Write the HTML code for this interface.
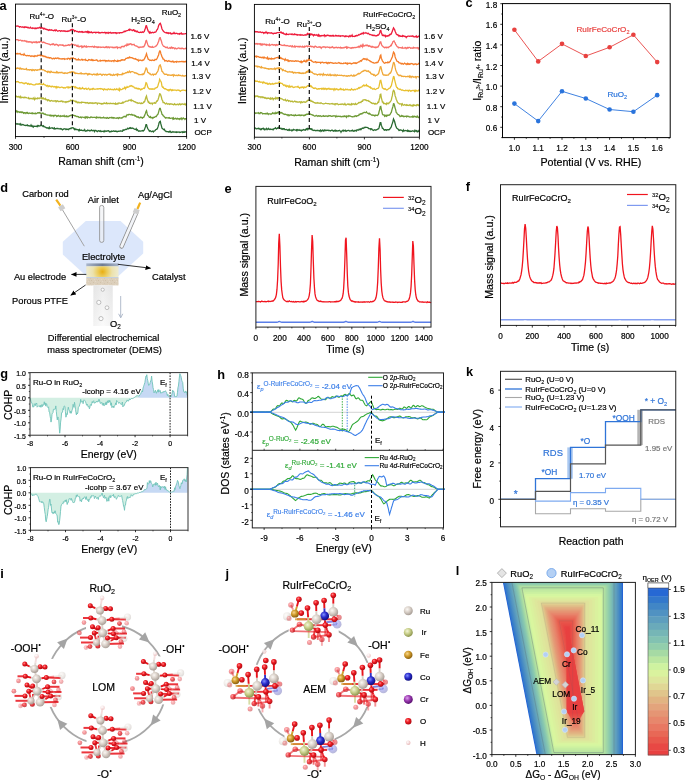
<!DOCTYPE html>
<html><head><meta charset="utf-8"><style>
html,body{margin:0;padding:0;background:#fff;}
svg{display:block;font-family:"Liberation Sans", sans-serif;will-change:transform;}
</style></head><body>
<svg width="685" height="780" viewBox="0 0 685 780">
<rect width="685" height="780" fill="#fff"/>
<path d="M15.5 26l.6 .2 .5-.1 .6-.1 .6 .2 .6-.1 .5 .5 .6 .5 .6-.5 .6 0 .5 .5 .6 0 .6 0 .5-.3 .6 .4 .6 .4 .6-.7 .5 .4 .6-.4 .6 .3 .5-.1 .6 .6 .6-.3 .6 .6 .5 .1 .6-.1 .6-.7 .6 .7 .5 .2 .6 .2 .6-.6 .5 .4 .6-.1 .6 0 .6 .7 .5-.7 .6 .2 .6 .2 .5-.6 .6 .1 .6 0 .6-.1 .5-.6 .6 .4 .6 .5 .6-1 .5 .9 .6-.1 .6-.1 .5 1.1 .6-.2 .6-.5 .6 .7 .5 .4 .6-.1 .6 .5 .5-.2 .6 .4 .6 .4 .6-.7 .5 .4 .6-.1 .6 .2 .6-.4 .5 .3 .6 .2 .6 .4 .5 .1 .6-.8 .6 .2 .6 .6 .5-.9 .6 .6 .6 .2 .5 .5 .6-.2 .6-.3 .6 0 .5 .1 .6 .6 .6-.6 .6 .1 .5 .2 .6-.1 .6 0 .5-.3 .6 .5 .6-.2 .6 .6 .5-.2 .6-.2 .6 .2 .5-.5 .6 .4 .6-.5 .6 0 .5-.9 .6 .4 .6-.8 .6-.2 .5 .6 .6-.1 .6 .5 .5 1 .6-.8 .6 .3 .6 .5 .5 .3 .6-.1 .6 .1 .5 .4 .6 0 .6-.5 .6 .4 .5 .1 .6-.4 .6 .5 .6-.4 .5 .7 .6-.2 .6-.1 .5-.2 .6 .2 .6-.6 .6 .3 .5 .6 .6-.9 .6 1.1 .5-.9 .6 .9 .6-.6 .6 .6 .5-.2 .6-.5 .6 .9 .6 .1 .5-.5 .6 0 .6 0 .5-.2 .6 .7 .6-.6 .6 .2 .5-.2 .6 .1 .6-.2 .5 .9 .6-.5 .6 .4 .6-.3 .5-.3 .6 .2 .6-.1 .6 .2 .5-.1 .6 .1 .6-.4 .5 .2 .6 .9 .6-.8 .6-.1 .5 .5 .6 .3 .6-.9 .5 .4 .6-.1 .6-.4 .6 .9 .5-.3 .6 .1 .6-.3 .6 .4 .5-.3 .6 .1 .6-.3 .5 0 .6 .9 .6-.7 .6 .3 .5-.2 .6-.1 .6-.1 .5 .4 .6-.4 .6-.1 .6 0 .5 .2 .6-.3 .6-.3 .6-.5 .5-.5 .6 .6 .6-.3 .5-.6 .6 0 .6-.2 .6-.2 .5-.2 .6-.6 .6 .5 .5-1 .6 .7 .6-.1 .6 .2 .5 .5 .6 0 .6-.7 .6 .1 .5 1.1 .6-.4 .6 .6 .5 .6 .6-.6 .6 0 .6 1 .5 .1 .6 .1 .6 .2 .5-.3 .6-.2 .6 .5 .6-.3 .5-.4 .6 .5 .6-.5 .6-.5 .5-1.6 .6-1.6 .6-2.3 .5-.1 .6 2.3 .6 1.6 .6 1.6 .5 .6 .6 1 .6-1 .5 1 .6-.3 .6 .1 .6-.5 .5 .3 .6 .3 .6-.4 .6-.1 .5-.3 .6 .1 .6-.8 .5-1.4 .6-.3 .6-1.7 .6-2.2 .5-1.1 .6-.8 .6-.5 .5 1.2 .6 2.1 .6 2.4 .6 1 .5 .8 .6 .6 .6 .5 .6 .6 .5 .2 .6 .1 .6-.3 .5 .7 .6-.4 .6 .7 .6-.7 .5 .4 .6 .1 .6-.4 .5 1.1 .6-.1 .6-.6 .6 .5 .5-.2 .6-1 .6 1 .6-.1 .5 .1 .6-.4 .6 .3 .5 .1 .6 .4 .6-.2 .6-.2 .5 .6 .6-.7 .6 0 .5-.5 .6 1.2 .6-.2 .6 0 .5-.1 .6-.1 .6 0 .6-.2 .5 .1 .6 .1" stroke="#ee1c3c" stroke-width="1.3" fill="none"/>
<text x="190.6" y="38.8" font-size="8.0" stroke="#000" stroke-width="0.2" stroke-linejoin="round">1.6 V</text>
<path d="M15.5 40l.6-.2 .5-.1 .6-.1 .6 .1 .6 .9 .5-.3 .6 0 .6-.1 .6-.1 .5 .4 .6 .5 .6-.4 .5 .2 .6 .1 .6 .2 .6-.5 .5 .5 .6-.1 .6 .7 .5-.5 .6 .6 .6 .4 .6-.6 .5 0 .6 .4 .6 0 .6-.3 .5 .6 .6 .6 .6-.8 .5 .1 .6-.3 .6 .5 .6-.5 .5 0 .6 .8 .6-.8 .5 .6 .6 0 .6-.5 .6 0 .5 .4 .6-.8 .6-.1 .6-.2 .5 .6 .6 .6 .6 0 .5-.5 .6 .3 .6 .3 .6 .5 .5 .1 .6 .3 .6 .2 .5 0 .6 .2 .6 .2 .6 0 .5 .3 .6 .5 .6-.4 .6-.1 .5-.5 .6 .7 .6-.7 .5 .2 .6 .9 .6 0 .6-.3 .5-.5 .6 .5 .6 0 .5 .5 .6 .6 .6-.7 .6-.3 .5-.1 .6 .5 .6 0 .6-.3 .5 .4 .6-.4 .6 .9 .5 0 .6 0 .6-.5 .6 .4 .5-.2 .6-.1 .6-.1 .5-.4 .6-.1 .6 .6 .6-.5 .5-.1 .6 .1 .6-1.1 .6 .3 .5 .3 .6 .2 .6-.1 .5 .8 .6-.1 .6-.2 .6 .3 .5 .8 .6 .1 .6-.8 .5 1.3 .6-.2 .6 .3 .6-.6 .5 .1 .6-.3 .6 1.3 .6-.9 .5 .7 .6-.8 .6 .3 .5-.6 .6 .5 .6 .5 .6-.8 .5 .9 .6-.3 .6-.4 .5 .2 .6 0 .6 .2 .6-.2 .5 0 .6 .2 .6-.3 .6 0 .5 .4 .6 .4 .6-.9 .5 .6 .6-.2 .6-.1 .6 .7 .5-.5 .6 .7 .6-.7 .5 .4 .6-.2 .6-.2 .6 .5 .5-.2 .6 .2 .6-.2 .6-.3 .5 .4 .6 0 .6 .4 .5-.7 .6 .3 .6-.5 .6 .8 .5-.6 .6-.2 .6 .6 .5 .4 .6-.9 .6 .2 .6 .1 .5-.1 .6 .5 .6-.4 .6 .1 .5 .5 .6-.5 .6 .4 .5-.5 .6-.1 .6-.2 .6 1.3 .5-.8 .6 .2 .6-.1 .5 0 .6-.1 .6 .5 .6-1.1 .5-.3 .6 0 .6-.3 .6 .6 .5-.2 .6-.9 .6-.4 .5 .1 .6 .4 .6-1.7 .6 .9 .5-.8 .6 .6 .6-.8 .5 .2 .6-.5 .6 .2 .6 .9 .5 0 .6-.3 .6 .1 .6-.2 .5 .8 .6 .4 .6 .2 .5 .3 .6-.1 .6 .6 .6 .2 .5 .6 .6 .3 .6-.6 .5-.1 .6 .3 .6-.2 .6-.1 .5 .1 .6-.6 .6 .3 .6-.9 .5-1 .6-1.9 .6-2.3 .5-.3 .6 2.2 .6 1.8 .6 1.5 .5 .6 .6-.1 .6 .7 .5-.4 .6 .4 .6 .1 .6-.6 .5 .7 .6 0 .6-.3 .6-.2 .5-.2 .6-.5 .6-.2 .5-.7 .6-.7 .6-1.7 .6-1.2 .5-2.1 .6-1.6 .6-.1 .5 2 .6 1.2 .6 2.5 .6 1.2 .5 .9 .6 .7 .6 .1 .6 .4 .5 .6 .6 .1 .6 .1 .5-.5 .6 .8 .6 .3 .6 .1 .5-.3 .6-.5 .6 .9 .5-.4 .6-.8 .6 1.1 .6-.6 .5 0 .6 .3 .6 .7 .6-.6 .5 .3 .6 .5 .6 0 .5-.6 .6-.1 .6-.3 .6 .2 .5 .4 .6 0 .6-.1 .5 .3 .6-.6 .6 .3 .6 .3 .5-.1 .6 .2 .6-.2 .6-.3 .5 .3 .6-.5" stroke="#f8706a" stroke-width="1.3" fill="none"/>
<text x="190.6" y="52.8" font-size="8.0" stroke="#000" stroke-width="0.2" stroke-linejoin="round">1.5 V</text>
<path d="M15.5 52.9l.6 .9 .5-.1 .6 .2 .6-.6 .6 .6 .5 0 .6 0 .6-.4 .6 .8 .5 .5 .6-.1 .6-.3 .5 .3 .6 .4 .6-1.2 .6 1 .5 .4 .6 .1 .6 .4 .5-.1 .6-.2 .6 .1 .6 .2 .5-.4 .6 .3 .6 .4 .6 .4 .5-.6 .6 .1 .6 .1 .5 .4 .6-.4 .6 .5 .6-.9 .5 .3 .6-.1 .6 .3 .5 0 .6-1 .6 .1 .6 .3 .5-.4 .6-.3 .6 .9 .6-.2 .5 .1 .6-.2 .6 .7 .5-.2 .6 .6 .6-.4 .6 .2 .5 .6 .6-.1 .6 .6 .5 0 .6-.3 .6 .5 .6-.1 .5 .5 .6-.4 .6 .1 .6 .6 .5 .5 .6-.1 .6-.6 .5 .1 .6 .5 .6-.5 .6-.3 .5 .4 .6 .2 .6-.4 .5-.2 .6 .1 .6 .7 .6-.4 .5 .2 .6 .2 .6 .2 .6-.3 .5 .3 .6-.4 .6 .2 .5-.2 .6 .8 .6-.4 .6-.2 .5 .1 .6 0 .6 .3 .5-.9 .6 .1 .6 .1 .6 .8 .5-.7 .6-.6 .6 .2 .6 .4 .5-.8 .6 0 .6 .8 .5 0 .6 .3 .6-.2 .6 1.1 .5 .1 .6-.2 .6 .1 .5-.8 .6 1 .6-.3 .6 .3 .5 .1 .6-.3 .6-.5 .6 .8 .5-.4 .6 .2 .6-.1 .5 .1 .6-.6 .6 1.2 .6-.3 .5 .3 .6 .3 .6-.6 .5-.6 .6 .3 .6-.1 .6 .3 .5 .2 .6-.7 .6 .8 .6-.6 .5 .7 .6-.2 .6 0 .5 .1 .6-.2 .6 0 .6-.3 .5 .6 .6 .7 .6 0 .5-.2 .6-.2 .6-.5 .6 .8 .5-.5 .6 0 .6-.1 .6 .2 .5-.2 .6 .2 .6-.4 .5 .3 .6 .9 .6-.8 .6 0 .5 .3 .6 0 .6-.6 .5 .4 .6 .4 .6-.3 .6 0 .5 .5 .6-.7 .6 .2 .6-.2 .5 .7 .6-1.2 .6 .5 .5 .1 .6 .4 .6-.1 .6 .3 .5-1 .6 .7 .6-.4 .5-.1 .6 .3 .6-.6 .6-.5 .5 .5 .6-.6 .6 .1 .6 .2 .5-.2 .6 .2 .6-.9 .5-.7 .6 0 .6-.3 .6-.4 .5 .4 .6-.5 .6-.6 .5 .9 .6-.4 .6 .2 .6 0 .5 .3 .6 0 .6 .6 .6 0 .5 .2 .6 .3 .6-.4 .5 .7 .6 .2 .6 .4 .6-.4 .5 1.3 .6-.4 .6-.4 .5-.1 .6 .5 .6 .1 .6-.3 .5 .2 .6-.5 .6 .1 .6-1.1 .5-.8 .6-1.5 .6-1.5 .5-1.5 .6 2.2 .6 1.8 .6 1.7 .5 0 .6 .6 .6 .4 .5-.2 .6 .1 .6 .2 .6-.6 .5 .2 .6 .3 .6 .1 .6-.3 .5-.8 .6 .2 .6 0 .5-.7 .6-1.1 .6-1.6 .6-1.2 .5-2.4 .6-1.7 .6 .1 .5 2.4 .6 1.6 .6 2 .6 .7 .5 1.4 .6 .1 .6 .7 .6 1.2 .5-.3 .6-.3 .6 .3 .5 .3 .6 .4 .6-.5 .6-.4 .5 .6 .6 .1 .6 .1 .5 .5 .6-.4 .6 .2 .6-.6 .5 .7 .6 .5 .6-.5 .6-.2 .5 0 .6 .6 .6-.9 .5 .3 .6 .2 .6 .1 .6-.4 .5 .3 .6-.2 .6 .1 .5-.1 .6-.3 .6 .4 .6 .3 .5-.6 .6 .2 .6 .4 .6-.6 .5 .4 .6-.4" stroke="#f47e2a" stroke-width="1.3" fill="none"/>
<text x="191.2" y="66.2" font-size="8.0" stroke="#000" stroke-width="0.2" stroke-linejoin="round">1.4 V</text>
<path d="M15.5 68.1l.6 .5 .5 0 .6-.7 .6 .4 .6-.1 .5 .1 .6 .6 .6-.9 .6 .9 .5-.3 .6 .6 .6-.3 .5-.2 .6 .4 .6 .2 .6-.1 .5 .2 .6-.3 .6-.5 .5 1.2 .6 0 .6-.1 .6 0 .5 .4 .6-.4 .6 0 .6 .2 .5 .5 .6-.8 .6 .9 .5-.6 .6-.1 .6 .8 .6-.5 .5-.4 .6 .2 .6 .4 .5 0 .6-.6 .6 .1 .6 .1 .5-.6 .6 .3 .6-.1 .6-.2 .5 .2 .6 .3 .6 .1 .5 0 .6 .3 .6 .7 .6-.1 .5 .5 .6 .3 .6-.1 .5 .8 .6-1 .6 .7 .6-.3 .5 .8 .6 0 .6-1.2 .6 .4 .5 .6 .6 .1 .6 .1 .5-.3 .6 .3 .6 .1 .6-.2 .5 .4 .6-1.1 .6 1 .5-.5 .6 .7 .6-.4 .6-.1 .5 .4 .6-.4 .6 .1 .6-.2 .5 .5 .6 .3 .6 .2 .5-.4 .6 .5 .6-.4 .6 0 .5 .2 .6 .2 .6-.5 .5-.1 .6-.1 .6-.1 .6-.5 .5 .5 .6-.7 .6 .2 .6-.5 .5 .4 .6 .1 .6-.1 .5 1.1 .6-.4 .6 .8 .6-.1 .5-.3 .6 .2 .6 .4 .5 0 .6 0 .6 0 .6-.5 .5 .5 .6-.6 .6 .9 .6-.3 .5 0 .6 .2 .6 .2 .5-.6 .6-.1 .6 .3 .6-.3 .5 .3 .6 1 .6-.9 .5 .6 .6-.7 .6 .6 .6-.2 .5 .1 .6 .3 .6 .4 .6-.5 .5 0 .6-.4 .6 .6 .5-.3 .6 .4 .6-.3 .6 .6 .5-1.3 .6 .7 .6 .4 .5-.4 .6-.2 .6 .2 .6-.3 .5 .5 .6 .8 .6-.4 .6-.8 .5 .1 .6 .2 .6 .5 .5-.6 .6 0 .6 .6 .6 0 .5-.4 .6-.3 .6-.1 .5 .3 .6-.5 .6 1 .6-.4 .5 .4 .6 .5 .6-.3 .6-.8 .5 .8 .6 .1 .6-.7 .5-.1 .6 .3 .6-.5 .6 1.1 .5-1.4 .6 .4 .6 .3 .5-.1 .6 .1 .6 0 .6-.3 .5 .3 .6-1.3 .6 .6 .6-.5 .5 .1 .6-.2 .6-.6 .5-.2 .6 .2 .6-.4 .6-.6 .5 .8 .6-.1 .6-1.4 .5 .5 .6 .8 .6-.6 .6-.1 .5 0 .6 0 .6 .3 .6 .2 .5 .7 .6-.2 .6 .3 .5 0 .6 .6 .6-.1 .6 .5 .5 .6 .6-.1 .6 .1 .5 0 .6 0 .6-.1 .6-.1 .5 .2 .6-.8 .6 .5 .6-1.1 .5-1.4 .6-1.7 .6-2.2 .5 .1 .6 1.7 .6 2.6 .6 .4 .5 .2 .6 .9 .6-.2 .5 .8 .6 .5 .6-.1 .6-.7 .5 .1 .6 .9 .6-.7 .6-.2 .5 .1 .6 .2 .6-.8 .5-1.1 .6-.8 .6-1.1 .6-2.2 .5-2.2 .6-1.1 .6-.3 .5 1.9 .6 2 .6 2.6 .6 .1 .5 1.2 .6 .6 .6 .7 .6 .5 .5-.3 .6 .1 .6-.1 .5 .3 .6 .7 .6-.1 .6-.3 .5 .2 .6 .2 .6 .2 .5-.3 .6 .1 .6-.5 .6 .3 .5 1 .6-1.3 .6 .6 .6 .2 .5-.2 .6-.1 .6 .3 .5 0 .6 0 .6-.6 .6 .6 .5-.2 .6 .1 .6 .3 .5 .1 .6 .1 .6-.5 .6 .5 .5 .1 .6 0 .6 .1 .6-.5 .5 0 .6 .3" stroke="#f0a838" stroke-width="1.3" fill="none"/>
<text x="192.0" y="78.9" font-size="8.0" stroke="#000" stroke-width="0.2" stroke-linejoin="round">1.3 V</text>
<path d="M15.5 81.2l.6 .7 .5-.2 .6 .2 .6-.4 .6 .4 .5 .4 .6 .4 .6 .2 .6-.3 .5 .1 .6-.2 .6 .6 .5-.2 .6 .4 .6 .5 .6-.5 .5-.5 .6 .4 .6-.2 .5 .2 .6 1 .6-.3 .6-.5 .5 .8 .6 .3 .6-.5 .6 0 .5 .1 .6 .3 .6 .2 .5 .2 .6 .1 .6 0 .6 0 .5-.3 .6-.8 .6 .4 .5 .1 .6-.3 .6 .3 .6-.5 .5-.3 .6 .8 .6-.2 .6-.1 .5 .3 .6 .2 .6-.1 .5-.8 .6 .9 .6 .3 .6 0 .5 .6 .6 .6 .6-.5 .5 0 .6 1.2 .6-.7 .6-.2 .5 .6 .6 .1 .6-.3 .6 .6 .5-.4 .6-.1 .6 .4 .5 .3 .6-.5 .6 .4 .6-.1 .5 1.1 .6-1.2 .6 .8 .5-.5 .6 0 .6 .4 .6 .1 .5 .1 .6-.2 .6-.3 .6 0 .5 .4 .6 .1 .6 .3 .5-.3 .6 .3 .6 .2 .6-.5 .5-.5 .6 0 .6-.1 .5 1 .6-1 .6 .6 .6-.4 .5 .2 .6-.4 .6-.6 .6-.1 .5 .2 .6 .1 .6-.1 .5 .4 .6 .9 .6-.9 .6 .9 .5-.2 .6 .5 .6 .4 .5-.3 .6 .4 .6-.8 .6 1 .5-.6 .6 .5 .6-.1 .6-1 .5 .7 .6 .4 .6 .4 .5-.4 .6 0 .6-.5 .6 1 .5 .2 .6-.6 .6-.1 .5-.5 .6 .9 .6 .7 .6-.7 .5 .2 .6-.2 .6-.5 .6 .8 .5-.9 .6 .4 .6 .2 .5 .2 .6-.1 .6 0 .6-.4 .5-.1 .6 .5 .6-.3 .5-.2 .6 0 .6 .3 .6-.4 .5 .2 .6-.1 .6 .6 .6 .1 .5 .6 .6-1.2 .6 .3 .5 .6 .6-.4 .6 0 .6 .7 .5-.7 .6-.3 .6 0 .5 .6 .6 0 .6-.6 .6 .2 .5 .5 .6 0 .6-.4 .6 .5 .5 0 .6-.8 .6 .5 .5 .2 .6-.3 .6-.6 .6 .7 .5 .3 .6 .3 .6-1.4 .5 1.7 .6-1.4 .6 .6 .6 0 .5-.2 .6-.4 .6-.7 .6 .4 .5-.6 .6-.9 .6 1.6 .5-1 .6 .1 .6-1.2 .6 .6 .5-.1 .6-.2 .6-.7 .5-.4 .6 .3 .6-.7 .6 .3 .5 .7 .6-.2 .6 .5 .6 .3 .5 .9 .6 .1 .6-.2 .5 .7 .6-.5 .6 .4 .6 .6 .5-.6 .6 .5 .6-.3 .5 .6 .6 .6 .6-.9 .6 .3 .5-.5 .6-.3 .6-.4 .6 .3 .5-.7 .6-2.5 .6-2.5 .5 .3 .6 1.6 .6 2.3 .6 1 .5 .7 .6 .5 .6-.2 .5 .2 .6-.4 .6 .5 .6-.4 .5 .4 .6-.3 .6 .2 .6 0 .5-.9 .6-.1 .6-.4 .5-.1 .6-.5 .6-1.6 .6-2.1 .5-1.4 .6-2.6 .6 1.1 .5 .8 .6 1.3 .6 3.7 .6 .9 .5-.1 .6 1.1 .6 .3 .6 .5 .5-.3 .6 .4 .6 .6 .5 0 .6 .5 .6-.3 .6 .8 .5-1 .6 .4 .6-.7 .5 .3 .6 .9 .6-.8 .6 .6 .5-.2 .6-.3 .6 .2 .6 0 .5 0 .6 .5 .6-.1 .5-.4 .6-.1 .6 .4 .6-.1 .5 .4 .6 .6 .6-.6 .5-.3 .6-.1 .6-.2 .6 0 .5 0 .6 .2 .6 0 .6 .4 .5-.4 .6 .1" stroke="#e8c030" stroke-width="1.3" fill="none"/>
<text x="192.5" y="93.8" font-size="8.0" stroke="#000" stroke-width="0.2" stroke-linejoin="round">1.2 V</text>
<path d="M15.5 95.6l.6 1.1 .5-.3 .6 .5 .6-.2 .6 .3 .5-.5 .6 .5 .6 .8 .6-1.3 .5 .9 .6 .3 .6-.4 .5 .2 .6 .3 .6-.6 .6 .5 .5-.4 .6 .2 .6 .1 .5 .2 .6 .2 .6 .2 .6-.6 .5 1.3 .6-.2 .6-.1 .6-.3 .5 .2 .6 .3 .6 0 .5-.8 .6 .9 .6 .8 .6-1.7 .5 1 .6-.3 .6-.2 .5 .4 .6-1 .6 .4 .6 .4 .5-.7 .6-.1 .6 .2 .6-.2 .5 .8 .6-.7 .6 .8 .5-.6 .6 .9 .6 0 .6-.7 .5 1.2 .6-.2 .6 .4 .5 .8 .6-.8 .6 .1 .6 1 .5-.4 .6 .6 .6-.4 .6-.3 .5 .3 .6 .5 .6 0 .5-.3 .6 .1 .6-.1 .6-.1 .5 1 .6-.7 .6-.3 .5 .2 .6 .5 .6 0 .6-.2 .5-.2 .6 .3 .6-.5 .6 .1 .5 .8 .6-.4 .6 .4 .5 .3 .6-.2 .6-.2 .6 .8 .5-.5 .6-.4 .6 .3 .5-.1 .6-.6 .6 .2 .6-.3 .5-.9 .6 .5 .6-.2 .6-.1 .5-.4 .6 .6 .6 .3 .5 .2 .6-.1 .6 .8 .6-.4 .5 .6 .6 .7 .6-.6 .5 .1 .6 .7 .6-.5 .6 0 .5 .3 .6 .3 .6-1.1 .6 .5 .5-.1 .6 0 .6 .1 .5 .1 .6 .4 .6-.4 .6 .4 .5 .1 .6-.4 .6 .4 .5 .5 .6-.4 .6-.3 .6 .2 .5-.3 .6 .4 .6 .3 .6-.6 .5 .2 .6 .5 .6-.5 .5 .2 .6-.4 .6 .1 .6 .1 .5 1 .6-.9 .6 0 .5 0 .6 .2 .6 .3 .6-.2 .5 .7 .6-.6 .6 .4 .6-.4 .5 .2 .6-.8 .6 .5 .5 .1 .6-.1 .6-.6 .6 1 .5-.4 .6 0 .6 .1 .5 0 .6 .2 .6-.5 .6 .1 .5 .4 .6 0 .6-.2 .6 0 .5-.1 .6 .3 .6 .4 .5-.8 .6 .9 .6-.2 .6-.5 .5 .5 .6-.9 .6-.1 .5 .1 .6 .3 .6-.1 .6-.2 .5 .1 .6-.9 .6 .7 .6-.9 .5 .1 .6-.2 .6-.5 .5-.3 .6-.1 .6 .1 .6 0 .5-.3 .6-.7 .6 0 .5-.1 .6 .4 .6-.8 .6 1.2 .5-.5 .6 .1 .6 .6 .6 .5 .5 0 .6 .5 .6-.1 .5 .7 .6 .2 .6-.2 .6 .7 .5-.3 .6 .1 .6-.2 .5 .3 .6 .4 .6-.7 .6 .6 .5-.2 .6-.3 .6-1.2 .6 .1 .5-.8 .6-2.3 .6-1.8 .5-1.1 .6 3.1 .6 1.4 .6 1.7 .5-.3 .6 1.3 .6-.1 .5 .5 .6-.5 .6 .1 .6 1 .5-1.1 .6 0 .6 0 .6-.4 .5 .6 .6-.2 .6-1.3 .5-.9 .6 .1 .6-1.3 .6-1.8 .5-1.9 .6-2.2 .6 .2 .5 1.2 .6 2 .6 2.6 .6 .7 .5 1.9 .6-.1 .6 .2 .6 .8 .5 .6 .6-.2 .6-.5 .5 .7 .6 .4 .6-.5 .6-.1 .5 .7 .6-.2 .6-.4 .5 .3 .6-.1 .6 .4 .6-.1 .5 .4 .6-.1 .6-.8 .6 .7 .5 .2 .6-.2 .6 .3 .5-.6 .6-.1 .6 .7 .6-.7 .5-.4 .6 1.1 .6-.6 .5 .2 .6-.4 .6 0 .6 .1 .5 .3 .6 .2 .6-.9 .6 1.1 .5-.7 .6 .1" stroke="#b8b838" stroke-width="1.3" fill="none"/>
<text x="193.2" y="108.9" font-size="8.0" stroke="#000" stroke-width="0.2" stroke-linejoin="round">1.1 V</text>
<path d="M15.5 111.5l.6-.1 .5-.5 .6 1.3 .6-.8 .6 .4 .5 .1 .6 .5 .6-.6 .6 .6 .5-.5 .6 .7 .6-.5 .5 .2 .6 .9 .6-.5 .6 0 .5 .8 .6-.6 .6-.3 .5 .6 .6-.6 .6 .9 .6 .1 .5-.6 .6 .1 .6 .3 .6 0 .5-.3 .6 .6 .6-.8 .5 .5 .6 .1 .6 0 .6 .2 .5-.6 .6 .6 .6-.3 .5-.3 .6-.4 .6 0 .6 .4 .5-.5 .6 .3 .6 .4 .6 0 .5 .3 .6-.6 .6-.1 .5 .9 .6 0 .6 .5 .6-.2 .5 .6 .6 .1 .6 .1 .5 .1 .6 .1 .6 0 .6 .1 .5 .4 .6-.5 .6 .8 .6-.6 .5 .5 .6-.4 .6 0 .5 .9 .6-.8 .6-.3 .6 .2 .5 .2 .6 .9 .6-.6 .5 .3 .6-.7 .6 .5 .6 .2 .5 .4 .6-.8 .6 .5 .6-.1 .5-.4 .6 .4 .6-.1 .5-.7 .6 1.1 .6 0 .6-.4 .5-.3 .6 1 .6-.5 .5 .2 .6 0 .6-.8 .6 .3 .5-.6 .6-.1 .6-.2 .6 0 .5 .4 .6-.3 .6 .1 .5 .2 .6 .5 .6-.2 .6 .4 .5 .3 .6 0 .6 .2 .5 0 .6 .9 .6-.2 .6-.2 .5-.2 .6 .8 .6-.6 .6-.1 .5 .1 .6 .1 .6 .4 .5-.5 .6 .8 .6-1.1 .6 .6 .5-.6 .6 1 .6-.7 .5 .1 .6 .4 .6 .1 .6-.8 .5 .3 .6-.3 .6 .5 .6-.1 .5 0 .6-.1 .6 .1 .5-.1 .6 .5 .6 .3 .6-1.2 .5 .7 .6-.1 .6 .3 .5-.5 .6 .3 .6-.3 .6 .7 .5-.2 .6-.1 .6 .2 .6-.2 .5-.5 .6 .8 .6-.1 .5-.1 .6 .4 .6 .1 .6-.8 .5 .1 .6 .8 .6 0 .5-.7 .6-.2 .6 .2 .6 .1 .5-.4 .6 .6 .6-.5 .6 .1 .5 .7 .6-.5 .6 .2 .5 .2 .6 .1 .6-.4 .6 .1 .5-.3 .6 .9 .6-.5 .5-.6 .6 .3 .6 .2 .6-.2 .5 .3 .6-.3 .6-.9 .6 0 .5-.6 .6 .2 .6-.2 .5 .6 .6-1.2 .6-1 .6 .3 .5 .1 .6-.7 .6 0 .5 .1 .6 .3 .6-.2 .6-.2 .5 .8 .6-.3 .6 .2 .6-.1 .5 .5 .6 .7 .6-.5 .5 .8 .6 .5 .6-.2 .6 .4 .5-.3 .6 1 .6 0 .5-.2 .6-.6 .6 .2 .6 .6 .5 .2 .6-.7 .6-.1 .6-1.2 .5-1 .6-1.7 .6-2 .5-.8 .6 2.8 .6 2 .6 .3 .5 .6 .6 1 .6-.1 .5-.5 .6 1.2 .6-.2 .6-.2 .5 .9 .6-.8 .6-.4 .6 .1 .5-.6 .6-.2 .6 0 .5-1 .6-.8 .6-.6 .6-2 .5-2 .6-1.6 .6 0 .5 1.9 .6 1.5 .6 2.4 .6 .3 .5 1.1 .6 .3 .6 .8 .6 .6 .5 .6 .6-.5 .6 .4 .5-.1 .6 0 .6-.1 .6 .5 .5-.5 .6 .7 .6 0 .5-.2 .6-.1 .6-.1 .6 1.1 .5-1.1 .6 1.1 .6-.3 .6-.4 .5-.2 .6 .8 .6 .2 .5-.9 .6 .2 .6 .5 .6-.2 .5 .6 .6-.9 .6 .4 .5-.7 .6 1.2 .6-1 .6-.5 .5 .8 .6 0 .6 .7 .6-.8 .5 .1 .6 .2" stroke="#6e9a36" stroke-width="1.3" fill="none"/>
<text x="194.1" y="122.5" font-size="8.0" stroke="#000" stroke-width="0.2" stroke-linejoin="round">1 V</text>
<path d="M15.5 124.1l.6-.5 .5 .5 .6-.1 .6-.2 .6 .3 .5 0 .6-.2 .6 .9 .6-.9 .5 1 .6 .1 .6-.3 .5-.2 .6 .3 .6 .4 .6 .1 .5 0 .6 .3 .6-.4 .5 .3 .6-.5 .6 .9 .6-.2 .5-.1 .6 .6 .6 0 .6-1.2 .5 1.1 .6-.5 .6 .9 .5 .6 .6-1 .6 .2 .6-.1 .5 .1 .6 .1 .6 .1 .5-.8 .6 .8 .6-1 .6 .3 .5 .3 .6-.2 .6-.6 .6 .1 .5 .2 .6 .3 .6 .6 .5-.7 .6 .9 .6 .2 .6 .2 .5 .2 .6 .6 .6-.2 .5 .3 .6 0 .6 .5 .6-1.2 .5 1.2 .6-.4 .6 0 .6-.1 .5-.3 .6 .6 .6-.1 .5 .5 .6-.7 .6 1.1 .6-.4 .5-.1 .6-.1 .6 0 .5-.1 .6 .3 .6 .2 .6 0 .5-.4 .6 .5 .6-.2 .6 .4 .5 .6 .6-.4 .6-.3 .5-.4 .6 .1 .6 0 .6 .8 .5-.5 .6 .3 .6-.3 .5 .2 .6 .3 .6-.9 .6 0 .5-.4 .6 .4 .6-.8 .6-.1 .5-.1 .6 .1 .6 .9 .5 .9 .6-.9 .6 .9 .6 0 .5-.3 .6 .4 .6 .2 .5-.1 .6 1 .6-1.3 .6 .8 .5 .1 .6-.3 .6 .3 .6 .2 .5-.2 .6 .1 .6 .1 .5-.9 .6 1.3 .6 .3 .6-.5 .5 .1 .6-.8 .6 .4 .5-.2 .6 .1 .6 .6 .6-.6 .5 .2 .6-.6 .6 .7 .6 .1 .5-.3 .6 0 .6 1 .5-1.1 .6 .1 .6 .1 .6 .7 .5 .4 .6-.6 .6-.4 .5 .1 .6 .6 .6-.7 .6 .8 .5 0 .6-.4 .6 .2 .6 .1 .5 .3 .6-.9 .6 .8 .5-.6 .6-.1 .6 .3 .6-.1 .5-.2 .6-.2 .6 .2 .5 .9 .6 .2 .6-.5 .6 .2 .5-.6 .6 .2 .6 .1 .6-.4 .5 0 .6 .4 .6-.1 .5-.3 .6 .5 .6-.2 .6 .4 .5-.3 .6-.2 .6 .1 .5-.1 .6-.3 .6 .1 .6 .2 .5-.1 .6 .1 .6-1.3 .6 .3 .5-.2 .6-.1 .6-.4 .5-.3 .6 .2 .6-.5 .6-.7 .5 .7 .6-.3 .6-.7 .5 .5 .6-.6 .6 .7 .6-.4 .5-.1 .6 .3 .6 .1 .6 .6 .5 .2 .6 .2 .6 .1 .5-.8 .6 1.5 .6-.5 .6 1 .5 .5 .6-.2 .6-.1 .5 .1 .6 .1 .6-.2 .6-.1 .5-.2 .6 .5 .6-.8 .6-.2 .5-1.5 .6-1.7 .6-2.2 .5 0 .6 2.1 .6 1.7 .6 .9 .5 .6 .6 1.2 .6-.4 .5 .1 .6 .7 .6-.1 .6-.2 .5-.3 .6 .8 .6-.8 .6-.1 .5-.4 .6-.8 .6-.4 .5 0 .6-.9 .6-1.5 .6-2 .5-2.1 .6-1.1 .6-.4 .5 2.4 .6 2.1 .6 2.3 .6 .6 .5 .4 .6 .5 .6-.4 .6 1.3 .5 .4 .6 .6 .6 0 .5 .2 .6-.1 .6 .3 .6 .3 .5-.8 .6 .3 .6-.3 .5 1.1 .6-.1 .6-.2 .6-.6 .5 .5 .6-.2 .6 .2 .6-.1 .5 .3 .6-.4 .6 .5 .5-.2 .6-.2 .6 .1 .6-.1 .5 .4 .6-.3 .6 .2 .5-.3 .6-.3 .6 .8 .6-.7 .5 .6 .6 0 .6-.8 .6 .3 .5 .2 .6-.1" stroke="#2a6a32" stroke-width="1.3" fill="none"/>
<text x="194.4" y="135.4" font-size="8.0" stroke="#000" stroke-width="0.2" stroke-linejoin="round">OCP</text>
<line x1="41.20" y1="23.30" x2="41.20" y2="128.00" stroke="#111" stroke-width="1.2" stroke-dasharray="4 3"/>
<line x1="72.40" y1="23.30" x2="72.40" y2="128.00" stroke="#111" stroke-width="1.2" stroke-dasharray="4 3"/>
<rect x="15.50" y="4.10" width="171.10" height="132.50" fill="none" stroke="#000" stroke-width="0.9"/>
<line x1="15.50" y1="136.60" x2="15.50" y2="138.80" stroke="#000" stroke-width="0.8"/>
<text x="15.5" y="149.6" font-size="8.2" text-anchor="middle" stroke="#000" stroke-width="0.2" stroke-linejoin="round">300</text>
<line x1="72.53" y1="136.60" x2="72.53" y2="138.80" stroke="#000" stroke-width="0.8"/>
<text x="72.5" y="149.6" font-size="8.2" text-anchor="middle" stroke="#000" stroke-width="0.2" stroke-linejoin="round">600</text>
<line x1="129.57" y1="136.60" x2="129.57" y2="138.80" stroke="#000" stroke-width="0.8"/>
<text x="129.6" y="149.6" font-size="8.2" text-anchor="middle" stroke="#000" stroke-width="0.2" stroke-linejoin="round">900</text>
<line x1="186.60" y1="136.60" x2="186.60" y2="138.80" stroke="#000" stroke-width="0.8"/>
<text x="186.6" y="149.6" font-size="8.2" text-anchor="middle" stroke="#000" stroke-width="0.2" stroke-linejoin="round">1200</text>
<line x1="44.02" y1="136.60" x2="44.02" y2="137.90" stroke="#000" stroke-width="0.7"/>
<line x1="101.05" y1="136.60" x2="101.05" y2="137.90" stroke="#000" stroke-width="0.7"/>
<line x1="158.08" y1="136.60" x2="158.08" y2="137.90" stroke="#000" stroke-width="0.7"/>
<text x="101.0" y="165.1" font-size="10.5" text-anchor="middle" stroke="#000" stroke-width="0.2" stroke-linejoin="round">Raman shift (cm<tspan font-size="6.30" baseline-shift="3.78" stroke-width="0.13">-1</tspan>)</text>
<text x="7.8" y="70.3" font-size="10.5" text-anchor="middle" stroke="#000" stroke-width="0.2" stroke-linejoin="round" transform="rotate(-90 7.8 70.3)">Intensity (a.u.)</text>
<text x="-0.5" y="9.6" font-size="12.8" font-weight="bold">a</text>
<text x="41.8" y="19.4" font-size="8" text-anchor="middle" stroke="#000" stroke-width="0.2" stroke-linejoin="round">Ru<tspan font-size="4.80" baseline-shift="2.88" stroke-width="0.13">4+</tspan>-O</text>
<text x="73.9" y="22.4" font-size="8" text-anchor="middle" stroke="#000" stroke-width="0.2" stroke-linejoin="round">Ru<tspan font-size="4.80" baseline-shift="2.88" stroke-width="0.13">3+</tspan>-O</text>
<text x="143.0" y="21.9" font-size="8" text-anchor="middle" stroke="#000" stroke-width="0.2" stroke-linejoin="round">H<tspan font-size="5.44" baseline-shift="-1.60" stroke-width="0.13">2</tspan>SO<tspan font-size="5.44" baseline-shift="-1.60" stroke-width="0.13">4</tspan></text>
<text x="171.4" y="15.4" font-size="8" text-anchor="middle" stroke="#000" stroke-width="0.2" stroke-linejoin="round">RuO<tspan font-size="5.44" baseline-shift="-1.60" stroke-width="0.13">2</tspan></text>
<path d="M254.4 31.2l.6 .7 .5-.3 .6 .3 .5-.2 .6 .3 .5-.3 .6 .3 .5 .3 .6-.2 .5-.1 .6-.1 .5 .4 .6 .2 .5-.2 .6-.1 .5 .5 .6 .7 .5-.9 .6 .3 .5 0 .6-1 .5 1 .6-.2 .5 .8 .6-.6 .5-.1 .6 .2 .6 .2 .5-.2 .6 .2 .5-.4 .6 .4 .5 .3 .6 .4 .5-.5 .6-.2 .5 .3 .6-.2 .5 .2 .6-.3 .5-.5 .6 .1 .5-.1 .6 0 .5 0 .6-.3 .5-.3 .6 .6 .5-.4 .6 .9 .5 .2 .6-.5 .5 1 .6 .2 .6-.1 .5 .6 .6 .2 .5-1 .6 .8 .5-.1 .6 0 .5 .2 .6-.5 .5 0 .6 0 .5 0 .6 .3 .5-.4 .6 .1 .5 .6 .6-.2 .5 .2 .6-.8 .5 .5 .6 .1 .5 .2 .6-.2 .5 .6 .6-.4 .5 .1 .6 0 .6 .3 .5-.4 .6 .6 .5-.3 .6 0 .5-.1 .6 .2 .5 .2 .6-.1 .5-.2 .6 .1 .5-.3 .6 .2 .5-.6 .6-.8 .5 1 .6-.5 .5-.5 .6 .3 .5-.1 .6 1.1 .5-.4 .6-.5 .5 .9 .6-.1 .5 .9 .6-.9 .6-.3 .5 .8 .6-.1 .5 0 .6-.5 .5 .9 .6 .4 .5-1.2 .6 1.1 .5-.6 .6 1 .5-.6 .6-.2 .5 .4 .6-.2 .5-.3 .6 .4 .5-.4 .6-.4 .5 1.3 .6-.8 .5-.1 .6 .4 .5-.7 .6 .1 .5 .3 .6 0 .6 .3 .5 .3 .6-.5 .5 .3 .6 .1 .5-.6 .6 .5 .5-.4 .6 .7 .5-.2 .6-.2 .5-.4 .6 .5 .5-.3 .6 .5 .5-.2 .6-.3 .5 .6 .6 0 .5-.5 .6 .6 .5-.5 .6 0 .5 .2 .6-.3 .5 .1 .6 .1 .5 .6 .6 0 .6-.6 .5 .7 .6-.6 .5 .2 .6 .2 .5-.2 .6 .7 .5-.8 .6-.5 .5 .9 .6-.6 .5 .1 .6-1 .5 1.4 .6-.1 .5 0 .6 0 .5 .2 .6-.7 .5 .3 .6-.7 .5 0 .6 .4 .5-.4 .6-.8 .5 .4 .6-.4 .6-.5 .5 .2 .6-.5 .5-.6 .6 0 .5 .8 .6-1.3 .5 .5 .6 0 .5 0 .6-.6 .5 .4 .6 .3 .5 .4 .6-.4 .5 .1 .6 .9 .5 .3 .6 0 .5-.1 .6 .5 .5 .1 .6 .4 .5-.5 .6 .6 .5 0 .6-.3 .6 .5 .5 0 .6-.2 .5 .2 .6-.8 .5 .2 .6-.3 .5-.8 .6-1.1 .5-2.3 .6-.3 .5 2.1 .6 1.5 .5 1.4 .6-.1 .5-.2 .6 .8 .5-.5 .6-.2 .5 1.5 .6-.8 .5 .1 .6-.2 .5 .4 .6-.7 .5 .2 .6-1.1 .6-.5 .5 .5 .6-.7 .5-1.3 .6-1.5 .5-1.7 .6-1.5 .5 .8 .6 .9 .5 1.6 .6 1.4 .5 1.3 .6 .5 .5 .6 .6-.3 .5 .8 .6 .8 .5-.8 .6 .3 .5 .5 .6 .1 .5-.1 .6-.7 .5 .8 .6-.6 .5 .2 .6 .5 .6-.3 .5 .4 .6 .9 .5-.9 .6 0 .5-.5 .6 .1 .5-.1 .6 .2 .5-.2 .6 .1 .5 .2 .6-.3 .5-.1 .6 0 .5 .7 .6-.2 .5 .4 .6 0 .5-.5 .6 .4 .5-.8 .6 1.3 .5-.3 .6-.5 .5-.4 .6 .6" stroke="#ee1c3c" stroke-width="1.3" fill="none"/>
<text x="424.1" y="38.8" font-size="8.0" stroke="#000" stroke-width="0.2" stroke-linejoin="round">1.6 V</text>
<path d="M254.4 42.9l.6 .5 .5 .6 .6-.2 .5-.2 .6 .6 .5-.6 .6 .5 .5-.2 .6-.1 .5 .5 .6-.5 .5 1.1 .6-.8 .5 .9 .6-1 .5 .6 .6-.5 .5-.1 .6 .6 .5 .2 .6-.6 .5 .9 .6-.6 .5 .3 .6 .2 .5 .1 .6-.8 .6 1.2 .5-.3 .6-.4 .5-.1 .6-.3 .5 .2 .6 .6 .5-.3 .6-.3 .5 .2 .6 .7 .5-.7 .6-.2 .5 .7 .6-.4 .5-.1 .6-.3 .5-.3 .6 .2 .5 .3 .6 .2 .5 .3 .6 .2 .5 0 .6 .1 .5-.3 .6-.3 .6 .6 .5 0 .6 .1 .5 .2 .6-.3 .5 .1 .6 .4 .5 .1 .6-.2 .5 .4 .6-.2 .5-.3 .6 .4 .5 .7 .6-.9 .5 .7 .6 .1 .5 .1 .6-.8 .5 1 .6-.7 .5-.1 .6 .1 .5 .3 .6-.2 .5 0 .6 .5 .6-.7 .5-.1 .6 .7 .5 0 .6 .1 .5-.7 .6 .7 .5-.2 .6 .5 .5-1.1 .6 .5 .5-.2 .6-.6 .5 .2 .6 .6 .5-.7 .6-.1 .5 .5 .6 .1 .5 0 .6-.5 .5 .3 .6 .6 .5-.5 .6 .1 .5 .6 .6 .4 .6-.9 .5-.5 .6 .5 .5 .1 .6 .4 .5 .2 .6-.2 .5-.2 .6 .3 .5-.4 .6 .4 .5-.2 .6 1.2 .5-.7 .6-.5 .5-.1 .6 .2 .5-.4 .6 .3 .5 0 .6 .6 .5-.4 .6-.1 .5-.2 .6 .1 .5 .4 .6-.1 .6 .5 .5-.6 .6 .6 .5-.3 .6-.1 .5-.7 .6 .3 .5 .7 .6 .3 .5-.4 .6 .2 .5-.4 .6 0 .5-.1 .6 .6 .5-.2 .6-.2 .5 0 .6 .3 .5-.1 .6-.4 .5 .9 .6-.5 .5-.1 .6 .5 .5-.1 .6-.4 .5 .2 .6-.5 .6 .1 .5-.5 .6 1.2 .5-1.1 .6 .9 .5-.5 .6 0 .5 .2 .6 .2 .5 .1 .6 .4 .5-.5 .6 .2 .5-.5 .6 .4 .5-.2 .6-.2 .5 .1 .6-.1 .5 .1 .6-.1 .5-.4 .6-.2 .5 .4 .6-1 .5 .3 .6 .6 .6-1.7 .5 .5 .6 .3 .5-1 .6 1.4 .5-2 .6 1.3 .5 0 .6-.3 .5-.4 .6 .2 .5-.4 .6 .7 .5-.6 .6 .5 .5 .6 .6-.6 .5 .4 .6 .4 .5-.3 .6 1 .5-.2 .6-.5 .5 .7 .6-.2 .5 .1 .6 .3 .6-.3 .5 .6 .6-.6 .5 .4 .6-.5 .5 0 .6-1.1 .5-.9 .6-1.8 .5-1.2 .6 0 .5 2.1 .6 1.3 .5 .7 .6 .4 .5 .6 .6 0 .5 .7 .6-.1 .5-.6 .6 0 .5 .7 .6-.4 .5-.2 .6 .4 .5-.8 .6-.1 .6-.4 .5-.9 .6 .3 .5-1.6 .6-.9 .5-1.5 .6-.5 .5-.3 .6 1.1 .5 .8 .6 1.8 .5 .4 .6 1.2 .5 .5 .6 .2 .5 .9 .6-.3 .5 .1 .6 0 .5 0 .6 .4 .5 .1 .6-.8 .5 .9 .6-.1 .5 .1 .6-.1 .6-.6 .5 .1 .6 1 .5-.5 .6-.6 .5 .7 .6-.3 .5-.5 .6-.1 .5 .2 .6 .7 .5-.1 .6-.1 .5 .2 .6 .1 .5-.9 .6 .6 .5-.2 .6-.1 .5 .2 .6 .2 .5-.1 .6-.4 .5 .4 .6 .9 .5-1.1 .6-.2" stroke="#f8706a" stroke-width="1.3" fill="none"/>
<text x="424.1" y="52.8" font-size="8.0" stroke="#000" stroke-width="0.2" stroke-linejoin="round">1.5 V</text>
<path d="M254.4 56.3l.6 .2 .5 .1 .6-.5 .5 .8 .6-.5 .5 0 .6 .2 .5 .3 .6 .4 .5 0 .6-.1 .5 .4 .6-.2 .5 .4 .6-.7 .5 0 .6 .9 .5-.7 .6 .5 .5 .1 .6 0 .5 .1 .6 .7 .5-1.3 .6 1.2 .5 .6 .6-.7 .6 0 .5 .3 .6 .4 .5-1 .6 .5 .5-.1 .6 .2 .5-.2 .6 .1 .5-.5 .6 0 .5-.4 .6-.1 .5 0 .6-.1 .5-.4 .6 .9 .5-.5 .6-.4 .5 1.1 .6-.5 .5 .7 .6 0 .5 .4 .6 .2 .5 0 .6 .4 .6 .9 .5-1.3 .6 1 .5 .2 .6-.4 .5 0 .6 1.3 .5-.8 .6 .9 .5-.5 .6-.1 .5 .2 .6 .1 .5 .2 .6-.2 .5-.1 .6 .1 .5 .4 .6-.1 .5-.6 .6 .2 .5 .3 .6-.3 .5 .2 .6-.2 .5 .3 .6 .3 .6 .2 .5-.3 .6 .8 .5-.8 .6 1.2 .5-.7 .6-.2 .5-.4 .6-.8 .5 .9 .6 0 .5 .4 .6-1.3 .5 .9 .6-1 .5 .1 .6-1.4 .5 .9 .6-.2 .5 .5 .6 0 .5-.1 .6 1 .5 .2 .6 .3 .5 .4 .6 .2 .6-.3 .5-.3 .6 0 .5 1 .6-.2 .5-.1 .6-.2 .5 .2 .6 0 .5-.1 .6-.1 .5 1 .6-.6 .5-.3 .6-.2 .5 .2 .6 .5 .5 .1 .6-.3 .5 .1 .6-.1 .5-.3 .6 .9 .5-.3 .6 .7 .5-1.1 .6 .2 .6 .4 .5-.4 .6-.3 .5 .1 .6 .4 .5 .1 .6-.1 .5 .4 .6 0 .5-.2 .6-.1 .5-.1 .6 .3 .5 .2 .6-.3 .5 .1 .6-.2 .5-.4 .6 .2 .5 .6 .6-.1 .5 .4 .6-.5 .5 .3 .6 .2 .5-.1 .6-.6 .5 .2 .6 .1 .6-.4 .5 .5 .6 .3 .5-.6 .6 .9 .5-.8 .6 .1 .5 0 .6-.2 .5 .4 .6-.1 .5 .5 .6-.3 .5-.1 .6-.3 .5-.4 .6 .4 .5-.4 .6 .6 .5-.5 .6 .4 .5-.5 .6-.1 .5-.5 .6-.3 .5-.1 .6-.2 .6-.9 .5 0 .6 .4 .5-1.2 .6-.4 .5-.4 .6-.5 .5 .7 .6-.5 .5 .1 .6 .6 .5 .3 .6-1 .5 .9 .6 .1 .5 .3 .6 .3 .5 .2 .6 .9 .5 0 .6 .2 .5 .6 .6 .2 .5 0 .6 .2 .5 .6 .6-.3 .6-.2 .5-.2 .6 .1 .5-.4 .6 .2 .5-.3 .6-1.6 .5-.5 .6-1.8 .5-2.5 .6-.7 .5 3.1 .6 1.4 .5 1.2 .6 .8 .5 .8 .6 .6 .5 .2 .6-.2 .5-.5 .6 .2 .5-.1 .6 .1 .5-.7 .6 .5 .5 0 .6-.7 .6-.3 .5-1.2 .6-1.1 .5-1.2 .6-1.3 .5-2.4 .6-2.2 .5 .6 .6 1.2 .5 3 .6 1.6 .5 1.1 .6 1.5 .5 .2 .6 .4 .5 .2 .6 .9 .5 .1 .6 .2 .5 0 .6 .8 .5-.6 .6 0 .5 .7 .6 .2 .5-.4 .6-.7 .6 .5 .5 .4 .6-.1 .5 .5 .6-1 .5 .8 .6-.5 .5 .7 .6-.5 .5 .4 .6-.5 .5-.3 .6 .1 .5 .2 .6-.1 .5 .8 .6 0 .5-.3 .6-.5 .5 .3 .6-.1 .5 .7 .6-.4 .5 .1 .6-.3 .5-.6 .6 .5" stroke="#f47e2a" stroke-width="1.3" fill="none"/>
<text x="424.7" y="66.2" font-size="8.0" stroke="#000" stroke-width="0.2" stroke-linejoin="round">1.4 V</text>
<path d="M254.4 65.4l.6 .7 .5 0 .6-.2 .5 .3 .6 .8 .5-.7 .6 .1 .5 .4 .6-.1 .5 .2 .6 .5 .5 .5 .6-1.1 .5 .8 .6 .1 .5 .1 .6 0 .5 .1 .6 .6 .5-.4 .6 .2 .5 .2 .6 .1 .5 0 .6 .5 .5-.3 .6 .2 .6 0 .5-.3 .6 .2 .5-.1 .6 .5 .5-.3 .6-.2 .5 .4 .6 0 .5-.9 .6 1 .5-.7 .6-.3 .5 .3 .6-.5 .5-.3 .6 1 .5-1.1 .6 .5 .5 .5 .6-.4 .5 .6 .6 .5 .5 1 .6-.8 .5 .6 .6 .5 .6 .1 .5-.2 .6 .7 .5 .1 .6 .2 .5 .4 .6 0 .5-.1 .6 0 .5-.4 .6 .4 .5 .2 .6-.1 .5 .2 .6-.3 .5 .9 .6 .3 .5-.8 .6 .3 .5-.2 .6 .6 .5-.2 .6-.1 .5 0 .6 .1 .5-.3 .6 .6 .6-.4 .5 .5 .6-.1 .5 .4 .6-.4 .5 .4 .6-.6 .5 .5 .6-.3 .5 0 .6-.1 .5 .1 .6-1.3 .5 .5 .6-.9 .5 .6 .6-1.3 .5 .2 .6-.2 .5 1.3 .6-.7 .5 .8 .6 .2 .5-.1 .6 .9 .5 .6 .6 0 .6 .5 .5-.3 .6 .2 .5 0 .6 .3 .5 .6 .6-.5 .5-.1 .6-.2 .5 0 .6 .8 .5-.9 .6 .1 .5 .3 .6 0 .5 .8 .6-1.5 .5 1 .6 .2 .5-.6 .6 .2 .5 .4 .6 .4 .5-.9 .6-.2 .5 1 .6 .2 .6-.6 .5-.7 .6 1.3 .5-.5 .6 .5 .5-.4 .6-.1 .5 0 .6 .7 .5 0 .6-1.2 .5 .4 .6 1 .5-.7 .6-.4 .5 .5 .6 0 .5 0 .6-.1 .5 .1 .6 0 .5 .3 .6-.4 .5 .2 .6 .1 .5 .5 .6-.3 .5-.2 .6 .3 .6 0 .5 .2 .6-.2 .5 .5 .6-.1 .5-.5 .6-.1 .5 .4 .6-.1 .5-.2 .6-.5 .5-.1 .6 .8 .5 .1 .6 0 .5-.8 .6 .7 .5-.6 .6 .2 .5-.1 .6-.6 .5-.1 .6-.8 .5 .1 .6-.6 .5 .4 .6-.5 .6-.1 .5-.6 .6-.7 .5 0 .6-.7 .5 .1 .6-.4 .5-.6 .6 .2 .5 0 .6-.1 .5 .6 .6 .4 .5-.4 .6 .3 .5-.3 .6 1.1 .5 .3 .6-.2 .5 1.3 .6 .5 .5-.1 .6 .4 .5 0 .6 .9 .5-.7 .6 .6 .6 .8 .5-.6 .6 0 .5-.3 .6-.7 .5-.1 .6-.7 .5-2 .6-2 .5-2.6 .6-.3 .5 1.8 .6 2.8 .5 1.4 .6 1.9 .5 .4 .6 .3 .5-.3 .6 0 .5 .5 .6 0 .5-.4 .6 .2 .5 0 .6-.3 .5-.8 .6-.8 .6 .1 .5-.7 .6-1.4 .5-1.8 .6-2.4 .5-2.3 .6-2.3 .5 .1 .6 1.7 .5 2.9 .6 2.7 .5 1.3 .6 1.2 .5 1.2 .6 1.1 .5 .1 .6 .8 .5-.3 .6 .2 .5-.2 .6 .4 .5 .8 .6-.3 .5 .2 .6 .1 .5-.2 .6 0 .6 .1 .5 .3 .6-.1 .5 .1 .6-.1 .5-.3 .6 .2 .5-.2 .6 .7 .5-1.1 .6 .7 .5 .9 .6-.9 .5-.3 .6 .4 .5 .5 .6-.5 .5 .3 .6-.2 .5-.2 .6 1.3 .5-1.1 .6-.2 .5 0 .6 .3 .5 .1 .6 .1" stroke="#f0a838" stroke-width="1.3" fill="none"/>
<text x="425.5" y="78.9" font-size="8.0" stroke="#000" stroke-width="0.2" stroke-linejoin="round">1.3 V</text>
<path d="M254.4 81l.6-.4 .5 .8 .6-.2 .5 .2 .6-.3 .5 .4 .6 .1 .5 .3 .6-.4 .5 .7 .6 .1 .5-.3 .6 .2 .5 .1 .6 .7 .5-1.1 .6 .8 .5-.3 .6 .5 .5 .5 .6-.4 .5 .4 .6-.3 .5 1.1 .6-.3 .5 .2 .6-.8 .6 .2 .5 .8 .6-.4 .5 0 .6 .2 .5-.6 .6 .7 .5-.3 .6 0 .5-.5 .6 .2 .5-.6 .6 .4 .5-.1 .6-.2 .5-.2 .6 0 .5-1.1 .6 1.3 .5-.2 .6 .4 .5 .1 .6 0 .5 .6 .6 .7 .5 .6 .6-.4 .6 .1 .5 1 .6-.6 .5 1.2 .6-.6 .5-.2 .6 .7 .5 .4 .6-1.1 .5 1.1 .6-.5 .5 .6 .6-.6 .5-.3 .6 .8 .5 .2 .6 .4 .5-.1 .6-.3 .5-.2 .6-.1 .5 .1 .6-.1 .5 .2 .6-.7 .5 1 .6 0 .6 .9 .5-.6 .6-.4 .5 .4 .6-.6 .5 .3 .6-.4 .5 1.1 .6-.3 .5-.7 .6 .2 .5 .2 .6-.4 .5-.4 .6-.7 .5-.2 .6 0 .5 .2 .6-.6 .5 0 .6 1.1 .5-.4 .6 1.1 .5 .1 .6 .5 .5 .6 .6-.1 .6 .2 .5-.5 .6 .2 .5 .5 .6 .4 .5 0 .6 .3 .5-.6 .6 0 .5 .3 .6-.3 .5 0 .6-.4 .5 .8 .6-.7 .5 .6 .6-.7 .5 .9 .6-.7 .5 .7 .6-.8 .5 .4 .6 .6 .5-.7 .6 .4 .5-.2 .6-.6 .6 .9 .5 .1 .6-.5 .5 .6 .6-.5 .5 0 .6 .3 .5-.2 .6 1.1 .5-1.3 .6 .8 .5 .1 .6-1 .5 .1 .6 .8 .5-.4 .6 .4 .5 .3 .6-.6 .5-.2 .6-.5 .5 1 .6-.4 .5 .5 .6 0 .5-.6 .6 1.1 .5-.2 .6-.1 .6-.7 .5 .3 .6 0 .5 .1 .6-.3 .5 .6 .6-.1 .5 .1 .6-.3 .5 .6 .6-.4 .5-1 .6 .7 .5 .2 .6 .4 .5-.5 .6-.1 .5-.2 .6 .4 .5-.5 .6-.2 .5-.2 .6 .2 .5-.6 .6-.7 .5 .5 .6-.7 .6 0 .5-.4 .6 0 .5-.4 .6-.9 .5-.1 .6-.6 .5 .9 .6-.6 .5 .3 .6-.5 .5-.5 .6 1.4 .5-.3 .6 .3 .5 .3 .6 .5 .5 .4 .6-.4 .5 1.2 .6-.2 .5 .3 .6 1 .5 0 .6-.3 .5-.4 .6 .8 .6 .2 .5-.3 .6-.4 .5-.1 .6-.4 .5 0 .6-.7 .5-1.4 .6-3.1 .5-2.6 .6-.2 .5 2.4 .6 2.8 .5 2.4 .6 .3 .5 .7 .6-.1 .5 .4 .6-.5 .5 .6 .6 .4 .5 .3 .6-.4 .5-.3 .6-.5 .5-.5 .6-.2 .6-.3 .5-1.3 .6-.5 .5-2.4 .6-2.5 .5-2.3 .6-2.2 .5 .1 .6 3 .5 2.1 .6 2.4 .5 2 .6 1.2 .5 .2 .6 1.2 .5 .1 .6 .2 .5 .4 .6-.4 .5 .4 .6 .3 .5 .4 .6-.3 .5 .2 .6 .4 .5 .2 .6-.1 .6 .2 .5-.6 .6 .1 .5 .2 .6-.2 .5 0 .6 .8 .5-.7 .6-.2 .5 .5 .6 .5 .5-.6 .6 .4 .5-.5 .6-.1 .5 0 .6 .2 .5 .7 .6-1 .5 .9 .6-.9 .5 .3 .6 .4 .5-.1 .6-.1 .5-.7 .6 .7" stroke="#e8c030" stroke-width="1.3" fill="none"/>
<text x="426.0" y="93.8" font-size="8.0" stroke="#000" stroke-width="0.2" stroke-linejoin="round">1.2 V</text>
<path d="M254.4 95.4l.6 1.4 .5-.8 .6 .2 .5-.3 .6 .3 .5-.2 .6 .9 .5-.3 .6 .4 .5-.3 .6 .1 .5 .8 .6-.7 .5-.2 .6 .9 .5-.5 .6 .4 .5 .5 .6-.5 .5 .7 .6-.4 .5 .8 .6 0 .5-.5 .6 .2 .5-.2 .6 .5 .6 .4 .5-.9 .6 .9 .5-.7 .6 .2 .5-.4 .6 1.4 .5-.8 .6 0 .5-.4 .6 .5 .5-1.3 .6 .7 .5 .6 .6-1 .5 .1 .6 .2 .5-.5 .6 .4 .5 .5 .6 0 .5 .3 .6 0 .5 .5 .6 .2 .5 .7 .6 0 .6-.2 .5-.6 .6 1.3 .5 .2 .6-.5 .5-.3 .6 .4 .5 .8 .6-.6 .5 .2 .6 .3 .5 .4 .6-.4 .5 .1 .6-.1 .5 .8 .6-.2 .5-.3 .6-.4 .5 .2 .6 .6 .5-.4 .6 .6 .5-.2 .6 .1 .5 .1 .6 0 .6-.4 .5 .2 .6 1 .5-1.2 .6 .3 .5 .5 .6-.4 .5-.2 .6-.2 .5 .5 .6 .1 .5-.1 .6-.7 .5 0 .6-1 .5 .1 .6-.5 .5 .2 .6 .2 .5 .2 .6-.4 .5 1.1 .6-.2 .5 .2 .6 .6 .5-.1 .6 .7 .6 .3 .5-.1 .6 .4 .5-.3 .6 .2 .5-.5 .6 .6 .5-.3 .6 .2 .5 .1 .6 .2 .5-.6 .6 0 .5 .5 .6 .3 .5 0 .6 .2 .5 .1 .6-.2 .5-.2 .6-.3 .5 .1 .6 .2 .5 .2 .6 0 .5 0 .6 0 .6 .3 .5-.2 .6 .1 .5 0 .6-.3 .5-.1 .6 .5 .5 0 .6-.2 .5 0 .6 .9 .5-1 .6 .2 .5 .2 .6-.5 .5 .5 .6 .6 .5-.3 .6-.1 .5 0 .6-.1 .5 .3 .6-.4 .5-.1 .6 .2 .5 .3 .6-.2 .5 .2 .6-.9 .6 1.1 .5 .4 .6-.3 .5-.6 .6-.2 .5 .4 .6-.4 .5 .6 .6-.4 .5 .5 .6 .2 .5-1.2 .6 .8 .5-.4 .6-.3 .5 .3 .6 .1 .5 .3 .6-1 .5 .8 .6 .2 .5-.6 .6-.3 .5-.4 .6-.7 .5 .3 .6-.4 .6-.2 .5 .3 .6-1 .5-.4 .6 .1 .5-1.3 .6-.1 .5 .1 .6-.2 .5 .4 .6-.3 .5 .8 .6 .1 .5 0 .6-.2 .5 .7 .6 .4 .5-.3 .6 .8 .5 .5 .6 .1 .5 .8 .6 .1 .5-.5 .6 .5 .5-.2 .6 .6 .6-.5 .5 .6 .6-.2 .5 0 .6-.7 .5-1.1 .6 .2 .5-2.3 .6-2.1 .5-3.5 .6-.2 .5 3.4 .6 2.3 .5 2.1 .6 0 .5 1.4 .6-.1 .5 .3 .6 .1 .5 .2 .6 .5 .5-1.3 .6 .5 .5-.4 .6 .4 .5-.8 .6-.2 .6-.9 .5-.5 .6-1.2 .5-2.3 .6-2.3 .5-3.5 .6-1.6 .5 .3 .6 1.7 .5 3.6 .6 1.3 .5 2 .6 1.4 .5 1.3 .6 .8 .5 .5 .6 .3 .5 .6 .6-.2 .5-.1 .6 .1 .5 1.3 .6-1.4 .5 .8 .6 .6 .5-.2 .6-.4 .6 .3 .5 .3 .6 .2 .5-.7 .6 .6 .5-.2 .6 .4 .5 .1 .6-.6 .5-.4 .6 .7 .5 .5 .6-.4 .5-.1 .6 .7 .5-1.1 .6 .6 .5-.5 .6 .3 .5 0 .6 .5 .5-.9 .6 .2 .5-.4 .6 .8 .5-.4 .6 .4" stroke="#b8b838" stroke-width="1.3" fill="none"/>
<text x="426.7" y="108.9" font-size="8.0" stroke="#000" stroke-width="0.2" stroke-linejoin="round">1.1 V</text>
<path d="M254.4 112.4l.6 .3 .5 .6 .6-.4 .5 .3 .6 0 .5-.2 .6-.4 .5 .9 .6-.2 .5 .3 .6-1 .5 .2 .6-.1 .5 .4 .6 .8 .5-.2 .6-.1 .5 .1 .6 .2 .5-.3 .6 .3 .5-.1 .6-.8 .5 .7 .6 .7 .5-.6 .6 .1 .6-.1 .5 0 .6 .6 .5-.5 .6-.3 .5-.8 .6 .8 .5-.5 .6-.1 .5 .8 .6-.2 .5-1.1 .6 .8 .5-.3 .6-.6 .5 .5 .6-.9 .5 .1 .6 0 .5 .3 .6 .8 .5-.6 .6 .3 .5 .3 .6 .7 .5 0 .6 .6 .6-.4 .5 0 .6 .4 .5 .3 .6-.3 .5 .5 .6 .6 .5-.8 .6 .2 .5 .5 .6-.7 .5 0 .6-.1 .5 .6 .6 0 .5-.2 .6 .1 .5 .5 .6-.1 .5-.8 .6 .5 .5 0 .6 .3 .5-.3 .6-.2 .5 .1 .6-.4 .6 .6 .5-.2 .6 .4 .5-.5 .6 .2 .5-.1 .6-.1 .5 .6 .6-.4 .5 .2 .6-.7 .5 .3 .6-.9 .5 .2 .6-.3 .5 .1 .6-.3 .5-.2 .6 .3 .5-.1 .6 .3 .5 .4 .6 0 .5 .2 .6 .5 .5-.1 .6 .5 .6 .4 .5 0 .6-.4 .5-.3 .6 .5 .5 0 .6 .4 .5-.5 .6 .1 .5 .3 .6-.4 .5 .1 .6 .7 .5-.1 .6-.3 .5-.1 .6-.4 .5 .6 .6-.2 .5 .1 .6-.3 .5 .2 .6-.1 .5 .2 .6 .4 .5-.3 .6-.7 .6 .2 .5-.2 .6 .3 .5 .5 .6-.1 .5-.3 .6 .3 .5-.3 .6-.3 .5 .1 .6 .2 .5 .8 .6-1 .5 .9 .6 0 .5-.5 .6 .1 .5-.2 .6 .2 .5 .3 .6-.3 .5 .4 .6 .1 .5-.3 .6 0 .5-.2 .6 .2 .5-.5 .6 .5 .6 0 .5-.4 .6 1.1 .5-1.1 .6 0 .5 .4 .6-.8 .5 .4 .6-.2 .5 .2 .6 .3 .5 .1 .6 .3 .5-.1 .6 .1 .5-.3 .6-.4 .5 .5 .6-.7 .5-.1 .6 .6 .5-.4 .6-.4 .5 0 .6-.2 .5-1 .6 .2 .6-.7 .5 .2 .6-.6 .5 .4 .6-.5 .5-.7 .6 .1 .5-.6 .6 .3 .5 .2 .6-.1 .5-.7 .6 .7 .5 .5 .6 .2 .5 .5 .6-.6 .5 .9 .6-.1 .5 .6 .6 .3 .5 .3 .6-.2 .5 .4 .6-.3 .5 0 .6 .8 .6-.2 .5-.6 .6 .2 .5 .1 .6 .2 .5-.7 .6-1 .5-2.4 .6-1.9 .5-2.8 .6-.3 .5 2.8 .6 2.4 .5 2.3 .6 .9 .5 0 .6 0 .5 1.2 .6-.8 .5 .7 .6 .3 .5-1.1 .6 .4 .5-.4 .6 .1 .5-.3 .6 .1 .6-1 .5-1 .6-.7 .5-2 .6-2.2 .5-1.5 .6-3 .5 .1 .6 2.2 .5 2.1 .6 1.8 .5 2.6 .6 .5 .5 .9 .6 .6 .5 .2 .6 .3 .5 .7 .6 .9 .5-.4 .6 .1 .5-.7 .6 .6 .5-.3 .6 .7 .5-.3 .6 .2 .6-.1 .5-.1 .6-.3 .5 .8 .6-.7 .5 .1 .6 .3 .5-.1 .6 .4 .5 .2 .6-.2 .5 0 .6-.1 .5 .3 .6-.9 .5 .8 .6-.5 .5-.1 .6 .5 .5-.2 .6 .4 .5 .2 .6-1.2 .5 .8 .6 .7 .5-.4 .6 .2" stroke="#6e9a36" stroke-width="1.3" fill="none"/>
<text x="427.6" y="122.5" font-size="8.0" stroke="#000" stroke-width="0.2" stroke-linejoin="round">1 V</text>
<path d="M254.4 128.5l.6-.5 .5 .1 .6 .7 .5 .1 .6-.5 .5 .2 .6 .2 .5-.7 .6 .5 .5 .7 .6 .3 .5-.8 .6 .7 .5-.8 .6-.1 .5-.4 .6 1.1 .5-.4 .6 .9 .5-.6 .6-.1 .5-.6 .6 1.1 .5-.6 .6 .1 .5-.7 .6 1.1 .6 .1 .5-.6 .6 .3 .5 .1 .6 .1 .5-.3 .6 .5 .5-.8 .6-.2 .5 0 .6-.9 .5 .5 .6 .5 .5-.4 .6-.5 .5 .4 .6-.9 .5 .6 .6 .3 .5 .2 .6-.4 .5 .7 .6 .5 .5-.6 .6 .6 .5-.7 .6 0 .6 1 .5 0 .6 .1 .5-.2 .6 .2 .5 .4 .6 .3 .5-.6 .6-.5 .5 1.1 .6-.3 .5 .1 .6-.2 .5 .8 .6-.8 .5 .2 .6-.8 .5 .4 .6 0 .5 .2 .6 .2 .5-.4 .6 .9 .5-1 .6 .3 .5 .2 .6-.5 .6 .7 .5 0 .6-.3 .5 .8 .6-.7 .5 .1 .6-.4 .5-.3 .6 .3 .5 .1 .6-.2 .5 .3 .6-1.3 .5 .3 .6-.5 .5 1 .6-.9 .5 0 .6-.2 .5 .7 .6-.3 .5 .5 .6-.6 .5 1.3 .6 0 .5 .2 .6 .3 .6-.4 .5 .1 .6 .4 .5-.1 .6-.2 .5 .1 .6-.2 .5 .4 .6 .1 .5-.3 .6 .7 .5-1.2 .6 .4 .5 .7 .6-.7 .5-.4 .6 1 .5-.3 .6-.6 .5 .7 .6-.6 .5-.1 .6 .4 .5-.1 .6-.2 .5 .3 .6-.2 .6 .3 .5 0 .6 .3 .5-.4 .6-.3 .5 0 .6 .4 .5 .6 .6-.2 .5-.6 .6 .6 .5-.7 .6 .7 .5-.4 .6 .4 .5-.1 .6-.3 .5 .2 .6-.5 .5 .4 .6 .4 .5 1.1 .6-1.2 .5-.2 .6-.4 .5 .7 .6-.9 .5 .3 .6 .4 .6-.6 .5 1 .6-.1 .5-.6 .6 0 .5-.3 .6 0 .5 .6 .6 .1 .5-.1 .6 0 .5-.3 .6 .3 .5-.7 .6 .5 .5 .5 .6-.1 .5-.7 .6 0 .5 .5 .6 .1 .5-1.3 .6 .2 .5 .1 .6 .1 .5-.9 .6 .3 .6-.5 .5 .7 .6-.9 .5-.5 .6-.3 .5 .4 .6-.3 .5-.8 .6 .4 .5-.5 .6 .2 .5-.1 .6 .1 .5 .3 .6 .1 .5 .7 .6 .3 .5-.1 .6-.1 .5 .9 .6-.8 .5 .2 .6 1.1 .5 .1 .6 .3 .5-.4 .6-.3 .6 .3 .5 .3 .6-.5 .5-.1 .6-.5 .5-.4 .6 0 .5-1.3 .6-2.6 .5-2.3 .6 0 .5 2.6 .6 1.4 .5 1.7 .6 0 .5 .8 .6 .8 .5 .3 .6-.6 .5 .1 .6 .6 .5-.5 .6-.1 .5 .2 .6-.3 .5 .1 .6-.5 .6-.9 .5-.5 .6-1 .5-1.9 .6-1.7 .5-1.6 .6-2.6 .5 1 .6 1.5 .5 2 .6 2.2 .5 1.4 .6 1.2 .5 .2 .6 .5 .5 .4 .6 1 .5-.1 .6-.5 .5 .3 .6 0 .5 .4 .6 .1 .5 .8 .6-1.4 .5 1 .6-.1 .6-.4 .5 .2 .6-.1 .5 .2 .6 .4 .5-.9 .6 1 .5-.5 .6 .6 .5-.3 .6 .3 .5-.3 .6 .2 .5-.3 .6-.3 .5 .5 .6 0 .5 .5 .6-1.4 .5 .6 .6 .5 .5-.8 .6 .3 .5 .9 .6-.3 .5-.8 .6 .8" stroke="#2a6a32" stroke-width="1.3" fill="none"/>
<text x="427.9" y="135.4" font-size="8.0" stroke="#000" stroke-width="0.2" stroke-linejoin="round">OCP</text>
<line x1="279.40" y1="27.00" x2="279.40" y2="131.80" stroke="#111" stroke-width="1.2" stroke-dasharray="4 3"/>
<line x1="309.30" y1="27.00" x2="309.30" y2="131.80" stroke="#111" stroke-width="1.2" stroke-dasharray="4 3"/>
<rect x="254.40" y="4.40" width="165.00" height="132.80" fill="none" stroke="#000" stroke-width="0.9"/>
<line x1="254.40" y1="137.20" x2="254.40" y2="139.40" stroke="#000" stroke-width="0.8"/>
<text x="254.4" y="150.2" font-size="8.2" text-anchor="middle" stroke="#000" stroke-width="0.2" stroke-linejoin="round">300</text>
<line x1="309.40" y1="137.20" x2="309.40" y2="139.40" stroke="#000" stroke-width="0.8"/>
<text x="309.4" y="150.2" font-size="8.2" text-anchor="middle" stroke="#000" stroke-width="0.2" stroke-linejoin="round">600</text>
<line x1="364.40" y1="137.20" x2="364.40" y2="139.40" stroke="#000" stroke-width="0.8"/>
<text x="364.4" y="150.2" font-size="8.2" text-anchor="middle" stroke="#000" stroke-width="0.2" stroke-linejoin="round">900</text>
<line x1="419.40" y1="137.20" x2="419.40" y2="139.40" stroke="#000" stroke-width="0.8"/>
<text x="419.4" y="150.2" font-size="8.2" text-anchor="middle" stroke="#000" stroke-width="0.2" stroke-linejoin="round">1200</text>
<line x1="281.90" y1="137.20" x2="281.90" y2="138.50" stroke="#000" stroke-width="0.7"/>
<line x1="336.90" y1="137.20" x2="336.90" y2="138.50" stroke="#000" stroke-width="0.7"/>
<line x1="391.90" y1="137.20" x2="391.90" y2="138.50" stroke="#000" stroke-width="0.7"/>
<text x="336.9" y="165.7" font-size="10.5" text-anchor="middle" stroke="#000" stroke-width="0.2" stroke-linejoin="round">Raman shift (cm<tspan font-size="6.30" baseline-shift="3.78" stroke-width="0.13">-1</tspan>)</text>
<text x="246.5" y="70.8" font-size="10.5" text-anchor="middle" stroke="#000" stroke-width="0.2" stroke-linejoin="round" transform="rotate(-90 246.5 70.8)">Intensity (a.u.)</text>
<text x="224.2" y="10.3" font-size="12.8" font-weight="bold">b</text>
<text x="277.5" y="24.1" font-size="8" text-anchor="middle" stroke="#000" stroke-width="0.2" stroke-linejoin="round">Ru<tspan font-size="4.80" baseline-shift="2.88" stroke-width="0.13">4+</tspan>-O</text>
<text x="309.1" y="26.8" font-size="8" text-anchor="middle" stroke="#000" stroke-width="0.2" stroke-linejoin="round">Ru<tspan font-size="4.80" baseline-shift="2.88" stroke-width="0.13">3+</tspan>-O</text>
<text x="377.8" y="28.6" font-size="8" text-anchor="middle" stroke="#000" stroke-width="0.2" stroke-linejoin="round">H<tspan font-size="5.44" baseline-shift="-1.60" stroke-width="0.13">2</tspan>SO<tspan font-size="5.44" baseline-shift="-1.60" stroke-width="0.13">4</tspan></text>
<text x="389.2" y="16.9" font-size="8" text-anchor="middle" stroke="#000" stroke-width="0.2" stroke-linejoin="round">RuIrFeCoCrO<tspan font-size="5.44" baseline-shift="-1.60" stroke-width="0.13">2</tspan></text>
<path d="M514.4 29.8l23.8 31.6 23.8-17.5 23.8 12.1 23.8-8.7 23.8-12.5 23.8 27.3" stroke="#e8413f" stroke-width="0.9" fill="none"/>
<circle cx="514.40" cy="29.76" r="2.3" fill="#e8413f"/>
<circle cx="538.20" cy="61.38" r="2.3" fill="#e8413f"/>
<circle cx="562.00" cy="43.87" r="2.3" fill="#e8413f"/>
<circle cx="585.80" cy="56.02" r="2.3" fill="#e8413f"/>
<circle cx="609.60" cy="47.27" r="2.3" fill="#e8413f"/>
<circle cx="633.40" cy="34.81" r="2.3" fill="#e8413f"/>
<circle cx="657.20" cy="62.10" r="2.3" fill="#e8413f"/>
<path d="M514.4 103.6l23.8 17.5 23.8-29.8 23.8 7.2 23.8 11 23.8 2.2 23.8-16.5" stroke="#2a74dc" stroke-width="0.9" fill="none"/>
<circle cx="514.40" cy="103.61" r="2.3" fill="#2a74dc"/>
<circle cx="538.20" cy="121.12" r="2.3" fill="#2a74dc"/>
<circle cx="562.00" cy="91.25" r="2.3" fill="#2a74dc"/>
<circle cx="585.80" cy="98.46" r="2.3" fill="#2a74dc"/>
<circle cx="609.60" cy="109.48" r="2.3" fill="#2a74dc"/>
<circle cx="633.40" cy="111.75" r="2.3" fill="#2a74dc"/>
<circle cx="657.20" cy="95.16" r="2.3" fill="#2a74dc"/>
<rect x="502.50" y="3.60" width="167.70" height="134.00" fill="none" stroke="#000" stroke-width="1.0"/>
<line x1="500.30" y1="127.30" x2="502.50" y2="127.30" stroke="#000" stroke-width="0.8"/>
<text x="497.2" y="131.3" font-size="8.2" text-anchor="end" stroke="#000" stroke-width="0.2" stroke-linejoin="round">0.6</text>
<line x1="500.30" y1="106.70" x2="502.50" y2="106.70" stroke="#000" stroke-width="0.8"/>
<text x="497.2" y="110.7" font-size="8.2" text-anchor="end" stroke="#000" stroke-width="0.2" stroke-linejoin="round">0.8</text>
<line x1="500.30" y1="86.10" x2="502.50" y2="86.10" stroke="#000" stroke-width="0.8"/>
<text x="497.2" y="90.1" font-size="8.2" text-anchor="end" stroke="#000" stroke-width="0.2" stroke-linejoin="round">1.0</text>
<line x1="500.30" y1="65.50" x2="502.50" y2="65.50" stroke="#000" stroke-width="0.8"/>
<text x="497.2" y="69.5" font-size="8.2" text-anchor="end" stroke="#000" stroke-width="0.2" stroke-linejoin="round">1.2</text>
<line x1="500.30" y1="44.90" x2="502.50" y2="44.90" stroke="#000" stroke-width="0.8"/>
<text x="497.2" y="48.9" font-size="8.2" text-anchor="end" stroke="#000" stroke-width="0.2" stroke-linejoin="round">1.4</text>
<line x1="500.30" y1="24.30" x2="502.50" y2="24.30" stroke="#000" stroke-width="0.8"/>
<text x="497.2" y="28.3" font-size="8.2" text-anchor="end" stroke="#000" stroke-width="0.2" stroke-linejoin="round">1.6</text>
<line x1="500.30" y1="3.70" x2="502.50" y2="3.70" stroke="#000" stroke-width="0.8"/>
<text x="497.2" y="7.7" font-size="8.2" text-anchor="end" stroke="#000" stroke-width="0.2" stroke-linejoin="round">1.8</text>
<line x1="501.20" y1="137.60" x2="502.50" y2="137.60" stroke="#000" stroke-width="0.7"/>
<line x1="501.20" y1="117.00" x2="502.50" y2="117.00" stroke="#000" stroke-width="0.7"/>
<line x1="501.20" y1="96.40" x2="502.50" y2="96.40" stroke="#000" stroke-width="0.7"/>
<line x1="501.20" y1="75.80" x2="502.50" y2="75.80" stroke="#000" stroke-width="0.7"/>
<line x1="501.20" y1="55.20" x2="502.50" y2="55.20" stroke="#000" stroke-width="0.7"/>
<line x1="501.20" y1="34.60" x2="502.50" y2="34.60" stroke="#000" stroke-width="0.7"/>
<line x1="501.20" y1="14.00" x2="502.50" y2="14.00" stroke="#000" stroke-width="0.7"/>
<line x1="514.40" y1="137.60" x2="514.40" y2="139.80" stroke="#000" stroke-width="0.8"/>
<text x="514.4" y="150.8" font-size="8.2" text-anchor="middle" stroke="#000" stroke-width="0.2" stroke-linejoin="round">1.0</text>
<line x1="538.20" y1="137.60" x2="538.20" y2="139.80" stroke="#000" stroke-width="0.8"/>
<text x="538.2" y="150.8" font-size="8.2" text-anchor="middle" stroke="#000" stroke-width="0.2" stroke-linejoin="round">1.1</text>
<line x1="562.00" y1="137.60" x2="562.00" y2="139.80" stroke="#000" stroke-width="0.8"/>
<text x="562.0" y="150.8" font-size="8.2" text-anchor="middle" stroke="#000" stroke-width="0.2" stroke-linejoin="round">1.2</text>
<line x1="585.80" y1="137.60" x2="585.80" y2="139.80" stroke="#000" stroke-width="0.8"/>
<text x="585.8" y="150.8" font-size="8.2" text-anchor="middle" stroke="#000" stroke-width="0.2" stroke-linejoin="round">1.3</text>
<line x1="609.60" y1="137.60" x2="609.60" y2="139.80" stroke="#000" stroke-width="0.8"/>
<text x="609.6" y="150.8" font-size="8.2" text-anchor="middle" stroke="#000" stroke-width="0.2" stroke-linejoin="round">1.4</text>
<line x1="633.40" y1="137.60" x2="633.40" y2="139.80" stroke="#000" stroke-width="0.8"/>
<text x="633.4" y="150.8" font-size="8.2" text-anchor="middle" stroke="#000" stroke-width="0.2" stroke-linejoin="round">1.5</text>
<line x1="657.20" y1="137.60" x2="657.20" y2="139.80" stroke="#000" stroke-width="0.8"/>
<text x="657.2" y="150.8" font-size="8.2" text-anchor="middle" stroke="#000" stroke-width="0.2" stroke-linejoin="round">1.6</text>
<line x1="526.30" y1="137.60" x2="526.30" y2="138.90" stroke="#000" stroke-width="0.7"/>
<line x1="550.10" y1="137.60" x2="550.10" y2="138.90" stroke="#000" stroke-width="0.7"/>
<line x1="573.90" y1="137.60" x2="573.90" y2="138.90" stroke="#000" stroke-width="0.7"/>
<line x1="597.70" y1="137.60" x2="597.70" y2="138.90" stroke="#000" stroke-width="0.7"/>
<line x1="621.50" y1="137.60" x2="621.50" y2="138.90" stroke="#000" stroke-width="0.7"/>
<line x1="645.30" y1="137.60" x2="645.30" y2="138.90" stroke="#000" stroke-width="0.7"/>
<line x1="669.10" y1="137.60" x2="669.10" y2="138.90" stroke="#000" stroke-width="0.7"/>
<text x="590.9" y="166.1" font-size="10.7" text-anchor="middle" stroke="#000" stroke-width="0.2" stroke-linejoin="round">Potential (V vs. RHE)</text>
<text x="481.5" y="70.7" font-size="10.5" text-anchor="middle" stroke="#000" stroke-width="0.2" stroke-linejoin="round" transform="rotate(-90 481.5 70.7)">I<tspan font-size="6.8" baseline-shift="-2.2" stroke-width="0.13">Ru<tspan font-size="4.6" baseline-shift="3.4">3+</tspan></tspan>/I<tspan font-size="6.8" baseline-shift="-2.2" stroke-width="0.13">Ru<tspan font-size="4.6" baseline-shift="3.4">4+</tspan></tspan> ratio</text>
<text x="603.0" y="31.6" font-size="8.1" text-anchor="middle" fill="#e8413f" stroke="#e8413f" stroke-width="0.2" stroke-linejoin="round">RuIrFeCoCrO<tspan font-size="5.51" baseline-shift="-1.62" stroke-width="0.13">2</tspan></text>
<text x="617.3" y="96.9" font-size="8.1" text-anchor="middle" fill="#2a74dc" stroke="#2a74dc" stroke-width="0.2" stroke-linejoin="round">RuO<tspan font-size="5.51" baseline-shift="-1.62" stroke-width="0.13">2</tspan></text>
<text x="465.5" y="7.0" font-size="12.8" font-weight="bold">c</text>
<text x="0.3" y="192.3" font-size="12.8" font-weight="bold">d</text>
<defs>
<radialGradient id="yel" gradientUnits="userSpaceOnUse" cx="102.5" cy="271.8" r="15"><stop offset="0" stop-color="#e8ae12"/><stop offset="0.3" stop-color="#eccb58"/><stop offset="0.65" stop-color="#ece2ae"/><stop offset="1" stop-color="#eeeacb"/></radialGradient>
<linearGradient id="dstripe" x1="0" x2="1"><stop offset="0" stop-color="#a9b6cc"/><stop offset="0.5" stop-color="#6f7c94"/><stop offset="1" stop-color="#a9b6cc"/></linearGradient>
<linearGradient id="col" x1="0" x2="0" y1="0" y2="1"><stop offset="0" stop-color="#e4e4e4"/><stop offset="1" stop-color="#ffffff"/></linearGradient>
<linearGradient id="colh" x1="0" x2="1"><stop offset="0" stop-color="#e6e6e6"/><stop offset="0.5" stop-color="#f6f6f6"/><stop offset="1" stop-color="#e6e6e6"/></linearGradient>
<pattern id="speck" width="7" height="5" patternUnits="userSpaceOnUse"><rect width="7" height="5" fill="#dccfbb"/><rect x="0" y="0" width="1" height="1" fill="#d0c1a9"/><rect x="4" y="1" width="1" height="1" fill="#e4d9c8"/><rect x="2" y="2" width="1" height="1" fill="#d1c2aa"/><rect x="6" y="3" width="1" height="1" fill="#d5c7b0"/><rect x="3" y="4" width="1" height="1" fill="#e2d7c4"/><rect x="5" y="0" width="1" height="1" fill="#d6c8b2"/></pattern>
<marker id="ah" markerWidth="6" markerHeight="6" refX="5" refY="3" orient="auto" markerUnits="userSpaceOnUse"><path d="M0 0.6 L5.5 3 L0 5.4 Z" fill="#000"/></marker>
</defs>
<path d="M85.8 221.1l34.7 0 22.7 20.7 0 11.7-24.7 22.5-32.2 0-23.5-21.5 0-12.7Z" stroke="none" stroke-width="0.8" fill="#dce7fb"/>
<line x1="62.40" y1="209.70" x2="84.30" y2="246.20" stroke="#a3a3a3" stroke-width="1.0"/>
<line x1="56.20" y1="199.70" x2="60.40" y2="205.60" stroke="#f2b21e" stroke-width="2.2"/>
<rect x="58.9" y="205.4" width="5.6" height="4.6" fill="#cdcdcd" transform="rotate(-32 61.7 207.7)"/>
<rect x="99.6" y="205.4" width="4.2" height="37" rx="2" fill="#eef0f4" fill-opacity="0.6" stroke="#8c8c8c" stroke-width="0.8"/>
<line x1="140.20" y1="202.60" x2="137.40" y2="209.00" stroke="#f2b21e" stroke-width="2.2"/>
<line x1="136.30" y1="212.60" x2="121.60" y2="246.40" stroke="#8c8c8c" stroke-width="4.4" stroke-linecap="round"/>
<line x1="136.30" y1="212.60" x2="121.60" y2="246.40" stroke="#f2f4f8" stroke-width="2.8" stroke-linecap="round"/>
<rect x="133.4" y="208.9" width="5.6" height="4.6" fill="#cdcdcd" transform="rotate(24 136.2 211.2)"/>
<rect x="86.30" y="263.40" width="32.20" height="3.00" fill="url(#dstripe)" stroke="none" stroke-width="0.8"/>
<rect x="86.30" y="266.30" width="32.20" height="11.20" fill="url(#yel)" stroke="none" stroke-width="0.8"/>
<rect x="86.30" y="277.20" width="32.20" height="0.90" fill="#b9c7df" stroke="none" stroke-width="0.8"/>
<rect x="86.30" y="278.00" width="32.20" height="7.40" fill="url(#speck)" stroke="none" stroke-width="0.8"/>
<rect x="93.50" y="285.40" width="19.10" height="40.60" fill="url(#colh)" stroke="none" stroke-width="0.8"/>
<rect x="93.5" y="285.4" width="19.1" height="40.6" fill="url(#col)" fill-opacity="0.5"/>
<circle cx="102.7" cy="289.7" r="1.6" fill="#fbfbfb" stroke="#a6a6a6" stroke-width="0.7"/>
<circle cx="98.8" cy="302.4" r="2.1" fill="#fbfbfb" stroke="#a6a6a6" stroke-width="0.7"/>
<circle cx="107" cy="307.7" r="1.9" fill="#fbfbfb" stroke="#a6a6a6" stroke-width="0.7"/>
<circle cx="101" cy="318.6" r="2.1" fill="#fbfbfb" stroke="#a6a6a6" stroke-width="0.7"/>
<line x1="120.70" y1="296.00" x2="120.70" y2="317.50" stroke="#a9b4c6" stroke-width="0.9"/>
<path d="M118.6 313.8l2.1 4 2.1-4" stroke="#a9b4c6" stroke-width="0.9" fill="none"/>
<line x1="86.3" y1="274.4" x2="71.5" y2="274.4" stroke="#000" stroke-width="0.8" marker-end="url(#ah)"/>
<line x1="117.8" y1="264.3" x2="150.5" y2="268.2" stroke="#000" stroke-width="0.8" marker-end="url(#ah)"/>
<line x1="85.6" y1="285" x2="70.8" y2="295.2" stroke="#000" stroke-width="0.8" marker-end="url(#ah)"/>
<text x="45.5" y="197.0" font-size="9.3" text-anchor="middle" stroke="#000" stroke-width="0.2" stroke-linejoin="round">Carbon rod</text>
<text x="103.3" y="202.7" font-size="9.3" text-anchor="middle" stroke="#000" stroke-width="0.2" stroke-linejoin="round">Air inlet</text>
<text x="155.0" y="198.0" font-size="9.3" text-anchor="middle" stroke="#000" stroke-width="0.2" stroke-linejoin="round">Ag/AgCl</text>
<text x="103.6" y="259.8" font-size="9.3" text-anchor="middle" stroke="#000" stroke-width="0.2" stroke-linejoin="round">Electrolyte</text>
<text x="40.0" y="279.6" font-size="9.3" text-anchor="middle" stroke="#000" stroke-width="0.2" stroke-linejoin="round">Au electrode</text>
<text x="168.8" y="279.6" font-size="9.3" text-anchor="middle" stroke="#000" stroke-width="0.2" stroke-linejoin="round">Catalyst</text>
<text x="40.0" y="303.8" font-size="9.3" text-anchor="middle" stroke="#000" stroke-width="0.2" stroke-linejoin="round">Porous PTFE</text>
<text x="110.0" y="327.4" font-size="9.3" stroke="#000" stroke-width="0.2" stroke-linejoin="round">O<tspan font-size="6.32" baseline-shift="-1.86" stroke-width="0.13">2</tspan></text>
<text x="103.6" y="340.9" font-size="9.3" text-anchor="middle" stroke="#000" stroke-width="0.2" stroke-linejoin="round">Differential electrochemical</text>
<text x="104.6" y="352.6" font-size="9.3" text-anchor="middle" stroke="#000" stroke-width="0.2" stroke-linejoin="round">mass spectrometer (DEMS)</text>
<path d="M255.9 301.8l.6-.1 .6-.1 .6 0 .5-.2 .6 .1 .6 .2 .6-.1 .6 .3 .6-.4 .6-.4 .5 .4 .6 .1 .6 0 .6 0 .6-.2 .6 .4 .6-.4 .5 .3 .6-.2 .6-.2 .6 .4 .6-.7 .6 .3 .6 .2 .5-.2 .6 .1 .6-.3 .6-.2 .6 .3 .6-.7 .6-.4 .5-.8 .6-.9 .6-1.3 .6-2.8 .6-5.1 .6-9.2 .6-15.5 .5-21 .6-9.8 .6 12.7 .6 20.3 .6 14.9 .6 8.3 .6 4.6 .5 3.1 .6 1.3 .6 1 .6 .4 .6 .5 .6 .3 .6 .2 .5 .4 .6-.4 .6 .2 .6 0 .6-.6 .6 .4 .6 .3 .5 .1 .6-.2 .6 .3 .6 .1 .6-.3 .6 .3 .6 .1 .5-.2 .6-.3 .6 .5 .6-.3 .6-.1 .6 .1 .6-.1 .5 .3 .6-.1 .6 .1 .6-.2 .6-.2 .6 .1 .5 .1 .6-.3 .6 .6 .6-.7 .6-.2 .6 .2 .6-.4 .5-.4 .6-.6 .6-.7 .6-1.3 .6-2.3 .6-4.2 .6-7.3 .5-13.1 .6-19.7 .6-16.2 .6 6.3 .6 19.9 .6 16.9 .6 10.1 .5 5.6 .6 3 .6 1.6 .6 1.1 .6 1 .6 0 .6 .5 .5 .4 .6-.1 .6-.3 .6 .5 .6-.1 .6 .1 .6 .3 .5-.1 .6-.1 .6 .2 .6 0 .6-.1 .6 .1 .6 0 .5-.1 .6 0 .6 .1 .6-.2 .6-.1 .6 .5 .6-.3 .5 0 .6 0 .6 0 .6 0 .6 0 .6-.1 .6 .2 .5-.3 .6 .3 .6-.6 .6 .1 .6 .3 .6-.3 .6-.2 .5-.1 .6-.5 .6-.3 .6-1.1 .6-.8 .6-1.9 .6-3 .5-5.9 .6-11.1 .6-17.1 .6-19.2 .6-2.5 .6 17.1 .6 19.3 .5 11.7 .6 6.6 .6 3.6 .6 2.1 .6 1.6 .6 .5 .6 .9 .5-.1 .6-.1 .6 .7 .6-.1 .6 .1 .6 .4 .6-.2 .5 .3 .6-.2 .6-.1 .6 .2 .6-.2 .6 .4 .6-.1 .5-.1 .6 .1 .6 0 .6-.1 .6 .2 .6-.2 .6 .1 .5-.3 .6 .2 .6 .1 .6-.2 .6 0 .6 0 .6 .2 .5-.3 .6 .2 .6 .2 .6-.3 .6-.4 .6 .3 .6 0 .5-.3 .6 0 .6-.3 .6-.4 .6-.7 .6-1 .6-1.5 .5-2.5 .6-4.6 .6-8.6 .6-14.8 .6-19.3 .6-9.5 .6 11.5 .5 19.4 .6 13.9 .6 8 .6 4.4 .6 2.4 .6 1.3 .6 1.2 .5 .4 .6 .1 .6 .5 .6 0 .6 .6 .6-.3 .5 .1 .6 .2 .6 0 .6 0 .6 .3 .6-.2 .6 .1 .5 .1 .6-.3 .6 .4 .6-.1 .6 0 .6-.3 .6 .3 .5-.1 .6-.1 .6 .5 .6-.3 .6-.2 .6 .1 .6 .1 .5 0 .6-.1 .6 .1 .6 .1 .6-.6 .6 .1 .6-.1 .5 .1 .6 .2 .6-.2 .6-.5 .6-.1 .6-.1 .6-.7 .5-.7 .6-1.2 .6-2.4 .6-3.3 .6-6.8 .6-12 .6-18.3 .5-14.7 .6 4.9 .6 18.4 .6 15.7 .6 9.5 .6 5.4 .6 2.8 .5 1.3 .6 1 .6 1.1 .6 0 .6 .6 .6 .2 .6-.2 .5 .1 .6 .2 .6-.1 .6 0 .6 .1 .6 .3 .6-.2 .5 0 .6 0 .6-.1 .6 .5 .6-.7 .6 .3 .6 .2 .5-.3 .6 .4 .6 .1 .6-.4" stroke="#f0141e" stroke-width="1.3" fill="none"/>
<path d="M255.9 322.3l.6 0 .6 0 .6 0 .5 0 .6 0 .6 0 .6 0 .6 0 .6 0 .6 0 .5 0 .6 0 .6 0 .6 0 .6 0 .6 0 .6 0 .5 0 .6 0 .6 0 .6 0 .6 0 .6 0 .6 0 .5 0 .6 0 .6 0 .6 0 .6 0 .6 0 .6 0 .5 0 .6 0 .6 0 .6-.1 .6 0 .6-.1 .6-.2 .5-.3 .6-.2 .6 .2 .6 .3 .6 .2 .6 .1 .6 0 .5 .1 .6 0 .6 0 .6 0 .6 0 .6 0 .6 0 .5 0 .6 0 .6 0 .6 0 .6 0 .6 0 .6 0 .5 0 .6 0 .6 0 .6 0 .6 0 .6 0 .6 0 .5 0 .6 0 .6 0 .6 0 .6 0 .6 0 .6 0 .5 0 .6 0 .6 0 .6 0 .6 0 .6 0 .5 0 .6 0 .6 0 .6 0 .6 0 .6 0 .6 0 .5 0 .6 0 .6 0 .6 0 .6 0 .6-.1 .6-.1 .5-.1 .6-.3 .6-.3 .6 .1 .6 .3 .6 .3 .6 .1 .5 0 .6 .1 .6 0 .6 0 .6 0 .6 0 .6 0 .5 0 .6 0 .6 0 .6 0 .6 0 .6 0 .6 0 .5 0 .6 0 .6 0 .6 0 .6 0 .6 0 .6 0 .5 0 .6 0 .6 0 .6 0 .6 0 .6 0 .6 0 .5 0 .6 0 .6 0 .6 0 .6 0 .6 0 .6 0 .5 0 .6 0 .6 0 .6 0 .6 0 .6 0 .6 0 .5 0 .6 0 .6 0 .6 0 .6 0 .6 0 .6-.1 .5 0 .6-.2 .6-.2 .6-.3 .6-.1 .6 .3 .6 .3 .5 .1 .6 .1 .6 .1 .6 0 .6 0 .6 0 .6 0 .5 0 .6 0 .6 0 .6 0 .6 0 .6 0 .6 0 .5 0 .6 0 .6 0 .6 0 .6 0 .6 0 .6 0 .5 0 .6 0 .6 0 .6 0 .6 0 .6 0 .6 0 .5 0 .6 0 .6 0 .6 0 .6 0 .6 0 .6 0 .5 0 .6 0 .6 0 .6 0 .6 0 .6 0 .6 0 .5 0 .6 0 .6 0 .6 0 .6 0 .6 0 .6 0 .5-.1 .6 0 .6-.1 .6-.2 .6-.3 .6-.2 .6 .2 .5 .3 .6 .2 .6 .1 .6 0 .6 .1 .6 0 .6 0 .5 0 .6 0 .6 0 .6 0 .6 0 .6 0 .5 0 .6 0 .6 0 .6 0 .6 0 .6 0 .6 0 .5 0 .6 0 .6 0 .6 0 .6 0 .6 0 .6 0 .5 0 .6 0 .6 0 .6 0 .6 0 .6 0 .6 0 .5 0 .6 0 .6 0 .6 0 .6 0 .6 0 .6 0 .5 0 .6 0 .6 0 .6 0 .6 0 .6 0 .6 0 .5 0 .6 0 .6 0 .6-.1 .6-.1 .6-.1 .6-.3 .5-.3 .6 .1 .6 .3 .6 .3 .6 .1 .6 0 .6 .1 .5 0 .6 0 .6 0 .6 0 .6 0 .6 0 .6 0 .5 0 .6 0 .6 0 .6 0 .6 0 .6 0 .6 0 .5 0 .6 0 .6 0 .6 0 .6 0 .6 0 .6 0 .5 0 .6 0 .6 0 .6 0" stroke="#5b7ee8" stroke-width="1.4" fill="none"/>
<rect x="255.90" y="186.40" width="175.10" height="140.70" fill="none" stroke="#222" stroke-width="1.0"/>
<line x1="255.90" y1="327.10" x2="255.90" y2="329.30" stroke="#000" stroke-width="0.8"/>
<text x="255.9" y="341.1" font-size="8.2" text-anchor="middle" stroke="#000" stroke-width="0.2" stroke-linejoin="round">0</text>
<line x1="279.89" y1="327.10" x2="279.89" y2="329.30" stroke="#000" stroke-width="0.8"/>
<text x="279.9" y="341.1" font-size="8.2" text-anchor="middle" stroke="#000" stroke-width="0.2" stroke-linejoin="round">200</text>
<line x1="303.87" y1="327.10" x2="303.87" y2="329.30" stroke="#000" stroke-width="0.8"/>
<text x="303.9" y="341.1" font-size="8.2" text-anchor="middle" stroke="#000" stroke-width="0.2" stroke-linejoin="round">400</text>
<line x1="327.86" y1="327.10" x2="327.86" y2="329.30" stroke="#000" stroke-width="0.8"/>
<text x="327.9" y="341.1" font-size="8.2" text-anchor="middle" stroke="#000" stroke-width="0.2" stroke-linejoin="round">600</text>
<line x1="351.85" y1="327.10" x2="351.85" y2="329.30" stroke="#000" stroke-width="0.8"/>
<text x="351.8" y="341.1" font-size="8.2" text-anchor="middle" stroke="#000" stroke-width="0.2" stroke-linejoin="round">800</text>
<line x1="375.83" y1="327.10" x2="375.83" y2="329.30" stroke="#000" stroke-width="0.8"/>
<text x="375.8" y="341.1" font-size="8.2" text-anchor="middle" stroke="#000" stroke-width="0.2" stroke-linejoin="round">1000</text>
<line x1="399.82" y1="327.10" x2="399.82" y2="329.30" stroke="#000" stroke-width="0.8"/>
<text x="399.8" y="341.1" font-size="8.2" text-anchor="middle" stroke="#000" stroke-width="0.2" stroke-linejoin="round">1200</text>
<line x1="423.80" y1="327.10" x2="423.80" y2="329.30" stroke="#000" stroke-width="0.8"/>
<text x="423.8" y="341.1" font-size="8.2" text-anchor="middle" stroke="#000" stroke-width="0.2" stroke-linejoin="round">1400</text>
<line x1="267.89" y1="327.10" x2="267.89" y2="328.40" stroke="#000" stroke-width="0.7"/>
<line x1="291.88" y1="327.10" x2="291.88" y2="328.40" stroke="#000" stroke-width="0.7"/>
<line x1="315.87" y1="327.10" x2="315.87" y2="328.40" stroke="#000" stroke-width="0.7"/>
<line x1="339.85" y1="327.10" x2="339.85" y2="328.40" stroke="#000" stroke-width="0.7"/>
<line x1="363.84" y1="327.10" x2="363.84" y2="328.40" stroke="#000" stroke-width="0.7"/>
<line x1="387.82" y1="327.10" x2="387.82" y2="328.40" stroke="#000" stroke-width="0.7"/>
<line x1="411.81" y1="327.10" x2="411.81" y2="328.40" stroke="#000" stroke-width="0.7"/>
<text x="345.4" y="352.6" font-size="10.5" text-anchor="middle" stroke="#000" stroke-width="0.2" stroke-linejoin="round">Time (s)</text>
<text x="248.0" y="254.8" font-size="10.6" text-anchor="middle" stroke="#000" stroke-width="0.2" stroke-linejoin="round" transform="rotate(-90 248.0 254.8)">Mass signal (a.u.)</text>
<text x="292.0" y="203.6" font-size="9" text-anchor="middle" stroke="#000" stroke-width="0.2" stroke-linejoin="round">RuIrFeCoO<tspan font-size="6.12" baseline-shift="-1.80" stroke-width="0.13">2</tspan></text>
<line x1="383.00" y1="197.40" x2="403.80" y2="197.40" stroke="#f0141e" stroke-width="1.2"/>
<line x1="383.00" y1="208.30" x2="403.80" y2="208.30" stroke="#7f9af0" stroke-width="1.2"/>
<text x="408.1" y="202.6" font-size="9.6" stroke="#000" stroke-width="0.2" stroke-linejoin="round"><tspan font-size="5.76" baseline-shift="3.46" stroke-width="0.13">32</tspan>O<tspan font-size="6.53" baseline-shift="-1.92" stroke-width="0.13">2</tspan></text>
<text x="408.1" y="213.5" font-size="9.6" stroke="#000" stroke-width="0.2" stroke-linejoin="round"><tspan font-size="5.76" baseline-shift="3.46" stroke-width="0.13">34</tspan>O<tspan font-size="6.53" baseline-shift="-1.92" stroke-width="0.13">2</tspan></text>
<text x="224.6" y="193.0" font-size="12.8" font-weight="bold">e</text>
<path d="M500.5 283.3l.6-.3 .6 .3 .6 0 .5 0 .6 .2 .6-.2 .6 .2 .6-.2 .6-.3 .6 .3 .5 0 .6-.4 .6 .5 .6-.2 .6 0 .6-.2 .6 .1 .6 0 .5-.1 .6 0 .6-.5 .6 .6 .6-.5 .6-.3 .6 .1 .5-.1 .6 0 .6-.5 .6-.1 .6-.7 .6 0 .6-1.1 .5-.9 .6-2.1 .6-2 .6-3.6 .6-4.5 .6-6.9 .6-9.8 .6-11.1 .5-10.2 .6-4.7 .6 3.9 .6 9.8 .6 11.2 .6 9.9 .6 7.2 .5 4.7 .6 3.6 .6 2.5 .6 1.6 .6 1.1 .6 1.1 .6 .6 .5 .4 .6 .2 .6 .7 .6 .1 .6-.2 .6 .2 .6 .3 .5-.3 .6 .3 .6 0 .6-.1 .6 .1 .6-.2 .6 .2 .6-.3 .5 .8 .6-.1 .6-.1 .6-.2 .6 .1 .6 0 .6-.1 .5-.1 .6-.4 .6 .2 .6-.4 .6-.3 .6-.2 .6 0 .5-.3 .6-.9 .6-.2 .6-1.1 .6-1.7 .6-2 .6-2.9 .6-4.1 .5-6.4 .6-8.7 .6-10.5 .6-11.1 .6-6 .6 1.7 .6 8.3 .5 11.2 .6 10 .6 7.8 .6 5.3 .6 3.6 .6 2.6 .6 1.9 .5 1.4 .6 1 .6 .4 .6 .3 .6 .4 .6 .4 .6 .5 .6-.1 .5 .1 .6 0 .6 .3 .6 0 .6 0 .6 .1 .6 .3 .5-.3 .6 .3 .6-.1 .6-.2 .6 .1 .6-.2 .6-.1 .5 .1 .6-.2 .6 .2 .6-.2 .6 0 .6-.1 .6-.9 .5 .4 .6-.7 .6 0 .6-.8 .6-.5 .6-.9 .6-2 .6-1.7 .5-3.1 .6-4.8 .6-5.9 .6-8.9 .6-10.9 .6-10.6 .6-5 .5 1.6 .6 8.7 .6 11.3 .6 9.9 .6 7.5 .6 5.3 .6 3.4 .5 2.8 .6 1.6 .6 1 .6 1 .6 .7 .6 .7 .6 .3 .6 .1 .5 .3 .6 .2 .6 .4 .6-.4 .6 .3 .6 .1 .6-.2 .5 .2 .6 .1 .6-.1 .6 .2 .6 .1 .6 0 .6-.3 .5 .1 .6 .4 .6-.7 .6 .2 .6 .1 .6-.2 .6 0 .5-.2 .6 0 .6-.1 .6-.5 .6-.2 .6-.4 .6-.6 .6-.6 .5-1.1 .6-1 .6-1.8 .6-2.7 .6-4.1 .6-6.2 .6-7.7 .5-10.8 .6-10.9 .6-7.1 .6-.5 .6 7.9 .6 10.9 .6 10.3 .5 8 .6 6 .6 3.9 .6 3 .6 1.9 .6 .9 .6 1.1 .6 .7 .5 .4 .6 .4 .6 .5 .6 .1 .6-.1 .6 .4 .6 .3 .5-.2 .6 .1 .6 .5 .6 0 .6-.5 .6 .1 .6 .3 .5-.3 .6 .2 .6 0 .6 .2 .6-.6 .6 0 .6 .2 .6 .4 .5-.3 .6-.3 .6 .3 .6-.1 .6-.2 .6-.2 .6-.1 .5-.1 .6-.5 .6-.3 .6-.7 .6-.8 .6-1.2 .6-1.3 .5-2.3 .6-3.1 .6-4.5 .6-6.7 .6-9 .6-11.4 .6-9.8 .5-5.2 .6 3.2 .6 9.4 .6 11.5 .6 9.5 .6 6.9 .6 5 .6 3.7 .5 2.3 .6 2 .6 .7 .6 .7 .6 .9 .6 .5 .6 .4 .5 .4 .6 .4 .6-.2 .6 0 .6-.1 .6 .5 .6 .2 .5-.2 .6 .3 .6-.1 .6 .3 .6-.2 .6-.2 .6 .1 .6-.2 .5 0 .6 .4 .6 .1 .6 .2 .6-.3 .6 0 .6-.2 .5 .4 .6-.1 .6-.2 .6 .3" stroke="#f0141e" stroke-width="1.3" fill="none"/>
<path d="M500.5 319.8l.6 0 .6 0 .6 0 .5 0 .6 0 .6 0 .6 0 .6 0 .6 0 .6 0 .5 0 .6 0 .6 0 .6 0 .6 0 .6 0 .6 0 .6 0 .5 0 .6 0 .6 0 .6 0 .6 0 .6 0 .6 0 .5 0 .6 0 .6 0 .6 0 .6 0 .6 0 .6 0 .5 0 .6 0 .6 0 .6 0 .6-.1 .6 0 .6 0 .6-.1 .5 0 .6 0 .6 0 .6 0 .6 .1 .6 0 .6 0 .5 .1 .6 0 .6 0 .6 0 .6 0 .6 0 .6 0 .5 0 .6 0 .6 0 .6 0 .6 0 .6 0 .6 0 .5 0 .6 0 .6 0 .6 0 .6 0 .6 0 .6 0 .6 0 .5 0 .6 0 .6 0 .6 0 .6 0 .6 0 .6 0 .5 0 .6 0 .6 0 .6 0 .6 0 .6 0 .6 0 .5 0 .6 0 .6 0 .6 0 .6 0 .6 0 .6 0 .6 0 .5-.1 .6 0 .6-.1 .6 0 .6 0 .6 0 .6 0 .5 .1 .6 0 .6 0 .6 .1 .6 0 .6 0 .6 0 .5 0 .6 0 .6 0 .6 0 .6 0 .6 0 .6 0 .6 0 .5 0 .6 0 .6 0 .6 0 .6 0 .6 0 .6 0 .5 0 .6 0 .6 0 .6 0 .6 0 .6 0 .6 0 .5 0 .6 0 .6 0 .6 0 .6 0 .6 0 .6 0 .5 0 .6 0 .6 0 .6 0 .6 0 .6 0 .6 0 .6 0 .5 0 .6 0 .6-.1 .6 0 .6-.1 .6 0 .6 0 .5 0 .6 0 .6 .1 .6 0 .6 0 .6 .1 .6 0 .5 0 .6 0 .6 0 .6 0 .6 0 .6 0 .6 0 .6 0 .5 0 .6 0 .6 0 .6 0 .6 0 .6 0 .6 0 .5 0 .6 0 .6 0 .6 0 .6 0 .6 0 .6 0 .5 0 .6 0 .6 0 .6 0 .6 0 .6 0 .6 0 .5 0 .6 0 .6 0 .6 0 .6 0 .6 0 .6 0 .6 0 .5 0 .6 0 .6 0 .6 0 .6 0 .6-.1 .6 0 .5 0 .6-.1 .6 0 .6 0 .6 0 .6 .1 .6 0 .5 0 .6 .1 .6 0 .6 0 .6 0 .6 0 .6 0 .6 0 .5 0 .6 0 .6 0 .6 0 .6 0 .6 0 .6 0 .5 0 .6 0 .6 0 .6 0 .6 0 .6 0 .6 0 .5 0 .6 0 .6 0 .6 0 .6 0 .6 0 .6 0 .6 0 .5 0 .6 0 .6 0 .6 0 .6 0 .6 0 .6 0 .5 0 .6 0 .6 0 .6 0 .6 0 .6 0 .6 0 .5 0 .6 0 .6-.1 .6 0 .6 0 .6-.1 .6 0 .5 0 .6 0 .6 0 .6 .1 .6 0 .6 0 .6 .1 .6 0 .5 0 .6 0 .6 0 .6 0 .6 0 .6 0 .6 0 .5 0 .6 0 .6 0 .6 0 .6 0 .6 0 .6 0 .5 0 .6 0 .6 0 .6 0 .6 0 .6 0 .6 0 .6 0 .5 0 .6 0 .6 0 .6 0 .6 0 .6 0 .6 0 .5 0 .6 0 .6 0 .6 0" stroke="#86a0f0" stroke-width="1.4" fill="none"/>
<rect x="500.50" y="184.70" width="175.30" height="140.70" fill="none" stroke="#222" stroke-width="1.0"/>
<line x1="500.50" y1="325.40" x2="500.50" y2="327.60" stroke="#000" stroke-width="0.8"/>
<text x="500.5" y="339.4" font-size="8.2" text-anchor="middle" stroke="#000" stroke-width="0.2" stroke-linejoin="round">0</text>
<line x1="532.31" y1="325.40" x2="532.31" y2="327.60" stroke="#000" stroke-width="0.8"/>
<text x="532.3" y="339.4" font-size="8.2" text-anchor="middle" stroke="#000" stroke-width="0.2" stroke-linejoin="round">200</text>
<line x1="564.13" y1="325.40" x2="564.13" y2="327.60" stroke="#000" stroke-width="0.8"/>
<text x="564.1" y="339.4" font-size="8.2" text-anchor="middle" stroke="#000" stroke-width="0.2" stroke-linejoin="round">400</text>
<line x1="595.94" y1="325.40" x2="595.94" y2="327.60" stroke="#000" stroke-width="0.8"/>
<text x="595.9" y="339.4" font-size="8.2" text-anchor="middle" stroke="#000" stroke-width="0.2" stroke-linejoin="round">600</text>
<line x1="627.76" y1="325.40" x2="627.76" y2="327.60" stroke="#000" stroke-width="0.8"/>
<text x="627.8" y="339.4" font-size="8.2" text-anchor="middle" stroke="#000" stroke-width="0.2" stroke-linejoin="round">800</text>
<line x1="659.57" y1="325.40" x2="659.57" y2="327.60" stroke="#000" stroke-width="0.8"/>
<text x="659.6" y="339.4" font-size="8.2" text-anchor="middle" stroke="#000" stroke-width="0.2" stroke-linejoin="round">1000</text>
<line x1="516.41" y1="325.40" x2="516.41" y2="326.70" stroke="#000" stroke-width="0.7"/>
<line x1="548.22" y1="325.40" x2="548.22" y2="326.70" stroke="#000" stroke-width="0.7"/>
<line x1="580.04" y1="325.40" x2="580.04" y2="326.70" stroke="#000" stroke-width="0.7"/>
<line x1="611.85" y1="325.40" x2="611.85" y2="326.70" stroke="#000" stroke-width="0.7"/>
<line x1="643.67" y1="325.40" x2="643.67" y2="326.70" stroke="#000" stroke-width="0.7"/>
<line x1="675.48" y1="325.40" x2="675.48" y2="326.70" stroke="#000" stroke-width="0.7"/>
<text x="590.1" y="350.9" font-size="10.5" text-anchor="middle" stroke="#000" stroke-width="0.2" stroke-linejoin="round">Time (s)</text>
<text x="493.0" y="257.0" font-size="10.6" text-anchor="middle" stroke="#000" stroke-width="0.2" stroke-linejoin="round" transform="rotate(-90 493.0 257.0)">Mass signal (a.u.)</text>
<text x="541.4" y="201.1" font-size="9" text-anchor="middle" stroke="#000" stroke-width="0.2" stroke-linejoin="round">RuIrFeCoCrO<tspan font-size="6.12" baseline-shift="-1.80" stroke-width="0.13">2</tspan></text>
<line x1="627.00" y1="194.50" x2="647.80" y2="194.50" stroke="#f0141e" stroke-width="1.2"/>
<line x1="627.00" y1="205.40" x2="647.80" y2="205.40" stroke="#7f9af0" stroke-width="1.2"/>
<text x="652.1" y="199.7" font-size="9.6" stroke="#000" stroke-width="0.2" stroke-linejoin="round"><tspan font-size="5.76" baseline-shift="3.46" stroke-width="0.13">32</tspan>O<tspan font-size="6.53" baseline-shift="-1.92" stroke-width="0.13">2</tspan></text>
<text x="652.1" y="210.6" font-size="9.6" stroke="#000" stroke-width="0.2" stroke-linejoin="round"><tspan font-size="5.76" baseline-shift="3.46" stroke-width="0.13">34</tspan>O<tspan font-size="6.53" baseline-shift="-1.92" stroke-width="0.13">2</tspan></text>
<text x="465.8" y="190.5" font-size="12.8" font-weight="bold">f</text>
<text x="0.3" y="377.7" font-size="12.8" font-weight="bold">g</text>
<path d="M30 397.9l.4 .6 .5 2.7 .5 1 .5 .9 .5 1.4 .4 2.6 .5-.3 .5 .2 .5-3.3 .5 .5 .4 1.6 .5-2.3 .5 .4 .5-.9 .4 4.2 .5-.6 .5-.5 .5 0 .5-.5 .4 .3 .5 1.2 .5-1.7 .5 1.9 .5-2.2 .4-.6 .5 2.1 .5-1.8 .5 .5 .5-1.3 .4-2.2 .5 2.8 .5-1.7 .5 3.2 .4-2.4 .5 .1 .5 2.9 .5 .6 .5 .1 .4-.6 .5 5.2 .5 .2 .5 4 .5 2.5 .4 3.4 .5-2.3 .5-5.4 .5-1.3 .5-.5 .4-3.2 .5 0 .5 .2 .5-.9 .4 .3 .5-3.1 .5 5.5 .5 4.8 .5 3.7 .4-2.8 .5 .1 .5 1.5 .5 8.2 .5 6.3 .4-3.3 .5-7.8 .5-3.3 .5-6.1 .5-.5 .4 .1 .5-3.7 .5 1.1 .5-3.6 .4 0 .5 .3 .5 5.3 .5 5.5 .5-1.4 .4-2.2 .5 .9 .5-4.3 .5-3 .5 2.2 .4 .8 .5 1.4 .5 1.6 .5-2 .5 2.1 .4-1.1 .5-2.3 .5-.9 .5-4.7 .4 1.6 .5 1.5 .5-5.1 .5 3.2 .5 3.8 .4 3 .5 2.6 .5-2.3 .5 1.3 .5-1.5 .4-4.8 .5-1 .5-.3 .5-2.2 .5-1.1 .4-3.7 .5 2.5 .5 .3 .5-1 .4 .1 .5 2.5 .5-3.1 .5-.8 .5 .6 .4 .5 .5 .9 .5 1.3 .5 1.9 .5 .3 .4-1 .5 1.7 .5 1.1 .5-.6 .5 2.3 .4-1 .5-3.2 .5 .3 .5 .6 .4-1.7 .5-2.2 .5 1.2 .5-1.5 .5-.6 .4 2.5 .5-.3 .5 .1 .5-.8 .5 .1 .4-1.1 .5 .8 .5 0 .5-1.1 .4 .5 .5-2.2 .5 .5 .5 2.5 .5 1.3 .4-.9 .5 .4 .5-.6 .5 2.2 .5 .7 .4-2.3 .5 2.5 .5 .2 .5-.3 .5-2.2 .4 1.4 .5-2.7 .5 2.8 .5-2 .4-1.9 .5 2.2 .5-.8 .5-2.1 .5 2 .4-1.5 .5 2.6 .5 2.2 .5-2.6 .5 4.8 .4-1 .5 .3 .5-.9 .5 1.8 .5-1.4 .4-.8 .5-.6 .5-2.1 .5 1.9 .4-4.4 .5 .5 .5 .6 .5 .6 .5 1.1 .4 .3 .5-1 .5 .2 .5 .7 .5 1.1 .4 .1 .5-1.1 .5-1.5 .5 4.9 .5-1.1 .4-.5 .5 .2 .5-1.7 .5-1.2 .4 0 .5-.6 .5-1.1 .5-1 .5 .9 .4 .5 .5-1.1 .5 .1 .5-1.5 .5 .9 .4-.2 .5-.7 .5-.3 .5 .5 .5-.5 .4 0 .5-.4 .5-.1 .5-.4 .4-.6 .5-.2 .5-.4 .5 0 .5-.9 .4-.1 .5 .7 .5 .1 L138.2 397.8 L30.0 397.8Z" fill="#d3efe3" stroke="none"/>
<path d="M138.2 396.2l.5-.3 .5 .1 .4-1 .5-.3 .5-.6 .5-1.3 .5-1.1 .4-1 .5 1.3 .5-3.8 .5-1.5 .4-1.3 .5-1.3 .5-1.7 .5-3.4 .5-2.8 .4 .5 .5-2 .5 4.1 .5 1.9 .5 3.2 .4 1.5 .5-.6 .5-.2 .5-2.1 .5-1.6 .4-1.1 .5-3.8 .5 5.2 .5 2.8 .4 3.6 .5 1.8 .5 3.4 .5-1 .5 0 .4-1.6 .5 1.8 .5 1.3 .5-1.7 .5 0 .4-1.8 .5 2.4 .5-2.6 .5 1.9 .5-.3 .4-.7 .5 2.7 .5-.7 .5 .4 .4 .1 .5-.8 .5-.6 .5 .7 .5-1.1 .4 .7 .5-.5 .5-.7 .5 1.1 .5 .5 .4 1.4 .5 1.9 .5-1.3 .5 2 .5 .5 .4 .2 .5-.1 .5-.6 .5-.1 .4 .4 .5-1.4 .5-2.2 .5-2.8 .5 1.4 .4-.5 .5 1.3 .5 4.1 .5 .2 .5-.3 .4 .6 .5-.4 .5-.6 .5-3.7 .5-4.9 .4-1.3 .5-4.4 .5-4.7 .5-3.3 .4 1.4 .5 .4 .5 2.4 .5 2.6 .5 1.3 .4 .6 .5 5.8 .5 3.6 .5 .5 .5 .5 .4-1.7 .5 .2 .5 1.4 .5-1 .5 3.2 .4 .9 L187.5 397.8 L138.2 397.8Z" fill="#c6d9f4" stroke="none"/>
<path d="M30 397.9l.4 .6 .5 2.7 .5 1 .5 .9 .5 1.4 .4 2.6 .5-.3 .5 .2 .5-3.3 .5 .5 .4 1.6 .5-2.3 .5 .4 .5-.9 .4 4.2 .5-.6 .5-.5 .5 0 .5-.5 .4 .3 .5 1.2 .5-1.7 .5 1.9 .5-2.2 .4-.6 .5 2.1 .5-1.8 .5 .5 .5-1.3 .4-2.2 .5 2.8 .5-1.7 .5 3.2 .4-2.4 .5 .1 .5 2.9 .5 .6 .5 .1 .4-.6 .5 5.2 .5 .2 .5 4 .5 2.5 .4 3.4 .5-2.3 .5-5.4 .5-1.3 .5-.5 .4-3.2 .5 0 .5 .2 .5-.9 .4 .3 .5-3.1 .5 5.5 .5 4.8 .5 3.7 .4-2.8 .5 .1 .5 1.5 .5 8.2 .5 6.3 .4-3.3 .5-7.8 .5-3.3 .5-6.1 .5-.5 .4 .1 .5-3.7 .5 1.1 .5-3.6 .4 0 .5 .3 .5 5.3 .5 5.5 .5-1.4 .4-2.2 .5 .9 .5-4.3 .5-3 .5 2.2 .4 .8 .5 1.4 .5 1.6 .5-2 .5 2.1 .4-1.1 .5-2.3 .5-.9 .5-4.7 .4 1.6 .5 1.5 .5-5.1 .5 3.2 .5 3.8 .4 3 .5 2.6 .5-2.3 .5 1.3 .5-1.5 .4-4.8 .5-1 .5-.3 .5-2.2 .5-1.1 .4-3.7 .5 2.5 .5 .3 .5-1 .4 .1 .5 2.5 .5-3.1 .5-.8 .5 .6 .4 .5 .5 .9 .5 1.3 .5 1.9 .5 .3 .4-1 .5 1.7 .5 1.1 .5-.6 .5 2.3 .4-1 .5-3.2 .5 .3 .5 .6 .4-1.7 .5-2.2 .5 1.2 .5-1.5 .5-.6 .4 2.5 .5-.3 .5 .1 .5-.8 .5 .1 .4-1.1 .5 .8 .5 0 .5-1.1 .4 .5 .5-2.2 .5 .5 .5 2.5 .5 1.3 .4-.9 .5 .4 .5-.6 .5 2.2 .5 .7 .4-2.3 .5 2.5 .5 .2 .5-.3 .5-2.2 .4 1.4 .5-2.7 .5 2.8 .5-2 .4-1.9 .5 2.2 .5-.8 .5-2.1 .5 2 .4-1.5 .5 2.6 .5 2.2 .5-2.6 .5 4.8 .4-1 .5 .3 .5-.9 .5 1.8 .5-1.4 .4-.8 .5-.6 .5-2.1 .5 1.9 .4-4.4 .5 .5 .5 .6 .5 .6 .5 1.1 .4 .3 .5-1 .5 .2 .5 .7 .5 1.1 .4 .1 .5-1.1 .5-1.5 .5 4.9 .5-1.1 .4-.5 .5 .2 .5-1.7 .5-1.2 .4 0 .5-.6 .5-1.1 .5-1 .5 .9 .4 .5 .5-1.1 .5 .1 .5-1.5 .5 .9 .4-.2 .5-.7 .5-.3 .5 .5 .5-.5 .4 0 .5-.4 .5-.1 .5-.4 .4-.6 .5-.2 .5-.4 .5 0 .5-.9 .4-.1 .5 .7 .5 .1 .5-.3 .5 .1 .4-1 .5-.3 .5-.6 .5-1.3 .5-1.1 .4-1 .5 1.3 .5-3.8 .5-1.5 .4-1.3 .5-1.3 .5-1.7 .5-3.4 .5-2.8 .4 .5 .5-2 .5 4.1 .5 1.9 .5 3.2 .4 1.5 .5-.6 .5-.2 .5-2.1 .5-1.6 .4-1.1 .5-3.8 .5 5.2 .5 2.8 .4 3.6 .5 1.8 .5 3.4 .5-1 .5 0 .4-1.6 .5 1.8 .5 1.3 .5-1.7 .5 0 .4-1.8 .5 2.4 .5-2.6 .5 1.9 .5-.3 .4-.7 .5 2.7 .5-.7 .5 .4 .4 .1 .5-.8 .5-.6 .5 .7 .5-1.1 .4 .7 .5-.5 .5-.7 .5 1.1 .5 .5 .4 1.4 .5 1.9 .5-1.3 .5 2 .5 .5 .4 .2 .5-.1 .5-.6 .5-.1 .4 .4 .5-1.4 .5-2.2 .5-2.8 .5 1.4 .4-.5 .5 1.3 .5 4.1 .5 .2 .5-.3 .4 .6 .5-.4 .5-.6 .5-3.7 .5-4.9 .4-1.3 .5-4.4 .5-4.7 .5-3.3 .4 1.4 .5 .4 .5 2.4 .5 2.6 .5 1.3 .4 .6 .5 5.8 .5 3.6 .5 .5 .5 .5 .4-1.7 .5 .2 .5 1.4 .5-1 .5 3.2 .4 .9" fill="none" stroke="#6fc3b9" stroke-width="0.9"/>
<line x1="170.09" y1="372.60" x2="170.09" y2="435.20" stroke="#000" stroke-width="0.9" stroke-dasharray="1.6 1.2"/>
<rect x="30.00" y="372.60" width="157.60" height="62.60" fill="none" stroke="#333" stroke-width="1.0"/>
<line x1="28.00" y1="372.80" x2="30.00" y2="372.80" stroke="#000" stroke-width="0.8"/>
<text x="25.8" y="376.3" font-size="6.9" text-anchor="end" stroke="#000" stroke-width="0.2" stroke-linejoin="round">1.0</text>
<line x1="28.00" y1="385.30" x2="30.00" y2="385.30" stroke="#000" stroke-width="0.8"/>
<text x="25.8" y="388.8" font-size="6.9" text-anchor="end" stroke="#000" stroke-width="0.2" stroke-linejoin="round">0.5</text>
<line x1="28.00" y1="397.80" x2="30.00" y2="397.80" stroke="#000" stroke-width="0.8"/>
<text x="25.8" y="401.3" font-size="6.9" text-anchor="end" stroke="#000" stroke-width="0.2" stroke-linejoin="round">0.0</text>
<line x1="28.00" y1="410.30" x2="30.00" y2="410.30" stroke="#000" stroke-width="0.8"/>
<text x="25.8" y="413.8" font-size="6.9" text-anchor="end" stroke="#000" stroke-width="0.2" stroke-linejoin="round">-0.5</text>
<line x1="28.00" y1="422.80" x2="30.00" y2="422.80" stroke="#000" stroke-width="0.8"/>
<text x="25.8" y="426.3" font-size="6.9" text-anchor="end" stroke="#000" stroke-width="0.2" stroke-linejoin="round">-1.0</text>
<line x1="28.00" y1="435.30" x2="30.00" y2="435.30" stroke="#000" stroke-width="0.8"/>
<text x="25.8" y="438.8" font-size="6.9" text-anchor="end" stroke="#000" stroke-width="0.2" stroke-linejoin="round">-1.5</text>
<line x1="28.80" y1="379.05" x2="30.00" y2="379.05" stroke="#000" stroke-width="0.6"/>
<line x1="28.80" y1="391.55" x2="30.00" y2="391.55" stroke="#000" stroke-width="0.6"/>
<line x1="28.80" y1="404.05" x2="30.00" y2="404.05" stroke="#000" stroke-width="0.6"/>
<line x1="28.80" y1="416.55" x2="30.00" y2="416.55" stroke="#000" stroke-width="0.6"/>
<line x1="28.80" y1="429.05" x2="30.00" y2="429.05" stroke="#000" stroke-width="0.6"/>
<line x1="30.00" y1="435.20" x2="30.00" y2="437.20" stroke="#000" stroke-width="0.8"/>
<text x="30.0" y="445.7" font-size="6.9" text-anchor="middle" stroke="#000" stroke-width="0.2" stroke-linejoin="round">-8</text>
<line x1="65.02" y1="435.20" x2="65.02" y2="437.20" stroke="#000" stroke-width="0.8"/>
<text x="65.0" y="445.7" font-size="6.9" text-anchor="middle" stroke="#000" stroke-width="0.2" stroke-linejoin="round">-6</text>
<line x1="100.04" y1="435.20" x2="100.04" y2="437.20" stroke="#000" stroke-width="0.8"/>
<text x="100.0" y="445.7" font-size="6.9" text-anchor="middle" stroke="#000" stroke-width="0.2" stroke-linejoin="round">-4</text>
<line x1="135.07" y1="435.20" x2="135.07" y2="437.20" stroke="#000" stroke-width="0.8"/>
<text x="135.1" y="445.7" font-size="6.9" text-anchor="middle" stroke="#000" stroke-width="0.2" stroke-linejoin="round">-2</text>
<line x1="170.09" y1="435.20" x2="170.09" y2="437.20" stroke="#000" stroke-width="0.8"/>
<text x="170.1" y="445.7" font-size="6.9" text-anchor="middle" stroke="#000" stroke-width="0.2" stroke-linejoin="round">0</text>
<line x1="47.51" y1="435.20" x2="47.51" y2="436.40" stroke="#000" stroke-width="0.6"/>
<line x1="82.53" y1="435.20" x2="82.53" y2="436.40" stroke="#000" stroke-width="0.6"/>
<line x1="117.56" y1="435.20" x2="117.56" y2="436.40" stroke="#000" stroke-width="0.6"/>
<line x1="152.58" y1="435.20" x2="152.58" y2="436.40" stroke="#000" stroke-width="0.6"/>
<line x1="187.60" y1="435.20" x2="187.60" y2="436.40" stroke="#000" stroke-width="0.6"/>
<text x="108.8" y="458.2" font-size="10.5" text-anchor="middle" stroke="#000" stroke-width="0.2" stroke-linejoin="round">Energy (eV)</text>
<text x="12.3" y="404.9" font-size="10.5" text-anchor="middle" stroke="#000" stroke-width="0.2" stroke-linejoin="round" transform="rotate(-90 12.3 404.9)">COHP</text>
<text x="33.0" y="384.6" font-size="8" stroke="#000" stroke-width="0.2" stroke-linejoin="round">Ru-O in RuO<tspan font-size="5.44" baseline-shift="-1.60" stroke-width="0.13">2</tspan></text>
<text x="82.3" y="394.3" font-size="8" stroke="#000" stroke-width="0.2" stroke-linejoin="round">-icohp = 4.16 eV</text>
<text x="160.0" y="385.1" font-size="8" stroke="#000" stroke-width="0.2" stroke-linejoin="round">E<tspan font-size="5.44" baseline-shift="-1.60" stroke-width="0.13">f</tspan></text>
<path d="M30.5 492.9l.4 .8 .5 .5 .5-.1 .5 1.8 .4-.6 .5-.1 .5-.3 .5 .4 .5-.6 .4-.7 .5 .4 .5-.1 .5 .1 .4 .9 .5 .8 .5 .5 .5 1.8 .5 1.5 .4 1.8 .5-.1 .5 .1 .5 .5 .4 .5 .5-1.5 .5 1.5 .5-.1 .4-.2 .5 1.5 .5 3.8 .5 4.1 .5 2.7 .4 5.8 .5 1.5 .5-2.7 .5-2.6 .4-2.5 .5-4.3 .5-2.3 .5-4.5 .5-3.6 .4-.1 .5 6.2 .5-1.3 .5 4.9 .4 3.5 .5-.5 .5 1.8 .5-.2 .5-1.5 .4 1.1 .5-2.3 .5 0 .5 2.8 .4 .4 .5 .4 .5 1.5 .5 6.2 .4-.7 .5 2.9 .5 .1 .5-3.6 .5-4.9 .4-4.6 .5-5.2 .5-1.6 .5-.7 .4-.3 .5 .5 .5-2.5 .5 .9 .5-1.1 .4-.3 .5-1.1 .5 1.8 .5-2.1 .4 2.4 .5 2.4 .5-2.1 .5 .2 .5-2.3 .4-1.7 .5 .4 .5-.6 .5 1.1 .4 .8 .5-1.8 .5 1.6 .5 1.4 .4 1 .5 0 .5 .4 .5-.9 .5-1 .4-2.9 .5 .1 .5-2.9 .5 1.6 .4-2.2 .5 1.2 .5 .4 .5 .4 .5 .2 .4-.2 .5 4.5 .5-1 .5 .1 .4 1.5 .5-2.8 .5 .2 .5-1.1 .5 .8 .4-1.2 .5-.7 .5-.3 .5 1.2 .4 1.6 .5-2.9 .5 2.8 .5 .3 .4 .8 .5-1.2 .5 2.5 .5-2.4 .5 .1 .4-.9 .5-1.9 .5 .8 .5-2.1 .4 .4 .5 .1 .5-.3 .5 0 .5 .3 .4 2.7 .5-1.2 .5-1.3 .5 1.1 .4 .5 .5 1 .5-.7 .5-.7 .5 2.2 .4-2.2 .5-.9 .5-.4 .5-.4 .4 .7 .5-1.2 .5-.3 .5-1.8 .4 2 .5 1.2 .5 1.6 .5-1.1 .5-1.4 .4 3.2 .5-.7 .5-.8 .5 1.9 .4 2.5 .5-.3 .5-1 .5-2.4 .5 3.5 .4-4.6 .5 .7 .5-1.9 .5 2.4 .4-1.4 .5-.2 .5-.7 .5 .1 .5 .4 .4-1.6 .5 2.9 .5 .3 .5-1.2 .4 .7 .5 .6 .5 1.6 .5-1.1 .4-.6 .5-.9 .5-1.3 .5 .8 .5 .4 .4-.5 .5 0 .5 .3 .5-.5 .4-.4 .5 2.6 .5 2.4 .5 2.6 .5 3.4 .4 .5 .5 3.3 .5-5.2 .5 0 .4-3.3 .5-1.2 .5-2.8 .5-1.3 .5 2.1 .4-1.1 .5-.3 .5-.2 .5 .9 .4-.4 .5-.9 .5-1.9 .5 .7 .5 .1 .4 .7 .5-1.2 .5-.6 .5 .1 .4-.6 .5-.1 .5-.1 .5-.4 .4 .3 .5-.2 .5-.2 .5-.3 .5 .1 .4 .1 L138.8 492.8 L30.5 492.8Z" fill="#d3efe3" stroke="none"/>
<path d="M138.8 493.1l.5-.5 .5-.2 .5 .1 .4-.5 .5-.3 .5 .1 .5-.2 .5-.1 .4-.4 .5-.1 .5-.8 .5-.8 .4-.4 .5 .6 .5-.1 .5-.5 .5-1.1 .4-5.3 .5 1.5 .5-.2 .5-.3 .4-3 .5 2.4 .5-2.2 .5 .1 .4 2.1 .5 .6 .5 .7 .5 2.6 .5-1.1 .4-1.6 .5 .4 .5 .1 .5-1.5 .4 2.1 .5-3.1 .5 2.7 .5-.4 .5-1.4 .4 1.9 .5 1.7 .5-.8 .5-.5 .4 2.1 .5 2.5 .5-3.9 .5 2 .5-.7 .4-.3 .5-.5 .5 0 .5 1.3 .4-.4 .5-1.3 .5 3.3 .5-2.7 .4 2.7 .5-.1 .5 1.3 .5-.3 .5 .8 .4-.3 .5 .8 .5 .1 .5 .7 .4-.4 .5 .3 .5-.2 .5-.2 .5-.3 .4 .2 .5-.7 .5-.1 .5 .1 .4-3.4 .5 1.7 .5-3.3 .5-.9 .5-1.6 .4-1.1 .5-2.2 .5 .8 .5 1.7 .4 2.7 .5 1.5 .5 1.6 .5-1.2 .4-1.9 .5-2.9 .5 1.3 .5-1 .5-2.7 .4 .1 .5-.8 .5-.8 .5 2 .4 .2 .5-1.3 .5 2.3 .5-2.9 .5-4.7 .4-7.3 L187.5 492.8 L138.8 492.8Z" fill="#c6d9f4" stroke="none"/>
<path d="M30.5 492.9l.4 .8 .5 .5 .5-.1 .5 1.8 .4-.6 .5-.1 .5-.3 .5 .4 .5-.6 .4-.7 .5 .4 .5-.1 .5 .1 .4 .9 .5 .8 .5 .5 .5 1.8 .5 1.5 .4 1.8 .5-.1 .5 .1 .5 .5 .4 .5 .5-1.5 .5 1.5 .5-.1 .4-.2 .5 1.5 .5 3.8 .5 4.1 .5 2.7 .4 5.8 .5 1.5 .5-2.7 .5-2.6 .4-2.5 .5-4.3 .5-2.3 .5-4.5 .5-3.6 .4-.1 .5 6.2 .5-1.3 .5 4.9 .4 3.5 .5-.5 .5 1.8 .5-.2 .5-1.5 .4 1.1 .5-2.3 .5 0 .5 2.8 .4 .4 .5 .4 .5 1.5 .5 6.2 .4-.7 .5 2.9 .5 .1 .5-3.6 .5-4.9 .4-4.6 .5-5.2 .5-1.6 .5-.7 .4-.3 .5 .5 .5-2.5 .5 .9 .5-1.1 .4-.3 .5-1.1 .5 1.8 .5-2.1 .4 2.4 .5 2.4 .5-2.1 .5 .2 .5-2.3 .4-1.7 .5 .4 .5-.6 .5 1.1 .4 .8 .5-1.8 .5 1.6 .5 1.4 .4 1 .5 0 .5 .4 .5-.9 .5-1 .4-2.9 .5 .1 .5-2.9 .5 1.6 .4-2.2 .5 1.2 .5 .4 .5 .4 .5 .2 .4-.2 .5 4.5 .5-1 .5 .1 .4 1.5 .5-2.8 .5 .2 .5-1.1 .5 .8 .4-1.2 .5-.7 .5-.3 .5 1.2 .4 1.6 .5-2.9 .5 2.8 .5 .3 .4 .8 .5-1.2 .5 2.5 .5-2.4 .5 .1 .4-.9 .5-1.9 .5 .8 .5-2.1 .4 .4 .5 .1 .5-.3 .5 0 .5 .3 .4 2.7 .5-1.2 .5-1.3 .5 1.1 .4 .5 .5 1 .5-.7 .5-.7 .5 2.2 .4-2.2 .5-.9 .5-.4 .5-.4 .4 .7 .5-1.2 .5-.3 .5-1.8 .4 2 .5 1.2 .5 1.6 .5-1.1 .5-1.4 .4 3.2 .5-.7 .5-.8 .5 1.9 .4 2.5 .5-.3 .5-1 .5-2.4 .5 3.5 .4-4.6 .5 .7 .5-1.9 .5 2.4 .4-1.4 .5-.2 .5-.7 .5 .1 .5 .4 .4-1.6 .5 2.9 .5 .3 .5-1.2 .4 .7 .5 .6 .5 1.6 .5-1.1 .4-.6 .5-.9 .5-1.3 .5 .8 .5 .4 .4-.5 .5 0 .5 .3 .5-.5 .4-.4 .5 2.6 .5 2.4 .5 2.6 .5 3.4 .4 .5 .5 3.3 .5-5.2 .5 0 .4-3.3 .5-1.2 .5-2.8 .5-1.3 .5 2.1 .4-1.1 .5-.3 .5-.2 .5 .9 .4-.4 .5-.9 .5-1.9 .5 .7 .5 .1 .4 .7 .5-1.2 .5-.6 .5 .1 .4-.6 .5-.1 .5-.1 .5-.4 .4 .3 .5-.2 .5-.2 .5-.3 .5 .1 .4 .1 .5-.5 .5-.2 .5 .1 .4-.5 .5-.3 .5 .1 .5-.2 .5-.1 .4-.4 .5-.1 .5-.8 .5-.8 .4-.4 .5 .6 .5-.1 .5-.5 .5-1.1 .4-5.3 .5 1.5 .5-.2 .5-.3 .4-3 .5 2.4 .5-2.2 .5 .1 .4 2.1 .5 .6 .5 .7 .5 2.6 .5-1.1 .4-1.6 .5 .4 .5 .1 .5-1.5 .4 2.1 .5-3.1 .5 2.7 .5-.4 .5-1.4 .4 1.9 .5 1.7 .5-.8 .5-.5 .4 2.1 .5 2.5 .5-3.9 .5 2 .5-.7 .4-.3 .5-.5 .5 0 .5 1.3 .4-.4 .5-1.3 .5 3.3 .5-2.7 .4 2.7 .5-.1 .5 1.3 .5-.3 .5 .8 .4-.3 .5 .8 .5 .1 .5 .7 .4-.4 .5 .3 .5-.2 .5-.2 .5-.3 .4 .2 .5-.7 .5-.1 .5 .1 .4-3.4 .5 1.7 .5-3.3 .5-.9 .5-1.6 .4-1.1 .5-2.2 .5 .8 .5 1.7 .4 2.7 .5 1.5 .5 1.6 .5-1.2 .4-1.9 .5-2.9 .5 1.3 .5-1 .5-2.7 .4 .1 .5-.8 .5-.8 .5 2 .4 .2 .5-1.3 .5 2.3 .5-2.9 .5-4.7 .4-7.3" fill="none" stroke="#6fc3b9" stroke-width="0.9"/>
<line x1="170.50" y1="467.60" x2="170.50" y2="530.20" stroke="#000" stroke-width="0.9" stroke-dasharray="1.6 1.2"/>
<rect x="30.50" y="467.60" width="157.50" height="62.60" fill="none" stroke="#333" stroke-width="1.0"/>
<line x1="28.50" y1="467.80" x2="30.50" y2="467.80" stroke="#000" stroke-width="0.8"/>
<text x="26.3" y="471.3" font-size="6.9" text-anchor="end" stroke="#000" stroke-width="0.2" stroke-linejoin="round">1.0</text>
<line x1="28.50" y1="480.30" x2="30.50" y2="480.30" stroke="#000" stroke-width="0.8"/>
<text x="26.3" y="483.8" font-size="6.9" text-anchor="end" stroke="#000" stroke-width="0.2" stroke-linejoin="round">0.5</text>
<line x1="28.50" y1="492.80" x2="30.50" y2="492.80" stroke="#000" stroke-width="0.8"/>
<text x="26.3" y="496.3" font-size="6.9" text-anchor="end" stroke="#000" stroke-width="0.2" stroke-linejoin="round">0.0</text>
<line x1="28.50" y1="505.30" x2="30.50" y2="505.30" stroke="#000" stroke-width="0.8"/>
<text x="26.3" y="508.8" font-size="6.9" text-anchor="end" stroke="#000" stroke-width="0.2" stroke-linejoin="round">-0.5</text>
<line x1="28.50" y1="517.80" x2="30.50" y2="517.80" stroke="#000" stroke-width="0.8"/>
<text x="26.3" y="521.3" font-size="6.9" text-anchor="end" stroke="#000" stroke-width="0.2" stroke-linejoin="round">-1.0</text>
<line x1="28.50" y1="530.30" x2="30.50" y2="530.30" stroke="#000" stroke-width="0.8"/>
<text x="26.3" y="533.8" font-size="6.9" text-anchor="end" stroke="#000" stroke-width="0.2" stroke-linejoin="round">-1.5</text>
<line x1="29.30" y1="474.05" x2="30.50" y2="474.05" stroke="#000" stroke-width="0.6"/>
<line x1="29.30" y1="486.55" x2="30.50" y2="486.55" stroke="#000" stroke-width="0.6"/>
<line x1="29.30" y1="499.05" x2="30.50" y2="499.05" stroke="#000" stroke-width="0.6"/>
<line x1="29.30" y1="511.55" x2="30.50" y2="511.55" stroke="#000" stroke-width="0.6"/>
<line x1="29.30" y1="524.05" x2="30.50" y2="524.05" stroke="#000" stroke-width="0.6"/>
<line x1="30.50" y1="530.20" x2="30.50" y2="532.20" stroke="#000" stroke-width="0.8"/>
<text x="30.5" y="540.7" font-size="6.9" text-anchor="middle" stroke="#000" stroke-width="0.2" stroke-linejoin="round">-8</text>
<line x1="65.50" y1="530.20" x2="65.50" y2="532.20" stroke="#000" stroke-width="0.8"/>
<text x="65.5" y="540.7" font-size="6.9" text-anchor="middle" stroke="#000" stroke-width="0.2" stroke-linejoin="round">-6</text>
<line x1="100.50" y1="530.20" x2="100.50" y2="532.20" stroke="#000" stroke-width="0.8"/>
<text x="100.5" y="540.7" font-size="6.9" text-anchor="middle" stroke="#000" stroke-width="0.2" stroke-linejoin="round">-4</text>
<line x1="135.50" y1="530.20" x2="135.50" y2="532.20" stroke="#000" stroke-width="0.8"/>
<text x="135.5" y="540.7" font-size="6.9" text-anchor="middle" stroke="#000" stroke-width="0.2" stroke-linejoin="round">-2</text>
<line x1="170.50" y1="530.20" x2="170.50" y2="532.20" stroke="#000" stroke-width="0.8"/>
<text x="170.5" y="540.7" font-size="6.9" text-anchor="middle" stroke="#000" stroke-width="0.2" stroke-linejoin="round">0</text>
<line x1="48.00" y1="530.20" x2="48.00" y2="531.40" stroke="#000" stroke-width="0.6"/>
<line x1="83.00" y1="530.20" x2="83.00" y2="531.40" stroke="#000" stroke-width="0.6"/>
<line x1="118.00" y1="530.20" x2="118.00" y2="531.40" stroke="#000" stroke-width="0.6"/>
<line x1="153.00" y1="530.20" x2="153.00" y2="531.40" stroke="#000" stroke-width="0.6"/>
<line x1="188.00" y1="530.20" x2="188.00" y2="531.40" stroke="#000" stroke-width="0.6"/>
<text x="109.2" y="553.2" font-size="10.5" text-anchor="middle" stroke="#000" stroke-width="0.2" stroke-linejoin="round">Energy (eV)</text>
<text x="12.3" y="499.9" font-size="10.5" text-anchor="middle" stroke="#000" stroke-width="0.2" stroke-linejoin="round" transform="rotate(-90 12.3 499.9)">COHP</text>
<text x="33.0" y="479.6" font-size="8" stroke="#000" stroke-width="0.2" stroke-linejoin="round">Ru-O in RuIrFeCoCrO<tspan font-size="5.44" baseline-shift="-1.60" stroke-width="0.13">2</tspan></text>
<text x="85.0" y="490.2" font-size="8" stroke="#000" stroke-width="0.2" stroke-linejoin="round">-icohp = 3.67 eV</text>
<text x="160.0" y="480.1" font-size="8" stroke="#000" stroke-width="0.2" stroke-linejoin="round">E<tspan font-size="5.44" baseline-shift="-1.60" stroke-width="0.13">f</tspan></text>
<line x1="252.30" y1="412.30" x2="443.50" y2="412.30" stroke="#c8c8c8" stroke-width="0.8"/>
<line x1="252.30" y1="489.30" x2="443.50" y2="489.30" stroke="#c8c8c8" stroke-width="0.8"/>
<path d="M250 412.2l.7 0 .6 0 .7-.1 .6 0 .7 0 .6 0 .7 0 .6 0 .7 0 .6 0 .7 0 .6 0 .7 0 .6 0 .7 0 .6 0 .7 0 .6 0 .7 0 .6 0 .7 0 .6 0 .7 0 .7 0 .6 0 .7 0 .6 0 .7 0 .6 0 .7 0 .6-.1 .7-.5 .6-.6 .7-.7 .6-.7 .7-.4 .6 0 .7-.1 .6-.4 .7-1 .6-1.1 .7-.7 .6-.2 .7 .3 .6 0 .7-.6 .7-1.1 .6-.9 .7-.4 .6 .3 .7 .3 .6-.1 .7-.7 .6-1.1 .7-.9 .6-.4 .7 .1 .6 .6 .7 .3 .6-.2 .7-.1 .6-.2 .7 .3 .6 .5 .7 .2 .6-.4 .7-.6 .6-.4 .7 .1 .6 .4 .7 .1 .7-.5 .6-1 .7-1.1 .6-.5 .7 .1 .6 .6 .7 .3 .6 .1 .7 .2 .6 .3 .7 .8 .6 1.2 .7 1.1 .6 .7 .7 0 .6-.5 .7-1.1 .6-1 .7-.5 .6-.2 .7-.3 .6-.6 .7-.8 .7-.3 .6-.1 .7 .2 .6 .3 .7 .1 .6-.1 .7-.3 .6-.5 .7-.5 .6-.5 .7-.2 .6 .5 .7 .8 .6 .7 .7 .5 .6 .3 .7 .1 .6-.1 .7 0 .6 .3 .7 .3 .6-.1 .7-.7 .7-.9 .6-.6 .7-.1 .6 .4 .7 .5 .6 0 .7-.5 .6-.7 .7-.5 .6 .1 .7 .4 .6 .2 .7-.2 .6-.7 .7-.4 .6 0 .7 .4 .6 .6 .7 .3 .6-.1 .7-.6 .6-.6 .7-.2 .7 .2 .6 .1 .7-.4 .6-.7 .7-.5 .6-.1 .7 .4 .6 .6 .7 .1 .6-.5 .7-.9 .6-.6 .7 .1 .6 .9 .7 1 .6 .4 .7-.3 .6-.5 .7 0 .6 .8 .7 1.3 .6 1.1 .7 .5 .7-.3 .6-.6 .7-.1 .6 .5 .7 .9 .6 .8 .7 .3 .6-.1 .7 0 .6 .5 .7 1 .6 1.3 .7 1.3 .6 .9 .7 .4 .6 .2 .7-.9 .6-.6 .7-.5 .6-.6 .7-.7 .6-.9 .7 .2 .7 1.5 .6 1.6 .7 1.7 .6 1.7 .7 .4 .6 .4 .7 .3 .6 .2 .7-.1 .6-.1 .7-.1 .6 .2 .7 .2 .6 .2 .7 0 .6-.3 .7-.2 .6 0 .7 .1 .6 .2 .7 .1 .6-.1 .7-.3 .6-.2 .7 .1 .7 .1 .6 .2 .7 .1 .6-.1 .7-.1 .6 .1 .7 .2 .6 .1 .7-.1 .6-.2 .7-.3 .6-.2 .7 0 .6 .2 .7 .1 .6-.2 .7-.4 .6-.5 .7-.1 .6 .2 .7 .3 .6 .2 .7-.4 .7-.7 .6-.7 .7-.1 .6 .4 .7 .7 .6 .2 .7-.4 .6-.8 .7-.6 .6 0 .7 .6 .6 .7 .7 .2 .6-.7 .7-1 .6-.8 .7-.1 .6 .6 .7 .7 .6 .2 .7-.3 .6-.6 .7-.4 .7 .2 .6 .5 .7 .4 .6-.1 .7-.5 .6-.3 .7-.1 .6 .2 .7 .4 .6 .4 .7 .4 .6 .4 .7 .2 .6 .3 .7 .3 .6 .2 .7 .1 .6 .1 .7 .2 .6 .2 .7 .1 .6 0 .7 0 .7 .1 .6 .3 .7 .6 .6 .5 .7 .4 .6 .4 .7 .3 .6 .3 .7 0 .6 0 .7 0 .6 0 .7 0 .6 0 .7 0 .6 0 .7 0 .6 0 .7 0" fill="none" stroke="#2ea836" stroke-width="1.1"/>
<path d="M250 412.1l.7 0 .6 0 .7 0 .6 0 .7 0 .6 0 .7 0 .6 0 .7 0 .6 0 .7 0 .6 0 .7 0 .6 0 .7 0 .6 0 .7 0 .6 0 .7 0 .6 0 .7 0 .6 0 .7 .1 .7 0 .6-.1 .7 0 .6 0 .7 0 .6 0 .7 0 .6 .2 .7 .4 .6 .5 .7 .4 .6 .5 .7 .3 .6 .2 .7 .3 .6 .3 .7 .3 .6 .3 .7 .3 .6 .2 .7 .2 .6 .3 .7 .5 .7 .7 .6 .6 .7 .3 .6 0 .7-.1 .6-.2 .7 0 .6 .3 .7 .4 .6 .4 .7 .4 .6 .3 .7 .3 .6 .4 .7 .5 .6 .5 .7 .5 .6 .8 .7 1 .6 .9 .7 1.1 .6 1.3 .7 1.4 .6 1 .7-1.2 .7-1.4 .6-1.5 .7-1.7 .6-1.6 .7-1.4 .6-.3 .7 .4 .6 .4 .7 .2 .6 .1 .7 .1 .6 0 .7 0 .6-.1 .7 0 .6 .1 .7 .2 .6 .4 .7 .5 .6 .5 .7 .3 .6 0 .7-.3 .7-.3 .6-.2 .7 0 .6 .2 .7 .3 .6 .2 .7 .2 .6 .1 .7 .2 .6 .5 .7 .6 .6 .6 .7 .4 .6-.2 .7-.6 .6-.8 .7-.7 .6-.1 .7 .3 .6 .8 .7 .8 .6 .6 .7 .2 .7-.1 .6-.2 .7-.1 .6 .1 .7 .2 .6 .1 .7-.1 .6-.2 .7-.3 .6-.1 .7 0 .6 .2 .7 .3 .6 .2 .7 .2 .6 .2 .7 .3 .6 .3 .7 .5 .6 .4 .7 .3 .6 .1 .7 0 .7-.1 .6 0 .7 0 .6 .1 .7 .2 .6 .2 .7 .3 .6 .4 .7 .5 .6 .7 .7 .2 .6-.7 .7-1 .6-1.2 .7-1.4 .6-1.4 .7-1.2 .6-.7 .7-.4 .6-.4 .7-.4 .6-.5 .7-.4 .7-.5 .6-.5 .7-.7 .6-.7 .7-.9 .6-.9 .7-.7 .6-.4 .7-.1 .6-.1 .7-.3 .6-.4 .7-.5 .6-.5 .7-.4 .6-.4 .7-.2 .6-.3 .7-.3 .6-.3 .7-.3 .6-.3 .7 .1 .7 .7 .6 .7 .7 .9 .6 .7 .7 .4 .6 .2 .7 .1 .6 .2 .7 .5 .6 .9 .7 1.1 .6 1 .7 .5 .6 .1 .7 .1 .6 .1 .7 .3 .6-.3 .7-.1 .6-.2 .7-.3 .6-.4 .7-.5 .6-.4 .7-.4 .7-.5 .6-.5 .7-.4 .6-.2 .7 0 .6 .1 .7 .3 .6 .3 .7 .2 .6 0 .7 0 .6-.2 .7-.1 .6-.2 .7-.2 .6-.3 .7-.3 .6-.3 .7 .1 .6 .3 .7 .5 .6 .5 .7 .4 .7 .1 .6-.2 .7-.3 .6-.4 .7-.2 .6-.1 .7 0 .6 0 .7-.1 .6 0 .7 .1 .6 .3 .7 .4 .6 .3 .7 .2 .6 0 .7-.2 .6-.1 .7 0 .6 .4 .7 .4 .6 .4 .7 .1 .7-.2 .6-.5 .7-.3 .6-.1 .7 .4 .6 .5 .7 .6 .6 .4 .7 .1 .6-.1 .7-.1 .6 .1 .7 .1 .6 0 .7-.4 .6-.7 .7-.8 .6-.7 .7-.5 .6-.4 .7-.2 .6-.2 .7-.3 .7-.4 .6-.5 .7-.5 .6-.5 .7-.4 .6-.4 .7-.4 .6-.3 .7-.1 .6 0 .7 0 .6 .1 .7 0 .6-.1 .7 0 .6 0 .7 0 .6 0 .7 0" fill="none" stroke="#2ea836" stroke-width="1.1"/>
<path d="M250 412.1l.7 0 .6 0 .7 0 .6 0 .7 0 .6 0 .7 0 .6 0 .7 0 .6 0 .7 0 .6 0 .7 0 .6 0 .7 0 .6 0 .7 0 .6 0 .7 0 .6 0 .7 0 .6 0 .7 0 .7 0 .6 0 .7 0 .6 0 .7 0 .6 0 .7 0 .6-.1 .7-.5 .6-.4 .7-.5 .6-.3 .7-.3 .6-.2 .7-.4 .6-.4 .7-.5 .6-.5 .7-.4 .6-.3 .7-.3 .6-.5 .7-.4 .7-.5 .6-.5 .7-.3 .6-.4 .7-.4 .6-.5 .7-.6 .6-.4 .7-.2 .6-.1 .7 0 .6 .1 .7-.2 .6-.5 .7-.5 .6-.3 .7 0 .6 .2 .7 .4 .6 .2 .7 .1 .6 0 .7 .1 .6 .2 .7 .3 .7 .3 .6 .1 .7-.1 .6-.2 .7-.3 .6-.1 .7 0 .6 0 .7 0 .6 0 .7 0 .6 .2 .7 .3 .6 .4 .7 .2 .6 0 .7-.3 .6-.4 .7-.3 .6 0 .7 .2 .6 .2 .7 0 .7-.3 .6-.5 .7-.6 .6-.4 .7-.1 .6 0 .7 .1 .6 .1 .7-.1 .6-.2 .7-.1 .6-.1 .7 0 .6 0 .7-.2 .6-.2 .7-.2 .6-.1 .7-.1 .6-.2 .7-.3 .6-.5 .7-.6 .7-.5 .6-.1 .7 .3 .6 .5 .7 .4 .6 .3 .7-.1 .6-.2 .7-.3 .6-.2 .7-.1 .6-.1 .7-.2 .6-.4 .7-.5 .6-.4 .7-.2 .6 .1 .7 .1 .6 .2 .7 0 .6 0 .7 0 .7 .1 .6 0 .7-.1 .6-.2 .7-.4 .6-.4 .7-.3 .6 0 .7 .1 .6 0 .7-.2 .6-.5 .7-1 .6-2.2 .7-2 .6-1.7 .7-.5 .6-.3 .7-.5 .6-.2 .7-.3 .6-.2 .7-.1 .7 .1 .6 0 .7 .2 .6 1.1 .7 1.1 .6 1.2 .7 1.4 .6 1.4 .7 1.4 .6 1 .7 .8 .6 1 .7 1.1 .6 1.5 .7 1.8 .6 1.6 .7 1.3 .6 .9 .7 .5 .6 .4 .7 .7 .6 1 .7 1.1 .7 1 .6 .5 .7-.4 .6-.4 .7-.3 .6-.1 .7-.1 .6-.2 .7-.2 .6-.5 .7-.5 .6-.6 .7-.5 .6-.4 .7-.4 .6-.4 .7-.4 .6 0 .7 .2 .6 .2 .7 .2 .6 0 .7-.4 .6-.2 .7 .2 .7 .4 .6 .7 .7 .8 .6 .5 .7 .2 .6 0 .7-.2 .6 .1 .7 .2 .6 .3 .7 .4 .6 .4 .7 .2 .6 .1 .7 .1 .6 .1 .7 .2 .6 .2 .7 .2 .6 .3 .7 0 .6 0 .7 .1 .7 .1 .6 0 .7-.1 .6-.1 .7-.3 .6-.2 .7 0 .6 .1 .7 .1 .6 0 .7-.1 .6-.2 .7-.2 .6-.1 .7 0 .6 0 .7 0 .6-.1 .7-.2 .6-.1 .7 0 .6 .1 .7 .1 .7 .2 .6 .1 .7 .1 .6 .1 .7 0 .6 .1 .7 0 .6 0 .7-.1 .6-.1 .7 0 .6 .1 .7 .2 .6 .3 .7 .3 .6 .1 .7-.1 .6-.1 .7-.1 .6 0 .7 .1 .6 .1 .7 .2 .7 .2 .6 .1 .7 .3 .6 .2 .7 .3 .6 .3 .7 .3 .6 .3 .7 0 .6 0 .7 0 .6 0 .7 0 .6 0 .7 0 .6 0 .7 0 .6 0 .7 0" fill="none" stroke="#3a7ee8" stroke-width="1.1"/>
<path d="M250 412.1l.7 0 .6 0 .7 0 .6 0 .7 0 .6 0 .7 0 .6 0 .7 0 .6 0 .7 0 .6 0 .7 0 .6 0 .7 0 .6 0 .7 0 .6 0 .7 0 .6 0 .7 0 .6 0 .7 0 .7 0 .6 0 .7 0 .6 0 .7 0 .6 0 .7 0 .6 .1 .7 .3 .6 .2 .7 .3 .6 .2 .7 .3 .6 .3 .7 .3 .6 .2 .7 .3 .6 .3 .7 .3 .6 .3 .7 .3 .6 .4 .7 .2 .7 .3 .6 .2 .7 .2 .6 .2 .7 .2 .6 .3 .7 .4 .6 .4 .7 .5 .6 .6 .7 .5 .6 .5 .7 .5 .6 .3 .7 .2 .6 .1 .7 0 .6 .1 .7 .1 .6 .1 .7 .3 .6 .5 .7 .5 .6 .6 .7 .2 .7 .2 .6 .1 .7 0 .6-.2 .7-.3 .6-.4 .7-.4 .6-.3 .7-.2 .6-.2 .7 0 .6 .1 .7 .2 .6 .1 .7 .2 .6 0 .7 .2 .6 .1 .7 .1 .6 0 .7 .1 .6 0 .7 .1 .7 .2 .6 .2 .7 .3 .6 .2 .7 .3 .6 .3 .7 .2 .6 .2 .7 .2 .6 .2 .7 .2 .6 .2 .7 .2 .6 .2 .7 .2 .6 .2 .7 0 .6 .1 .7 0 .6 .1 .7 0 .6 .1 .7 .2 .7 .2 .6 .3 .7 .3 .6 .2 .7 .3 .6 .1 .7 .1 .6 0 .7-.1 .6 0 .7 0 .6 .1 .7 .1 .6 .2 .7 .2 .6 .3 .7 .2 .6 .2 .7 .1 .6 .1 .7 0 .6-.1 .7-.1 .7 0 .6 0 .7 .1 .6 .1 .7 .2 .6 .2 .7 .2 .6 .2 .7 .2 .6 .2 .7 .3 .6 .2 .7 .2 .6 .2 .7 .3 .6 .4 .7 .5 .6 .4 .7 .5 .6 .3 .7 .4 .6-.1 .7-.4 .7-.5 .6-.4 .7-.4 .6-.4 .7-.3 .6-.6 .7-.6 .6-.7 .7-.7 .6-1.1 .7-1.3 .6-1.5 .7-1.4 .6-1.5 .7-1.4 .6-1.4 .7-1.2 .6-1.2 .7-1.2 .6-1.2 .7-1.2 .6-1.4 .7-.3 .7 .6 .6 .7 .7 .6 .6 .5 .7 .6 .6 .5 .7 .6 .6 .7 .7 .5 .6 .3 .7 .3 .6 .2 .7 .2 .6 .1 .7 0 .6 0 .7 0 .6-.1 .7 .1 .6-.2 .7-.2 .6-.1 .7-.1 .6-.1 .7-.1 .7-.1 .6-.2 .7-.2 .6-.3 .7-.3 .6-.4 .7-.3 .6 0 .7 0 .6 0 .7 .1 .6 .1 .7 .1 .6 .1 .7 .1 .6 .1 .7 .1 .6 .1 .7 0 .6 .1 .7 0 .6-.1 .7 0 .7 0 .6-.1 .7 0 .6 0 .7 .1 .6 .1 .7 .2 .6 .1 .7 .2 .6 .1 .7 .1 .6 0 .7-.1 .6-.1 .7-.1 .6-.2 .7 0 .6 0 .7 .1 .6 0 .7 .1 .6 .1 .7 0 .7 0 .6-.1 .7-.1 .6-.2 .7-.3 .6-.2 .7-.2 .6-.1 .7-.1 .6 0 .7 0 .6 0 .7-.1 .6-.1 .7-.1 .6-.2 .7-.2 .6-.2 .7-.2 .6-.2 .7-.1 .6-.1 .7-.2 .7-.4 .6-.3 .7-.4 .6-.4 .7-.4 .6-.4 .7-.4 .6-.4 .7-.1 .6 0 .7 0 .6 0 .7 0 .6 0 .7 0 .6 0 .7 0 .6 0 .7 0" fill="none" stroke="#3a7ee8" stroke-width="1.1"/>
<path d="M250 489.3l.7 0 .6 0 .7 0 .6 0 .7 0 .6 0 .7 0 .6 0 .7 0 .6 0 .7 0 .6 0 .7 0 .6 0 .7 0 .6 0 .7 0 .6 0 .7 0 .6 0 .7 0 .6 0 .7 0 .7 0 .6 0 .7 0 .6 0 .7 0 .6 0 .7 0 .6-.2 .7-.3 .6-.3 .7-.2 .6-.3 .7-.3 .6-.3 .7-.2 .6-.3 .7-.4 .6-.6 .7-.7 .6-.7 .7-.6 .6-.4 .7 0 .7 .1 .6-.3 .7-.6 .6-.8 .7-.6 .6-.4 .7-.2 .6-.2 .7-.4 .6-.5 .7-.6 .6-.4 .7-.1 .6 0 .7-.1 .6-.3 .7-.6 .6-.8 .7-.8 .6 0 .7 .7 .6 .8 .7 .7 .6 .4 .7 .1 .7 .1 .6-.1 .7 .1 .6 .4 .7 .2 .6 .1 .7-.1 .6-.3 .7-.4 .6-.2 .7-.1 .6-.3 .7-.7 .6-.9 .7-.8 .6-.6 .7-.2 .6 .2 .7 .4 .6 .2 .7 .2 .6 .3 .7 .2 .7 .3 .6 .3 .7 .4 .6 .1 .7-.1 .6-.1 .7 0 .6 .3 .7 .7 .6 .9 .7 .7 .6 .4 .7 0 .6 0 .7 .1 .6 .5 .7 .6 .6 .7 .7 .5 .6 .2 .7-.1 .6 0 .7 .1 .7 .3 .6 .1 .7-.1 .6-.2 .7-.3 .6 .1 .7 .4 .6 .7 .7 .7 .6 .5 .7 .2 .6 0 .7-.1 .6 0 .7-.2 .6-.2 .7-.1 .6-.4 .7-.5 .6-.5 .7-.2 .6 .2 .7 .2 .7 .2 .6-.1 .7-.2 .6-.2 .7-.1 .6 .3 .7 .5 .6 .5 .7 .1 .6-.4 .7-.6 .6-.7 .7-.5 .6-.2 .7-.1 .6-.1 .7-.1 .6-.2 .7 .1 .6 .4 .7 .6 .6 .7 .7 .4 .7-.1 .6-.5 .7-.5 .6-.2 .7 .1 .6 .3 .7 .4 .6-.1 .7-.4 .6-.4 .7-.3 .6-.1 .7 .2 .6 0 .7-.1 .6-.5 .7-.4 .6-.3 .7 0 .6 .2 .7-.7 .6-1.2 .7-1.6 .7-1.8 .6-1 .7 1 .6 1.3 .7 1.5 .6 1.3 .7 .8 .6 .7 .7 .5 .6 .6 .7 .8 .6 .9 .7 .7 .6 .7 .7 .6 .6-.2 .7 .1 .6 .2 .7 .4 .6 .2 .7 0 .6-.2 .7-.4 .6-.5 .7-.3 .7-.2 .6-.2 .7-.1 .6-.2 .7-.1 .6 .1 .7 .2 .6 .4 .7 .3 .6 .1 .7-.3 .6-.4 .7-.5 .6-.3 .7-.1 .6 0 .7-.1 .6-.3 .7-.5 .6-.5 .7-.3 .6 0 .7 .4 .7 .3 .6 .1 .7 0 .6-.2 .7-.1 .6 .1 .7 .1 .6-.1 .7-.5 .6-.8 .7-.8 .6-.5 .7 0 .6 .4 .7 .6 .6 .5 .7 .2 .6-.1 .7-.2 .6-.1 .7 0 .6 0 .7-.2 .7-.5 .6-.4 .7-.4 .6 0 .7 .4 .6 .9 .7 .8 .6 .3 .7 .1 .6-.1 .7 .1 .6 .4 .7 .5 .6 .5 .7 .4 .6 .2 .7 .1 .6 .2 .7 .5 .6 .5 .7 .4 .6 .2 .7 .2 .7 .2 .6 .2 .7 .4 .6 .4 .7 .4 .6 .3 .7 .3 .6 .2 .7 .1 .6 0 .7 0 .6 0 .7 0 .6 0 .7 0 .6 0 .7 0 .6 0 .7 0" fill="none" stroke="#2ea836" stroke-width="1.1"/>
<path d="M250 489.3l.7 0 .6 0 .7 0 .6 0 .7 0 .6 0 .7 0 .6 0 .7 0 .6 0 .7 0 .6 0 .7 0 .6 0 .7 0 .6 0 .7 0 .6 0 .7 0 .6 0 .7 0 .6 0 .7 0 .7 0 .6 0 .7 0 .6 0 .7 0 .6 0 .7 0 .6 0 .7 .1 .6 .1 .7 .1 .6 .2 .7 .1 .6 .1 .7 .1 .6 .2 .7 .1 .6 .1 .7 0 .6 .1 .7 .1 .6 .2 .7 .2 .7 .2 .6 .2 .7 .3 .6 .3 .7 .4 .6 .2 .7 .3 .6 .2 .7 .1 .6 .1 .7 .1 .6 .4 .7 .4 .6 .5 .7 .6 .6 .6 .7 .7 .6 .5 .7 .6 .6 .5 .7 .6 .6 .6 .7 .6 .6 .4 .7-.6 .7-.6 .6-.6 .7-.6 .6-.4 .7-.4 .6-.3 .7-.4 .6-.2 .7-.1 .6-.1 .7-.2 .6-.2 .7-.2 .6-.3 .7-.3 .6-.3 .7-.2 .6-.1 .7 0 .6 0 .7 .1 .6-.1 .7-.1 .7-.2 .6-.3 .7-.2 .6-.2 .7-.2 .6-.1 .7 .1 .6 .1 .7 .3 .6 .3 .7 .3 .6 .2 .7 .1 .6 0 .7-.2 .6-.2 .7-.2 .6-.2 .7-.1 .6 0 .7 .1 .6 .3 .7 .2 .7 .2 .6 .2 .7 .2 .6 .1 .7 0 .6 0 .7-.1 .6 0 .7-.1 .6 0 .7-.1 .6 0 .7 0 .6 0 .7 0 .6 0 .7 .1 .6 .1 .7 .1 .6 .1 .7 0 .6-.1 .7-.2 .7-.2 .6-.3 .7-.2 .6-.2 .7-.1 .6-.1 .7 0 .6 .1 .7 .1 .6 .1 .7 .1 .6 .1 .7 0 .6-.1 .7-.1 .6-.1 .7-.2 .6-.2 .7-.2 .6-.2 .7-.2 .6 0 .7 0 .7 .1 .6 .1 .7 .1 .6 0 .7-.1 .6-.1 .7-.2 .6-.3 .7-.2 .6-.2 .7-.1 .6-.1 .7-.1 .6-.1 .7 0 .6-.1 .7-.2 .6-.2 .7-.2 .6-.3 .7-.2 .6-.2 .7 .1 .7 .5 .6 .6 .7 .7 .6 .7 .7 .7 .6 .6 .7 .5 .6 .5 .7 .4 .6 .4 .7 .4 .6 .6 .7 .7 .6 .8 .7 .9 .6 1.2 .7 1.2 .6 1.1 .7 1 .6-.3 .7-.5 .6-.6 .7-.6 .6-.6 .7-.5 .7-.5 .6-.4 .7-.4 .6-.1 .7 0 .6 0 .7 0 .6 .1 .7-.1 .6-.1 .7-.1 .6-.4 .7-.4 .6-.5 .7-.5 .6-.4 .7-.4 .6-.2 .7-.1 .6 .1 .7 .1 .6 .2 .7 0 .7 0 .6-.2 .7-.3 .6-.4 .7-.4 .6-.5 .7-.1 .6-.1 .7 0 .6 .1 .7 .2 .6 .3 .7 .3 .6 .3 .7 .3 .6 .2 .7 .1 .6 0 .7-.1 .6-.2 .7-.2 .6-.2 .7-.1 .7-.1 .6 .2 .7 .2 .6 .3 .7 .4 .6 .3 .7 .3 .6 .1 .7 0 .6-.1 .7-.1 .6-.2 .7 0 .6 0 .7 .2 .6 .3 .7 .3 .6 .3 .7-.6 .6-.6 .7-.8 .6-.7 .7-.8 .7-.7 .6-.7 .7-.6 .6-.6 .7-.6 .6-.6 .7-.7 .6-.7 .7 0 .6 0 .7 0 .6 0 .7 0 .6 0 .7 0 .6 0 .7 0 .6 0 .7 0" fill="none" stroke="#2ea836" stroke-width="1.1"/>
<path d="M250 489.3l.7 0 .6 0 .7 0 .6 0 .7 0 .6 0 .7 0 .6 0 .7 0 .6 0 .7 0 .6 0 .7 0 .6 0 .7 0 .6 0 .7 0 .6 0 .7 0 .6 0 .7 0 .6 0 .7 0 .7 0 .6 0 .7 0 .6 0 .7 0 .6 0 .7 0 .6-.2 .7-.3 .6-.4 .7-.3 .6-.3 .7-.3 .6-.2 .7-.4 .6-.3 .7-.4 .6-.4 .7-.3 .6-.3 .7-.4 .6-.4 .7-.3 .7-.3 .6-.1 .7-.1 .6-.2 .7-.4 .6-.6 .7-.6 .6-.4 .7-.1 .6 .1 .7 0 .6-.2 .7-.5 .6-.5 .7-.4 .6-.1 .7 .1 .6 .2 .7 0 .6-.5 .7-.9 .6-.8 .7-.5 .6-.2 .7 0 .7-.2 .6-.5 .7-.7 .6-.9 .7-.7 .6-.3 .7-.1 .6 .1 .7 .2 .6-.2 .7-.4 .6-.5 .7-.5 .6-.3 .7-.4 .6-.3 .7-.2 .6-.3 .7 .2 .6 .7 .7 .6 .6 .5 .7 .4 .7 .3 .6 .3 .7 .4 .6 .4 .7 .6 .6 .8 .7 .7 .6 .7 .7 .8 .6 .7 .7 .7 .6 .6 .7 .5 .6 .6 .7 .5 .6 .3 .7 .2 .6 .3 .7 .3 .6 .3 .7 .3 .6 .3 .7 .2 .7 .1 .6 0 .7 0 .6 .1 .7 .3 .6 .3 .7 .3 .6 .3 .7 .1 .6-.2 .7-.4 .6-.4 .7-.1 .6 .1 .7 .3 .6 .2 .7 .1 .6 0 .7-.2 .6-.1 .7 .1 .6 .2 .7 .1 .7-.1 .6-.3 .7-.4 .6-.4 .7-.1 .6 .2 .7 .3 .6 .3 .7 0 .6-.3 .7-.3 .6-.3 .7-.1 .6 0 .7 .1 .6 0 .7-.1 .6-.1 .7 0 .6 0 .7 .1 .6-.1 .7-.2 .7-.4 .6-.2 .7-.1 .6 .1 .7 .2 .6 .1 .7-.1 .6-.4 .7-.4 .6-.3 .7-.1 .6 .2 .7 .4 .6 .3 .7 .1 .6 0 .7 0 .6 .1 .7 .3 .6 .3 .7 .3 .6 .2 .7 .1 .7 0 .6 0 .7 0 .6 .2 .7 .3 .6 .4 .7-1.4 .6-1.5 .7-1.8 .6-1.6 .7-1.1 .6-1 .7-.4 .6 .3 .7 .3 .6 0 .7-.2 .6-.4 .7-.4 .6 .8 .7 1.3 .6 2 .7 3.6 .6 1.7 .7-.2 .7-.3 .6-.4 .7-.2 .6-.1 .7-.2 .6-.2 .7-.3 .6-.1 .7 .1 .6 .2 .7 .4 .6 .2 .7 .1 .6-.1 .7-.2 .6-.2 .7 0 .6 .2 .7 .1 .6 0 .7-.1 .6-.2 .7-.1 .7 .1 .6 .2 .7 .2 .6-.1 .7-.4 .6-.5 .7-.3 .6 0 .7 .3 .6 .5 .7 .3 .6 0 .7-.5 .6-.6 .7-.5 .6-.2 .7 .2 .6 .3 .7 .3 .6 0 .7-.1 .6-.2 .7-.1 .7-.1 .6-.1 .7 0 .6-.2 .7-.2 .6 0 .7 .1 .6 .2 .7 .4 .6 .4 .7 .4 .6 .3 .7 .1 .6 0 .7-.1 .6 0 .7 0 .6 .1 .7 .3 .6 .4 .7 .3 .6 .3 .7 .3 .7 .4 .6 .4 .7 .5 .6 .4 .7 .5 .6 .5 .7 .5 .6 .5 .7 .1 .6 0 .7 0 .6 0 .7 0 .6 0 .7 0 .6 0 .7 0 .6 0 .7 0" fill="none" stroke="#3a7ee8" stroke-width="1.1"/>
<path d="M250 489.3l.7 0 .6 0 .7 0 .6 0 .7 0 .6 0 .7 0 .6 0 .7 0 .6 0 .7 0 .6 0 .7 0 .6 0 .7 0 .6 0 .7 0 .6 0 .7 0 .6 0 .7 0 .6 0 .7 0 .7 0 .6 0 .7 0 .6 0 .7 0 .6 0 .7 0 .6 .1 .7 .2 .6 .2 .7 .2 .6 .2 .7 .2 .6 .2 .7 .2 .6 .2 .7 .3 .6 .3 .7 .3 .6 .3 .7 .3 .6 .2 .7 .1 .7 .1 .6 .1 .7 .1 .6 .2 .7 .2 .6 .3 .7 .2 .6 .3 .7 .2 .6 .2 .7 .3 .6 .2 .7 .3 .6 .3 .7 .4 .6 .2 .7 .3 .6 .1 .7 .1 .6 .1 .7 0 .6 .1 .7 .2 .6 .2 .7 .2 .7 .2 .6 .2 .7 .2 .6 .2 .7 .2 .6 .2 .7 .2 .6 .2 .7 .2 .6 .2 .7 .1 .6 0 .7 0 .6-.1 .7-.1 .6 0 .7 .1 .6 .3 .7 .2 .6 0 .7 .1 .6-.1 .7-.3 .7-.4 .6-.5 .7-.7 .6-.6 .7-.5 .6-.4 .7-.2 .6-.1 .7-.1 .6 0 .7-.2 .6-.2 .7-.3 .6-.3 .7-.4 .6-.1 .7-.1 .6-.1 .7 0 .6 0 .7-.1 .6 0 .7-.1 .7-.1 .6-.1 .7-.1 .6 0 .7-.1 .6 0 .7-.1 .6-.1 .7-.1 .6-.1 .7 0 .6-.1 .7 .1 .6 0 .7 .1 .6 0 .7 0 .6 0 .7-.1 .6-.1 .7-.1 .6 .1 .7 .1 .7 .2 .6 .2 .7 .3 .6 .1 .7 .1 .6-.1 .7-.1 .6-.2 .7-.1 .6 0 .7 0 .6 .2 .7 .3 .6 .3 .7 .2 .6 .2 .7 0 .6-.3 .7-.4 .6-.3 .7-.4 .6-.2 .7-.3 .7-.2 .6-.2 .7-.3 .6-.2 .7-.3 .6-.2 .7-.2 .6-.2 .7-.2 .6-.2 .7-.3 .6-.1 .7 0 .6-.1 .7 0 .6 0 .7-.1 .6 0 .7 0 .6 0 .7 .1 .6 0 .7 .3 .7 .5 .6 .6 .7 .5 .6 .6 .7 .5 .6 .6 .7 .6 .6 .5 .7 .4 .6 .3 .7 .2 .6 .2 .7 .2 .6 .3 .7 .5 .6 .6 .7 .6 .6 .8 .7 .8 .6 .6 .7 .4 .6 .4 .7 .3 .6 1.3 .7 2.6 .7 2.6 .6 3.2 .7 2.7 .6-2.2 .7-2.3 .6-2.3 .7-2.1 .6-2.1 .7-2.1 .6-1 .7-.2 .6-.2 .7-.1 .6-.1 .7-.2 .6-.4 .7-.5 .6-.5 .7-.5 .6-.4 .7-.4 .6-.2 .7-.1 .7 0 .6 .1 .7 .1 .6 .1 .7 .1 .6 0 .7 .1 .6 0 .7-.1 .6-.2 .7-.3 .6-.3 .7-.3 .6-.4 .7-.2 .6-.1 .7 .1 .6 .2 .7 .3 .6 .3 .7 .2 .6 .1 .7 0 .7-.3 .6-.3 .7-.5 .6-.3 .7-.3 .6 .1 .7 .1 .6 .2 .7 .2 .6 .2 .7 .1 .6 .1 .7 0 .6 0 .7 .1 .6 .2 .7 .2 .6 .3 .7 .3 .6 .1 .7 .1 .6-.1 .7-.8 .7-1.1 .6-1 .7-.9 .6-.7 .7-.8 .6-.7 .7-.7 .6-.8 .7 0 .6 0 .7 0 .6 0 .7 0 .6 0 .7 0 .6 0 .7 0 .6 0 .7 0" fill="none" stroke="#3a7ee8" stroke-width="1.1"/>
<line x1="342.30" y1="395.70" x2="342.30" y2="431.60" stroke="#2ea836" stroke-width="0.9" stroke-dasharray="1.5 1.2"/>
<line x1="347.20" y1="395.70" x2="347.20" y2="431.60" stroke="#3a7ee8" stroke-width="0.9" stroke-dasharray="1.5 1.2"/>
<line x1="354.70" y1="482.20" x2="354.70" y2="496.40" stroke="#2a9a6a" stroke-width="0.9" stroke-dasharray="1.5 1.2"/>
<line x1="371.50" y1="395.70" x2="371.50" y2="450.30" stroke="#000" stroke-width="1.0" stroke-dasharray="3 2"/>
<line x1="371.50" y1="475.00" x2="371.50" y2="527.90" stroke="#000" stroke-width="1.0" stroke-dasharray="3 2"/>
<rect x="252.30" y="372.90" width="191.20" height="155.00" fill="none" stroke="#222" stroke-width="1.0"/>
<line x1="252.30" y1="450.30" x2="443.50" y2="450.30" stroke="#222" stroke-width="1.0"/>
<line x1="250.30" y1="372.90" x2="252.30" y2="372.90" stroke="#000" stroke-width="0.8"/>
<text x="248.8" y="377.5" font-size="8.2" text-anchor="end" stroke="#000" stroke-width="0.2" stroke-linejoin="round">0.8</text>
<line x1="250.30" y1="392.60" x2="252.30" y2="392.60" stroke="#000" stroke-width="0.8"/>
<text x="248.8" y="397.2" font-size="8.2" text-anchor="end" stroke="#000" stroke-width="0.2" stroke-linejoin="round">0.4</text>
<line x1="250.30" y1="412.30" x2="252.30" y2="412.30" stroke="#000" stroke-width="0.8"/>
<text x="248.8" y="416.9" font-size="8.2" text-anchor="end" stroke="#000" stroke-width="0.2" stroke-linejoin="round">0.0</text>
<line x1="250.30" y1="432.00" x2="252.30" y2="432.00" stroke="#000" stroke-width="0.8"/>
<text x="248.8" y="436.6" font-size="8.2" text-anchor="end" stroke="#000" stroke-width="0.2" stroke-linejoin="round">-0.4</text>
<line x1="251.10" y1="382.75" x2="252.30" y2="382.75" stroke="#000" stroke-width="0.6"/>
<line x1="251.10" y1="402.45" x2="252.30" y2="402.45" stroke="#000" stroke-width="0.6"/>
<line x1="251.10" y1="422.15" x2="252.30" y2="422.15" stroke="#000" stroke-width="0.6"/>
<line x1="251.10" y1="441.85" x2="252.30" y2="441.85" stroke="#000" stroke-width="0.6"/>
<line x1="250.30" y1="458.30" x2="252.30" y2="458.30" stroke="#000" stroke-width="0.8"/>
<text x="248.8" y="462.9" font-size="8.2" text-anchor="end" stroke="#000" stroke-width="0.2" stroke-linejoin="round">2</text>
<line x1="250.30" y1="473.80" x2="252.30" y2="473.80" stroke="#000" stroke-width="0.8"/>
<text x="248.8" y="478.4" font-size="8.2" text-anchor="end" stroke="#000" stroke-width="0.2" stroke-linejoin="round">1</text>
<line x1="250.30" y1="489.30" x2="252.30" y2="489.30" stroke="#000" stroke-width="0.8"/>
<text x="248.8" y="493.9" font-size="8.2" text-anchor="end" stroke="#000" stroke-width="0.2" stroke-linejoin="round">0</text>
<line x1="250.30" y1="504.80" x2="252.30" y2="504.80" stroke="#000" stroke-width="0.8"/>
<text x="248.8" y="509.4" font-size="8.2" text-anchor="end" stroke="#000" stroke-width="0.2" stroke-linejoin="round">-1</text>
<line x1="250.30" y1="520.30" x2="252.30" y2="520.30" stroke="#000" stroke-width="0.8"/>
<text x="248.8" y="524.9" font-size="8.2" text-anchor="end" stroke="#000" stroke-width="0.2" stroke-linejoin="round">-2</text>
<line x1="251.10" y1="466.05" x2="252.30" y2="466.05" stroke="#000" stroke-width="0.6"/>
<line x1="251.10" y1="481.55" x2="252.30" y2="481.55" stroke="#000" stroke-width="0.6"/>
<line x1="251.10" y1="497.05" x2="252.30" y2="497.05" stroke="#000" stroke-width="0.6"/>
<line x1="251.10" y1="512.55" x2="252.30" y2="512.55" stroke="#000" stroke-width="0.6"/>
<line x1="264.13" y1="527.90" x2="264.13" y2="529.90" stroke="#000" stroke-width="0.8"/>
<line x1="264.13" y1="450.30" x2="264.13" y2="448.70" stroke="#000" stroke-width="0.7"/>
<text x="264.1" y="540.6" font-size="8.2" text-anchor="middle" stroke="#000" stroke-width="0.2" stroke-linejoin="round">-9</text>
<line x1="299.92" y1="527.90" x2="299.92" y2="529.90" stroke="#000" stroke-width="0.8"/>
<line x1="299.92" y1="450.30" x2="299.92" y2="448.70" stroke="#000" stroke-width="0.7"/>
<text x="299.9" y="540.6" font-size="8.2" text-anchor="middle" stroke="#000" stroke-width="0.2" stroke-linejoin="round">-6</text>
<line x1="335.71" y1="527.90" x2="335.71" y2="529.90" stroke="#000" stroke-width="0.8"/>
<line x1="335.71" y1="450.30" x2="335.71" y2="448.70" stroke="#000" stroke-width="0.7"/>
<text x="335.7" y="540.6" font-size="8.2" text-anchor="middle" stroke="#000" stroke-width="0.2" stroke-linejoin="round">-3</text>
<line x1="371.50" y1="527.90" x2="371.50" y2="529.90" stroke="#000" stroke-width="0.8"/>
<line x1="371.50" y1="450.30" x2="371.50" y2="448.70" stroke="#000" stroke-width="0.7"/>
<text x="371.5" y="540.6" font-size="8.2" text-anchor="middle" stroke="#000" stroke-width="0.2" stroke-linejoin="round">0</text>
<line x1="407.29" y1="527.90" x2="407.29" y2="529.90" stroke="#000" stroke-width="0.8"/>
<line x1="407.29" y1="450.30" x2="407.29" y2="448.70" stroke="#000" stroke-width="0.7"/>
<text x="407.3" y="540.6" font-size="8.2" text-anchor="middle" stroke="#000" stroke-width="0.2" stroke-linejoin="round">3</text>
<line x1="443.08" y1="527.90" x2="443.08" y2="529.90" stroke="#000" stroke-width="0.8"/>
<line x1="443.08" y1="450.30" x2="443.08" y2="448.70" stroke="#000" stroke-width="0.7"/>
<text x="443.1" y="540.6" font-size="8.2" text-anchor="middle" stroke="#000" stroke-width="0.2" stroke-linejoin="round">6</text>
<line x1="282.02" y1="527.90" x2="282.02" y2="529.10" stroke="#000" stroke-width="0.6"/>
<line x1="282.02" y1="450.30" x2="282.02" y2="449.10" stroke="#000" stroke-width="0.6"/>
<line x1="317.81" y1="527.90" x2="317.81" y2="529.10" stroke="#000" stroke-width="0.6"/>
<line x1="317.81" y1="450.30" x2="317.81" y2="449.10" stroke="#000" stroke-width="0.6"/>
<line x1="353.61" y1="527.90" x2="353.61" y2="529.10" stroke="#000" stroke-width="0.6"/>
<line x1="353.61" y1="450.30" x2="353.61" y2="449.10" stroke="#000" stroke-width="0.6"/>
<line x1="389.39" y1="527.90" x2="389.39" y2="529.10" stroke="#000" stroke-width="0.6"/>
<line x1="389.39" y1="450.30" x2="389.39" y2="449.10" stroke="#000" stroke-width="0.6"/>
<line x1="425.19" y1="527.90" x2="425.19" y2="529.10" stroke="#000" stroke-width="0.6"/>
<line x1="425.19" y1="450.30" x2="425.19" y2="449.10" stroke="#000" stroke-width="0.6"/>
<text x="343.7" y="552.4" font-size="10.5" text-anchor="middle" stroke="#000" stroke-width="0.2" stroke-linejoin="round">Energy (eV)</text>
<text x="228.8" y="453.4" font-size="10.5" text-anchor="middle" stroke="#000" stroke-width="0.2" stroke-linejoin="round" transform="rotate(-90 228.8 453.4)">DOS (states eV<tspan font-size="6.30" baseline-shift="3.78" stroke-width="0.13">-1</tspan>)</text>
<text x="217.2" y="379.0" font-size="12.8" font-weight="bold">h</text>
<text x="257.0" y="389.2" font-size="8.0" fill="#3a7ee8" stroke="#3a7ee8" stroke-width="0.2" stroke-linejoin="round"><tspan font-size="7.8">&#949;</tspan><tspan font-size="5.5" baseline-shift="-2.0" font-style="italic" stroke-width="0.13">p</tspan><tspan font-size="6.4" baseline-shift="3.3" stroke-width="0.13">O-RuIrFeCoCrO<tspan font-size="4.4" baseline-shift="-1.2">2</tspan></tspan> = -2.04 eV</text>
<text x="262.3" y="443.5" font-size="8.0" fill="#2ea836" stroke="#2ea836" stroke-width="0.2" stroke-linejoin="round"><tspan font-size="7.8">&#949;</tspan><tspan font-size="5.5" baseline-shift="-2.0" font-style="italic" stroke-width="0.13">p</tspan><tspan font-size="6.4" baseline-shift="3.3" stroke-width="0.13">O-RuO<tspan font-size="4.4" baseline-shift="-1.2">2</tspan></tspan> = -2.45 eV</text>
<text x="285.0" y="468.2" font-size="8.0" fill="#2ea836" stroke="#2ea836" stroke-width="0.2" stroke-linejoin="round"><tspan font-size="7.8">&#949;</tspan><tspan font-size="5.5" baseline-shift="-2.0" font-style="italic" stroke-width="0.13">d</tspan><tspan font-size="6.4" baseline-shift="3.3" stroke-width="0.13">Ru-RuO<tspan font-size="4.4" baseline-shift="-1.2">2</tspan></tspan> = -1.41 eV</text>
<text x="266.7" y="517.4" font-size="8.0" fill="#3a7ee8" stroke="#3a7ee8" stroke-width="0.2" stroke-linejoin="round"><tspan font-size="7.8">&#949;</tspan><tspan font-size="5.5" baseline-shift="-2.0" font-style="italic" stroke-width="0.13">d</tspan><tspan font-size="6.4" baseline-shift="3.3" stroke-width="0.13">Ru-RuIrFeCoCrO<tspan font-size="4.4" baseline-shift="-1.2">2</tspan></tspan> = -1.46 eV</text>
<line x1="368.20" y1="377.30" x2="382.60" y2="377.30" stroke="#2ea836" stroke-width="1.1"/>
<line x1="368.20" y1="385.70" x2="382.60" y2="385.70" stroke="#3a7ee8" stroke-width="1.1"/>
<text x="382.8" y="379.8" font-size="6.6" stroke="#000" stroke-width="0.2" stroke-linejoin="round">O 2<tspan font-style="italic">p</tspan>-RuO<tspan font-size="4.49" baseline-shift="-1.32" stroke-width="0.13">2</tspan></text>
<text x="382.8" y="388.2" font-size="6.6" stroke="#000" stroke-width="0.2" stroke-linejoin="round">O 2<tspan font-style="italic">p</tspan>-RuIrFeCoCrO<tspan font-size="4.49" baseline-shift="-1.32" stroke-width="0.13">2</tspan></text>
<line x1="364.70" y1="457.60" x2="379.00" y2="457.60" stroke="#2ea836" stroke-width="1.1"/>
<line x1="364.70" y1="465.70" x2="379.00" y2="465.70" stroke="#3a7ee8" stroke-width="1.1"/>
<text x="379.6" y="460.1" font-size="6.6" stroke="#000" stroke-width="0.2" stroke-linejoin="round">Ru 4<tspan font-style="italic">d</tspan>-RuO<tspan font-size="4.49" baseline-shift="-1.32" stroke-width="0.13">2</tspan></text>
<text x="379.6" y="468.2" font-size="6.6" stroke="#000" stroke-width="0.2" stroke-linejoin="round">Ru 4<tspan font-style="italic">d</tspan>-RuIrFeCoCrO<tspan font-size="4.49" baseline-shift="-1.32" stroke-width="0.13">2</tspan></text>
<text x="375.0" y="442.5" font-size="8" stroke="#000" stroke-width="0.2" stroke-linejoin="round">E<tspan font-size="5.44" baseline-shift="-1.60" stroke-width="0.13">f</tspan></text>
<text x="374.5" y="520.7" font-size="8" stroke="#000" stroke-width="0.2" stroke-linejoin="round">E<tspan font-size="5.44" baseline-shift="-1.60" stroke-width="0.13">f</tspan></text>
<rect x="567.3" y="447.4" width="5.5" height="31.3" fill="#aac8f0"/>
<rect x="637.3" y="409.8" width="5.5" height="35.3" fill="#b4b4b4"/>
<path d="M500.5 499.3l35 0 0 14.4 35 0 0-4.9 35 0 0 2.5 35.3 0 0-12 35 0" fill="none" stroke="#a8a8a8" stroke-width="1.1"/>
<path d="M500.5 499.3l35 0 0 1.8 35 0 0-8.5 35 0 0-4.2 35.3 0 0 10.9 35 0" fill="none" stroke="#7eaaf0" stroke-width="1.1"/>
<path d="M500.5 499.3l35 0 0-20.6 35 0 0-31.3 35 0 0-25.8 35.3 0 0-11.8 35 0" fill="none" stroke="#2f74d8" stroke-width="1.3"/>
<path d="M500.5 499.3l35 0 0-8 35 0 0-27.5 35 0 0-18.7 35.3 0 0-35.3 35 0" fill="none" stroke="#555555" stroke-width="1.2"/>
<rect x="500.50" y="371.30" width="175.25" height="155.50" fill="none" stroke="#222" stroke-width="1.0"/>
<line x1="498.30" y1="499.30" x2="500.50" y2="499.30" stroke="#000" stroke-width="0.8"/>
<text x="494.0" y="503.5" font-size="8.2" text-anchor="end" stroke="#000" stroke-width="0.2" stroke-linejoin="round">0</text>
<line x1="498.30" y1="462.90" x2="500.50" y2="462.90" stroke="#000" stroke-width="0.8"/>
<text x="494.0" y="467.1" font-size="8.2" text-anchor="end" stroke="#000" stroke-width="0.2" stroke-linejoin="round">2</text>
<line x1="498.30" y1="426.50" x2="500.50" y2="426.50" stroke="#000" stroke-width="0.8"/>
<text x="494.0" y="430.7" font-size="8.2" text-anchor="end" stroke="#000" stroke-width="0.2" stroke-linejoin="round">4</text>
<line x1="498.30" y1="390.10" x2="500.50" y2="390.10" stroke="#000" stroke-width="0.8"/>
<text x="494.0" y="394.3" font-size="8.2" text-anchor="end" stroke="#000" stroke-width="0.2" stroke-linejoin="round">6</text>
<line x1="499.20" y1="517.50" x2="500.50" y2="517.50" stroke="#000" stroke-width="0.7"/>
<line x1="499.20" y1="481.10" x2="500.50" y2="481.10" stroke="#000" stroke-width="0.7"/>
<line x1="499.20" y1="444.70" x2="500.50" y2="444.70" stroke="#000" stroke-width="0.7"/>
<line x1="499.20" y1="408.30" x2="500.50" y2="408.30" stroke="#000" stroke-width="0.7"/>
<text x="591.1" y="544.8" font-size="10.5" text-anchor="middle" stroke="#000" stroke-width="0.2" stroke-linejoin="round">Reaction path</text>
<text x="481.5" y="448.7" font-size="10.5" text-anchor="middle" stroke="#000" stroke-width="0.2" stroke-linejoin="round" transform="rotate(-90 481.5 448.7)">Free energy (eV)</text>
<text x="466.1" y="375.8" font-size="12.8" font-weight="bold">k</text>
<line x1="505.00" y1="379.30" x2="522.00" y2="379.30" stroke="#555555" stroke-width="1.2"/>
<text x="525.3" y="382.1" font-size="7.8" stroke="#000" stroke-width="0.2" stroke-linejoin="round">RuO<tspan font-size="5.30" baseline-shift="-1.56" stroke-width="0.13">2</tspan> (U=0 V)</text>
<line x1="505.00" y1="389.00" x2="522.00" y2="389.00" stroke="#2f74d8" stroke-width="1.3"/>
<text x="525.3" y="391.8" font-size="7.8" stroke="#000" stroke-width="0.2" stroke-linejoin="round">RuIrFeCoCrO<tspan font-size="5.30" baseline-shift="-1.56" stroke-width="0.13">2</tspan> (U=0 V)</text>
<line x1="505.00" y1="397.50" x2="522.00" y2="397.50" stroke="#a8a8a8" stroke-width="1.1"/>
<text x="525.3" y="400.3" font-size="7.8" stroke="#000" stroke-width="0.2" stroke-linejoin="round">RuO<tspan font-size="5.30" baseline-shift="-1.56" stroke-width="0.13">2</tspan> (U=1.23 V)</text>
<line x1="505.00" y1="407.00" x2="522.00" y2="407.00" stroke="#7eaaf0" stroke-width="1.1"/>
<text x="525.3" y="409.8" font-size="7.8" stroke="#000" stroke-width="0.2" stroke-linejoin="round">RuIrFeCoCrO<tspan font-size="5.30" baseline-shift="-1.56" stroke-width="0.13">2</tspan> (U=1.23 V)</text>
<text x="515.8" y="497.5" font-size="10" text-anchor="middle" fill="#2f74d8" stroke="#2f74d8" stroke-width="0.2" stroke-linejoin="round">*</text>
<text x="549.5" y="475.2" font-size="8.4" text-anchor="middle" fill="#2f74d8" stroke="#2f74d8" stroke-width="0.2" stroke-linejoin="round">*OH</text>
<text x="553.0" y="455.8" font-size="9.4" text-anchor="middle" fill="#2f74d8" stroke="#2f74d8" stroke-width="0.2" stroke-linejoin="round">RDS</text>
<text x="585.5" y="443.7" font-size="8.4" text-anchor="middle" fill="#2f74d8" stroke="#2f74d8" stroke-width="0.2" stroke-linejoin="round">*O</text>
<text x="623.7" y="420.7" font-size="8.4" text-anchor="middle" fill="#2f74d8" stroke="#2f74d8" stroke-width="0.2" stroke-linejoin="round">*OOH</text>
<text x="656.0" y="404.2" font-size="8.4" text-anchor="middle" fill="#2f74d8" stroke="#2f74d8" stroke-width="0.2" stroke-linejoin="round">* + O<tspan font-size="5.71" baseline-shift="-1.68" stroke-width="0.13">2</tspan></text>
<text x="656.7" y="424.0" font-size="7.9" text-anchor="middle" fill="#777" stroke="#777" stroke-width="0.2" stroke-linejoin="round">RDS</text>
<text x="658.7" y="451.0" font-size="7.9" text-anchor="middle" fill="#777" stroke="#777" stroke-width="0.2" stroke-linejoin="round">1.95 eV</text>
<text x="592.5" y="477.5" font-size="7.9" text-anchor="middle" fill="#2f74d8" stroke="#2f74d8" stroke-width="0.2" stroke-linejoin="round">1.70 eV</text>
<text x="591.0" y="504.8" font-size="7.9" text-anchor="middle" fill="#2f74d8" stroke="#2f74d8" stroke-width="0.2" stroke-linejoin="round">η = 0.35 V</text>
<text x="650.0" y="521.8" font-size="7.9" text-anchor="middle" fill="#777" stroke="#777" stroke-width="0.2" stroke-linejoin="round">η = 0.72 V</text>
<defs>
<radialGradient id="gRu" cx="0.38" cy="0.35" r="0.65"><stop offset="0" stop-color="#fbf8f4"/><stop offset="0.5" stop-color="#d9d0c8"/><stop offset="1" stop-color="#a89e96"/></radialGradient>
<radialGradient id="gO" cx="0.38" cy="0.35" r="0.65"><stop offset="0" stop-color="#ff8a8a"/><stop offset="0.45" stop-color="#ee1c24"/><stop offset="1" stop-color="#b00a10"/></radialGradient>
<radialGradient id="gH" cx="0.38" cy="0.35" r="0.65"><stop offset="0" stop-color="#ffffff"/><stop offset="1" stop-color="#e8b8b8"/></radialGradient>
<radialGradient id="gIr" cx="0.38" cy="0.35" r="0.65"><stop offset="0" stop-color="#f4f6d8"/><stop offset="0.5" stop-color="#c8cf8a"/><stop offset="1" stop-color="#8e9650"/></radialGradient>
<radialGradient id="gFe" cx="0.38" cy="0.35" r="0.65"><stop offset="0" stop-color="#f8d890"/><stop offset="0.5" stop-color="#cf9a2a"/><stop offset="1" stop-color="#8a6010"/></radialGradient>
<radialGradient id="gCo" cx="0.38" cy="0.35" r="0.65"><stop offset="0" stop-color="#8090ff"/><stop offset="0.5" stop-color="#2a2ccc"/><stop offset="1" stop-color="#101080"/></radialGradient>
<radialGradient id="gCr" cx="0.38" cy="0.35" r="0.65"><stop offset="0" stop-color="#e0a0f0"/><stop offset="0.5" stop-color="#9a3ab0"/><stop offset="1" stop-color="#5a1070"/></radialGradient>
<radialGradient id="fade" cx="0.45" cy="0.45" r="0.6"><stop offset="0.55" stop-color="#fff" stop-opacity="0"/><stop offset="1" stop-color="#fff" stop-opacity="0.95"/></radialGradient>
<marker id="ahg" markerWidth="10" markerHeight="10" refX="7" refY="4" orient="auto" markerUnits="userSpaceOnUse"><path d="M0 0 L8 4 L0 8 Z" fill="#a0a0a0"/></marker>
</defs>
<text x="0.2" y="577.7" font-size="12.8" font-weight="bold">i</text>
<circle cx="106.5" cy="684.5" r="60" fill="none" stroke="#a8a8a8" stroke-width="1.8"/>
<path d="M149.6 642.5 L145.2 632.3 L138.9 639.6Z" fill="#a4a4a4"/>
<path d="M150.7 725.4 L160.6 720.5 L153.1 714.5Z" fill="#a4a4a4"/>
<path d="M57.3 719.2 L60.1 730.0 L67.4 723.8Z" fill="#a4a4a4"/>
<path d="M67.6 638.5 L57.1 642.2 L63.9 649.0Z" fill="#a4a4a4"/>
<rect x="86.0" y="600.6" width="36" height="48" fill="#fff"/>
<g><line x1="111.8" y1="619.3" x2="126.0" y2="619.6" stroke="#e8141c" stroke-width="2.0" opacity="0.85"/><line x1="113.1" y1="628.5" x2="125.0" y2="628.5" stroke="#e8141c" stroke-width="2.0" opacity="0.85"/><line x1="116.2" y1="637.7" x2="126.0" y2="637.7" stroke="#e8141c" stroke-width="2.0" opacity="0.85"/><line x1="81.0" y1="642.5" x2="96.5" y2="642.5" stroke="#e8141c" stroke-width="2.0" opacity="0.85"/><line x1="98.5" y1="635.6" x2="98.5" y2="646.0" stroke="#e8141c" stroke-width="2.0" opacity="0.85"/><line x1="113.5" y1="633.8" x2="127.0" y2="633.6" stroke="#e8141c" stroke-width="2.0" opacity="0.85"/><line x1="105.6" y1="643.9" x2="124.0" y2="643.6" stroke="#e8141c" stroke-width="2.0" opacity="0.85"/><line x1="90.5" y1="637.6" x2="80.0" y2="637.6" stroke="#e8141c" stroke-width="2.0" opacity="0.85"/><line x1="90.8" y1="618.0" x2="83.0" y2="618.0" stroke="#e8141c" stroke-width="2.0" opacity="0.85"/><line x1="107.5" y1="638.1" x2="116.0" y2="638.1" stroke="#e8141c" stroke-width="2.0" opacity="0.85"/><line x1="100.0" y1="610.6" x2="101.0" y2="604.2" stroke="#d6cdc4" stroke-width="1.9" opacity="0.7"/><line x1="101.0" y1="604.2" x2="102.1" y2="597.9" stroke="#f0d0d0" stroke-width="1.9" opacity="0.7"/><line x1="100.0" y1="610.6" x2="95.2" y2="608.2" stroke="#d6cdc4" stroke-width="1.9" opacity="1"/><line x1="95.2" y1="608.2" x2="90.3" y2="605.8" stroke="#e8141c" stroke-width="1.9" opacity="1"/><line x1="100.0" y1="610.6" x2="102.8" y2="609.5" stroke="#d6cdc4" stroke-width="1.9" opacity="1"/><line x1="102.8" y1="609.5" x2="105.6" y2="608.4" stroke="#e8141c" stroke-width="1.9" opacity="1"/><line x1="100.0" y1="610.6" x2="105.2" y2="609.7" stroke="#d6cdc4" stroke-width="1.9" opacity="1"/><line x1="105.2" y1="609.7" x2="110.5" y2="608.8" stroke="#e8141c" stroke-width="1.9" opacity="1"/><line x1="100.0" y1="610.6" x2="101.0" y2="615.6" stroke="#d6cdc4" stroke-width="1.9" opacity="1"/><line x1="101.0" y1="615.6" x2="102.1" y2="620.6" stroke="#d6cdc4" stroke-width="1.9" opacity="1"/><line x1="102.1" y1="620.6" x2="96.4" y2="619.3" stroke="#d6cdc4" stroke-width="1.9" opacity="1"/><line x1="96.4" y1="619.3" x2="90.8" y2="618.0" stroke="#e8141c" stroke-width="1.9" opacity="1"/><line x1="102.1" y1="620.6" x2="106.9" y2="620.0" stroke="#d6cdc4" stroke-width="1.9" opacity="1"/><line x1="106.9" y1="620.0" x2="111.8" y2="619.3" stroke="#e8141c" stroke-width="1.9" opacity="1"/><line x1="102.1" y1="620.6" x2="102.3" y2="626.8" stroke="#d6cdc4" stroke-width="1.9" opacity="1"/><line x1="102.3" y1="626.8" x2="102.6" y2="632.9" stroke="#d6cdc4" stroke-width="1.9" opacity="1"/><line x1="102.6" y1="632.9" x2="97.5" y2="629.9" stroke="#d6cdc4" stroke-width="1.9" opacity="1"/><line x1="97.5" y1="629.9" x2="92.5" y2="626.8" stroke="#e8141c" stroke-width="1.9" opacity="1"/><line x1="102.6" y1="632.9" x2="100.4" y2="630.3" stroke="#d6cdc4" stroke-width="1.9" opacity="1"/><line x1="100.4" y1="630.3" x2="98.2" y2="627.7" stroke="#e8141c" stroke-width="1.9" opacity="1"/><line x1="102.6" y1="632.9" x2="107.8" y2="630.7" stroke="#d6cdc4" stroke-width="1.9" opacity="1"/><line x1="107.8" y1="630.7" x2="113.1" y2="628.5" stroke="#e8141c" stroke-width="1.9" opacity="1"/><line x1="102.6" y1="632.9" x2="98.4" y2="632.9" stroke="#d6cdc4" stroke-width="1.9" opacity="1"/><line x1="98.4" y1="632.9" x2="94.3" y2="632.9" stroke="#e8141c" stroke-width="1.9" opacity="1"/><line x1="102.6" y1="632.9" x2="108.0" y2="633.4" stroke="#d6cdc4" stroke-width="1.9" opacity="1"/><line x1="108.0" y1="633.4" x2="113.5" y2="633.8" stroke="#e8141c" stroke-width="1.9" opacity="1"/><line x1="102.6" y1="632.9" x2="99.5" y2="637.7" stroke="#d6cdc4" stroke-width="1.9" opacity="0.95"/><line x1="99.5" y1="637.7" x2="96.5" y2="642.5" stroke="#d6cdc4" stroke-width="1.9" opacity="0.95"/><line x1="102.6" y1="632.9" x2="104.1" y2="638.4" stroke="#d6cdc4" stroke-width="1.9" opacity="0.95"/><line x1="104.1" y1="638.4" x2="105.6" y2="643.9" stroke="#d6cdc4" stroke-width="1.9" opacity="0.95"/><line x1="96.5" y1="642.5" x2="97.2" y2="644.2" stroke="#d6cdc4" stroke-width="1.9" opacity="0.85"/><line x1="97.2" y1="644.2" x2="97.8" y2="646.0" stroke="#e8141c" stroke-width="1.9" opacity="0.85"/><line x1="105.6" y1="643.9" x2="110.9" y2="640.8" stroke="#d6cdc4" stroke-width="1.9" opacity="0.95"/><line x1="110.9" y1="640.8" x2="116.2" y2="637.7" stroke="#e8141c" stroke-width="1.9" opacity="0.95"/><line x1="111.8" y1="619.3" x2="119.7" y2="618.2" stroke="#e8141c" stroke-width="1.9" opacity="0.35"/><line x1="119.7" y1="618.2" x2="127.5" y2="617.1" stroke="#d6cdc4" stroke-width="1.9" opacity="0.35"/><line x1="113.1" y1="628.5" x2="118.5" y2="633.5" stroke="#e8141c" stroke-width="1.9" opacity="0.3"/><line x1="118.5" y1="633.5" x2="124.0" y2="638.6" stroke="#d6cdc4" stroke-width="1.9" opacity="0.3"/><line x1="116.2" y1="637.7" x2="120.1" y2="638.2" stroke="#e8141c" stroke-width="1.9" opacity="0.3"/><line x1="120.1" y1="638.2" x2="124.0" y2="638.6" stroke="#d6cdc4" stroke-width="1.9" opacity="0.3"/><line x1="96.5" y1="642.5" x2="91.2" y2="645.0" stroke="#d6cdc4" stroke-width="1.9" opacity="0.3"/><line x1="91.2" y1="645.0" x2="86.0" y2="647.6" stroke="#e8141c" stroke-width="1.9" opacity="0.3"/><line x1="94.3" y1="632.9" x2="96.0" y2="639.5" stroke="#e8141c" stroke-width="1.9" opacity="0.85"/><line x1="96.0" y1="639.5" x2="97.8" y2="646.0" stroke="#e8141c" stroke-width="1.9" opacity="0.85"/><circle cx="124.0" cy="638.6" r="3.4" fill="url(#gRu)" opacity="0.3"/><circle cx="86.0" cy="647.6" r="2.3" fill="url(#gO)" opacity="0.3"/><circle cx="127.5" cy="617.1" r="3.6" fill="url(#gRu)" opacity="0.35"/><circle cx="126.7" cy="623.3" r="2.3" fill="url(#gO)" opacity="0.35"/><circle cx="120.0" cy="646.6" r="2.3" fill="url(#gO)" opacity="0.35"/><circle cx="84.0" cy="622.6" r="2.3" fill="url(#gO)" opacity="0.45"/><circle cx="124.0" cy="631.6" r="2.3" fill="url(#gO)" opacity="0.45"/><circle cx="79.4" cy="632.9" r="2.4" fill="url(#gO)" opacity="0.5"/><circle cx="121.0" cy="641.6" r="2.4" fill="url(#gO)" opacity="0.6"/><circle cx="102.1" cy="597.9" r="2.3" fill="url(#gH)" opacity="0.7"/><circle cx="119.5" cy="623.6" r="2.4" fill="url(#gO)" opacity="0.75"/><circle cx="90.0" cy="646.6" r="2.4" fill="url(#gO)" opacity="0.75"/><circle cx="97.8" cy="646.0" r="2.5" fill="url(#gO)" opacity="0.85"/><circle cx="96.5" cy="642.5" r="3.6" fill="url(#gRu)" opacity="0.95"/><circle cx="105.6" cy="643.9" r="4.4" fill="url(#gRu)" opacity="0.95"/><circle cx="90.3" cy="605.8" r="2.5" fill="url(#gO)" opacity="1"/><circle cx="105.6" cy="608.4" r="2.5" fill="url(#gO)" opacity="1"/><circle cx="110.5" cy="608.8" r="2.5" fill="url(#gO)" opacity="1"/><circle cx="100.0" cy="610.6" r="4.0" fill="url(#gRu)" opacity="1"/><circle cx="90.8" cy="618.0" r="2.5" fill="url(#gO)" opacity="1"/><circle cx="111.8" cy="619.3" r="2.5" fill="url(#gO)" opacity="1"/><circle cx="102.1" cy="620.6" r="4.4" fill="url(#gRu)" opacity="1"/><circle cx="92.5" cy="626.8" r="2.5" fill="url(#gO)" opacity="1"/><circle cx="98.2" cy="627.7" r="2.5" fill="url(#gO)" opacity="1"/><circle cx="113.1" cy="628.5" r="2.5" fill="url(#gO)" opacity="1"/><circle cx="102.6" cy="632.9" r="4.4" fill="url(#gRu)" opacity="1"/><circle cx="94.3" cy="632.9" r="2.5" fill="url(#gO)" opacity="1"/><circle cx="113.5" cy="633.8" r="2.5" fill="url(#gO)" opacity="1"/><circle cx="90.5" cy="637.6" r="2.5" fill="url(#gO)" opacity="1"/><circle cx="116.2" cy="637.7" r="2.5" fill="url(#gO)" opacity="1"/><circle cx="107.5" cy="638.1" r="2.5" fill="url(#gO)" opacity="1"/></g>
<rect x="139.1" y="656.4" width="36" height="48" fill="#fff"/>
<g><line x1="164.9" y1="675.1" x2="179.1" y2="675.4" stroke="#e8141c" stroke-width="2.0" opacity="0.85"/><line x1="166.2" y1="684.3" x2="178.1" y2="684.3" stroke="#e8141c" stroke-width="2.0" opacity="0.85"/><line x1="169.3" y1="693.5" x2="179.1" y2="693.5" stroke="#e8141c" stroke-width="2.0" opacity="0.85"/><line x1="134.1" y1="698.3" x2="149.6" y2="698.3" stroke="#e8141c" stroke-width="2.0" opacity="0.85"/><line x1="151.6" y1="691.4" x2="151.6" y2="701.8" stroke="#e8141c" stroke-width="2.0" opacity="0.85"/><line x1="166.6" y1="689.6" x2="180.1" y2="689.4" stroke="#e8141c" stroke-width="2.0" opacity="0.85"/><line x1="158.7" y1="699.7" x2="177.1" y2="699.4" stroke="#e8141c" stroke-width="2.0" opacity="0.85"/><line x1="143.6" y1="693.4" x2="133.1" y2="693.4" stroke="#e8141c" stroke-width="2.0" opacity="0.85"/><line x1="143.9" y1="673.8" x2="136.1" y2="673.8" stroke="#e8141c" stroke-width="2.0" opacity="0.85"/><line x1="160.6" y1="693.9" x2="169.1" y2="693.9" stroke="#e8141c" stroke-width="2.0" opacity="0.85"/><line x1="153.1" y1="666.4" x2="154.1" y2="660.0" stroke="#d6cdc4" stroke-width="1.9" opacity="0.7"/><line x1="154.1" y1="660.0" x2="155.2" y2="653.7" stroke="#f0d0d0" stroke-width="1.9" opacity="0.7"/><line x1="153.1" y1="666.4" x2="148.2" y2="664.0" stroke="#d6cdc4" stroke-width="1.9" opacity="1"/><line x1="148.2" y1="664.0" x2="143.4" y2="661.6" stroke="#e8141c" stroke-width="1.9" opacity="1"/><line x1="153.1" y1="666.4" x2="155.9" y2="665.3" stroke="#d6cdc4" stroke-width="1.9" opacity="1"/><line x1="155.9" y1="665.3" x2="158.7" y2="664.2" stroke="#e8141c" stroke-width="1.9" opacity="1"/><line x1="153.1" y1="666.4" x2="158.3" y2="665.5" stroke="#d6cdc4" stroke-width="1.9" opacity="1"/><line x1="158.3" y1="665.5" x2="163.6" y2="664.6" stroke="#e8141c" stroke-width="1.9" opacity="1"/><line x1="153.1" y1="666.4" x2="154.1" y2="671.4" stroke="#d6cdc4" stroke-width="1.9" opacity="1"/><line x1="154.1" y1="671.4" x2="155.2" y2="676.4" stroke="#d6cdc4" stroke-width="1.9" opacity="1"/><line x1="155.2" y1="676.4" x2="149.6" y2="675.1" stroke="#d6cdc4" stroke-width="1.9" opacity="1"/><line x1="149.6" y1="675.1" x2="143.9" y2="673.8" stroke="#e8141c" stroke-width="1.9" opacity="1"/><line x1="155.2" y1="676.4" x2="160.1" y2="675.8" stroke="#d6cdc4" stroke-width="1.9" opacity="1"/><line x1="160.1" y1="675.8" x2="164.9" y2="675.1" stroke="#e8141c" stroke-width="1.9" opacity="1"/><line x1="155.2" y1="676.4" x2="155.4" y2="682.5" stroke="#d6cdc4" stroke-width="1.9" opacity="1"/><line x1="155.4" y1="682.5" x2="155.7" y2="688.7" stroke="#d6cdc4" stroke-width="1.9" opacity="1"/><line x1="155.7" y1="688.7" x2="150.6" y2="685.6" stroke="#d6cdc4" stroke-width="1.9" opacity="1"/><line x1="150.6" y1="685.6" x2="145.6" y2="682.6" stroke="#e8141c" stroke-width="1.9" opacity="1"/><line x1="155.7" y1="688.7" x2="153.5" y2="686.1" stroke="#d6cdc4" stroke-width="1.9" opacity="1"/><line x1="153.5" y1="686.1" x2="151.3" y2="683.5" stroke="#e8141c" stroke-width="1.9" opacity="1"/><line x1="155.7" y1="688.7" x2="160.9" y2="686.5" stroke="#d6cdc4" stroke-width="1.9" opacity="1"/><line x1="160.9" y1="686.5" x2="166.2" y2="684.3" stroke="#e8141c" stroke-width="1.9" opacity="1"/><line x1="155.7" y1="688.7" x2="151.6" y2="688.7" stroke="#d6cdc4" stroke-width="1.9" opacity="1"/><line x1="151.6" y1="688.7" x2="147.4" y2="688.7" stroke="#e8141c" stroke-width="1.9" opacity="1"/><line x1="155.7" y1="688.7" x2="161.1" y2="689.1" stroke="#d6cdc4" stroke-width="1.9" opacity="1"/><line x1="161.1" y1="689.1" x2="166.6" y2="689.6" stroke="#e8141c" stroke-width="1.9" opacity="1"/><line x1="155.7" y1="688.7" x2="152.6" y2="693.5" stroke="#d6cdc4" stroke-width="1.9" opacity="0.95"/><line x1="152.6" y1="693.5" x2="149.6" y2="698.3" stroke="#d6cdc4" stroke-width="1.9" opacity="0.95"/><line x1="155.7" y1="688.7" x2="157.2" y2="694.2" stroke="#d6cdc4" stroke-width="1.9" opacity="0.95"/><line x1="157.2" y1="694.2" x2="158.7" y2="699.7" stroke="#d6cdc4" stroke-width="1.9" opacity="0.95"/><line x1="149.6" y1="698.3" x2="150.2" y2="700.0" stroke="#d6cdc4" stroke-width="1.9" opacity="0.85"/><line x1="150.2" y1="700.0" x2="150.9" y2="701.8" stroke="#e8141c" stroke-width="1.9" opacity="0.85"/><line x1="158.7" y1="699.7" x2="164.0" y2="696.6" stroke="#d6cdc4" stroke-width="1.9" opacity="0.95"/><line x1="164.0" y1="696.6" x2="169.3" y2="693.5" stroke="#e8141c" stroke-width="1.9" opacity="0.95"/><line x1="164.9" y1="675.1" x2="172.8" y2="674.0" stroke="#e8141c" stroke-width="1.9" opacity="0.35"/><line x1="172.8" y1="674.0" x2="180.6" y2="672.9" stroke="#d6cdc4" stroke-width="1.9" opacity="0.35"/><line x1="166.2" y1="684.3" x2="171.6" y2="689.3" stroke="#e8141c" stroke-width="1.9" opacity="0.3"/><line x1="171.6" y1="689.3" x2="177.1" y2="694.4" stroke="#d6cdc4" stroke-width="1.9" opacity="0.3"/><line x1="169.3" y1="693.5" x2="173.2" y2="694.0" stroke="#e8141c" stroke-width="1.9" opacity="0.3"/><line x1="173.2" y1="694.0" x2="177.1" y2="694.4" stroke="#d6cdc4" stroke-width="1.9" opacity="0.3"/><line x1="149.6" y1="698.3" x2="144.3" y2="700.8" stroke="#d6cdc4" stroke-width="1.9" opacity="0.3"/><line x1="144.3" y1="700.8" x2="139.1" y2="703.4" stroke="#e8141c" stroke-width="1.9" opacity="0.3"/><line x1="147.4" y1="688.7" x2="149.2" y2="695.2" stroke="#e8141c" stroke-width="1.9" opacity="0.85"/><line x1="149.2" y1="695.2" x2="150.9" y2="701.8" stroke="#e8141c" stroke-width="1.9" opacity="0.85"/><circle cx="177.1" cy="694.4" r="3.4" fill="url(#gRu)" opacity="0.3"/><circle cx="139.1" cy="703.4" r="2.3" fill="url(#gO)" opacity="0.3"/><circle cx="180.6" cy="672.9" r="3.6" fill="url(#gRu)" opacity="0.35"/><circle cx="179.8" cy="679.1" r="2.3" fill="url(#gO)" opacity="0.35"/><circle cx="173.1" cy="702.4" r="2.3" fill="url(#gO)" opacity="0.35"/><circle cx="137.1" cy="678.4" r="2.3" fill="url(#gO)" opacity="0.45"/><circle cx="177.1" cy="687.4" r="2.3" fill="url(#gO)" opacity="0.45"/><circle cx="132.5" cy="688.7" r="2.4" fill="url(#gO)" opacity="0.5"/><circle cx="174.1" cy="697.4" r="2.4" fill="url(#gO)" opacity="0.6"/><circle cx="155.2" cy="653.7" r="2.3" fill="url(#gH)" opacity="0.7"/><circle cx="172.6" cy="679.4" r="2.4" fill="url(#gO)" opacity="0.75"/><circle cx="143.1" cy="702.4" r="2.4" fill="url(#gO)" opacity="0.75"/><circle cx="150.9" cy="701.8" r="2.5" fill="url(#gO)" opacity="0.85"/><circle cx="149.6" cy="698.3" r="3.6" fill="url(#gRu)" opacity="0.95"/><circle cx="158.7" cy="699.7" r="4.4" fill="url(#gRu)" opacity="0.95"/><circle cx="143.4" cy="661.6" r="2.5" fill="url(#gO)" opacity="1"/><circle cx="158.7" cy="664.2" r="2.5" fill="url(#gO)" opacity="1"/><circle cx="163.6" cy="664.6" r="2.5" fill="url(#gO)" opacity="1"/><circle cx="153.1" cy="666.4" r="4.0" fill="url(#gRu)" opacity="1"/><circle cx="143.9" cy="673.8" r="2.5" fill="url(#gO)" opacity="1"/><circle cx="164.9" cy="675.1" r="2.5" fill="url(#gO)" opacity="1"/><circle cx="155.2" cy="676.4" r="4.4" fill="url(#gRu)" opacity="1"/><circle cx="145.6" cy="682.6" r="2.5" fill="url(#gO)" opacity="1"/><circle cx="151.3" cy="683.5" r="2.5" fill="url(#gO)" opacity="1"/><circle cx="166.2" cy="684.3" r="2.5" fill="url(#gO)" opacity="1"/><circle cx="155.7" cy="688.7" r="4.4" fill="url(#gRu)" opacity="1"/><circle cx="147.4" cy="688.7" r="2.5" fill="url(#gO)" opacity="1"/><circle cx="166.6" cy="689.6" r="2.5" fill="url(#gO)" opacity="1"/><circle cx="143.6" cy="693.4" r="2.5" fill="url(#gO)" opacity="1"/><circle cx="169.3" cy="693.5" r="2.5" fill="url(#gO)" opacity="1"/><circle cx="160.6" cy="693.9" r="2.5" fill="url(#gO)" opacity="1"/></g>
<rect x="86.5" y="710.5" width="36" height="48" fill="#fff"/>
<g><line x1="112.3" y1="729.2" x2="126.5" y2="729.5" stroke="#e8141c" stroke-width="2.0" opacity="0.85"/><line x1="113.6" y1="738.4" x2="125.5" y2="738.4" stroke="#e8141c" stroke-width="2.0" opacity="0.85"/><line x1="116.7" y1="747.6" x2="126.5" y2="747.6" stroke="#e8141c" stroke-width="2.0" opacity="0.85"/><line x1="81.5" y1="752.4" x2="97.0" y2="752.4" stroke="#e8141c" stroke-width="2.0" opacity="0.85"/><line x1="99.0" y1="745.5" x2="99.0" y2="755.9" stroke="#e8141c" stroke-width="2.0" opacity="0.85"/><line x1="114.0" y1="743.7" x2="127.5" y2="743.5" stroke="#e8141c" stroke-width="2.0" opacity="0.85"/><line x1="106.1" y1="753.8" x2="124.5" y2="753.5" stroke="#e8141c" stroke-width="2.0" opacity="0.85"/><line x1="91.0" y1="747.5" x2="80.5" y2="747.5" stroke="#e8141c" stroke-width="2.0" opacity="0.85"/><line x1="91.3" y1="727.9" x2="83.5" y2="727.9" stroke="#e8141c" stroke-width="2.0" opacity="0.85"/><line x1="108.0" y1="748.0" x2="116.5" y2="748.0" stroke="#e8141c" stroke-width="2.0" opacity="0.85"/><line x1="100.5" y1="720.5" x2="101.5" y2="714.1" stroke="#d6cdc4" stroke-width="1.9" opacity="0.7"/><line x1="101.5" y1="714.1" x2="102.6" y2="707.8" stroke="#f0d0d0" stroke-width="1.9" opacity="0.7"/><line x1="100.5" y1="720.5" x2="95.7" y2="718.1" stroke="#d6cdc4" stroke-width="1.9" opacity="1"/><line x1="95.7" y1="718.1" x2="90.8" y2="715.7" stroke="#e8141c" stroke-width="1.9" opacity="1"/><line x1="100.5" y1="720.5" x2="103.3" y2="719.4" stroke="#d6cdc4" stroke-width="1.9" opacity="1"/><line x1="103.3" y1="719.4" x2="106.1" y2="718.3" stroke="#e8141c" stroke-width="1.9" opacity="1"/><line x1="100.5" y1="720.5" x2="105.8" y2="719.6" stroke="#d6cdc4" stroke-width="1.9" opacity="1"/><line x1="105.8" y1="719.6" x2="111.0" y2="718.7" stroke="#e8141c" stroke-width="1.9" opacity="1"/><line x1="100.5" y1="720.5" x2="101.5" y2="725.5" stroke="#d6cdc4" stroke-width="1.9" opacity="1"/><line x1="101.5" y1="725.5" x2="102.6" y2="730.5" stroke="#d6cdc4" stroke-width="1.9" opacity="1"/><line x1="102.6" y1="730.5" x2="96.9" y2="729.2" stroke="#d6cdc4" stroke-width="1.9" opacity="1"/><line x1="96.9" y1="729.2" x2="91.3" y2="727.9" stroke="#e8141c" stroke-width="1.9" opacity="1"/><line x1="102.6" y1="730.5" x2="107.4" y2="729.9" stroke="#d6cdc4" stroke-width="1.9" opacity="1"/><line x1="107.4" y1="729.9" x2="112.3" y2="729.2" stroke="#e8141c" stroke-width="1.9" opacity="1"/><line x1="102.6" y1="730.5" x2="102.8" y2="736.6" stroke="#d6cdc4" stroke-width="1.9" opacity="1"/><line x1="102.8" y1="736.6" x2="103.1" y2="742.8" stroke="#d6cdc4" stroke-width="1.9" opacity="1"/><line x1="103.1" y1="742.8" x2="98.0" y2="739.8" stroke="#d6cdc4" stroke-width="1.9" opacity="1"/><line x1="98.0" y1="739.8" x2="93.0" y2="736.7" stroke="#e8141c" stroke-width="1.9" opacity="1"/><line x1="103.1" y1="742.8" x2="100.9" y2="740.2" stroke="#d6cdc4" stroke-width="1.9" opacity="1"/><line x1="100.9" y1="740.2" x2="98.7" y2="737.6" stroke="#e8141c" stroke-width="1.9" opacity="1"/><line x1="103.1" y1="742.8" x2="108.3" y2="740.6" stroke="#d6cdc4" stroke-width="1.9" opacity="1"/><line x1="108.3" y1="740.6" x2="113.6" y2="738.4" stroke="#e8141c" stroke-width="1.9" opacity="1"/><line x1="103.1" y1="742.8" x2="98.9" y2="742.8" stroke="#d6cdc4" stroke-width="1.9" opacity="1"/><line x1="98.9" y1="742.8" x2="94.8" y2="742.8" stroke="#e8141c" stroke-width="1.9" opacity="1"/><line x1="103.1" y1="742.8" x2="108.5" y2="743.2" stroke="#d6cdc4" stroke-width="1.9" opacity="1"/><line x1="108.5" y1="743.2" x2="114.0" y2="743.7" stroke="#e8141c" stroke-width="1.9" opacity="1"/><line x1="103.1" y1="742.8" x2="100.0" y2="747.6" stroke="#d6cdc4" stroke-width="1.9" opacity="0.95"/><line x1="100.0" y1="747.6" x2="97.0" y2="752.4" stroke="#d6cdc4" stroke-width="1.9" opacity="0.95"/><line x1="103.1" y1="742.8" x2="104.6" y2="748.3" stroke="#d6cdc4" stroke-width="1.9" opacity="0.95"/><line x1="104.6" y1="748.3" x2="106.1" y2="753.8" stroke="#d6cdc4" stroke-width="1.9" opacity="0.95"/><line x1="97.0" y1="752.4" x2="97.7" y2="754.1" stroke="#d6cdc4" stroke-width="1.9" opacity="0.85"/><line x1="97.7" y1="754.1" x2="98.3" y2="755.9" stroke="#e8141c" stroke-width="1.9" opacity="0.85"/><line x1="106.1" y1="753.8" x2="111.4" y2="750.7" stroke="#d6cdc4" stroke-width="1.9" opacity="0.95"/><line x1="111.4" y1="750.7" x2="116.7" y2="747.6" stroke="#e8141c" stroke-width="1.9" opacity="0.95"/><line x1="112.3" y1="729.2" x2="120.2" y2="728.1" stroke="#e8141c" stroke-width="1.9" opacity="0.35"/><line x1="120.2" y1="728.1" x2="128.0" y2="727.0" stroke="#d6cdc4" stroke-width="1.9" opacity="0.35"/><line x1="113.6" y1="738.4" x2="119.0" y2="743.5" stroke="#e8141c" stroke-width="1.9" opacity="0.3"/><line x1="119.0" y1="743.5" x2="124.5" y2="748.5" stroke="#d6cdc4" stroke-width="1.9" opacity="0.3"/><line x1="116.7" y1="747.6" x2="120.6" y2="748.0" stroke="#e8141c" stroke-width="1.9" opacity="0.3"/><line x1="120.6" y1="748.0" x2="124.5" y2="748.5" stroke="#d6cdc4" stroke-width="1.9" opacity="0.3"/><line x1="97.0" y1="752.4" x2="91.8" y2="755.0" stroke="#d6cdc4" stroke-width="1.9" opacity="0.3"/><line x1="91.8" y1="755.0" x2="86.5" y2="757.5" stroke="#e8141c" stroke-width="1.9" opacity="0.3"/><line x1="94.8" y1="742.8" x2="96.5" y2="749.3" stroke="#e8141c" stroke-width="1.9" opacity="0.85"/><line x1="96.5" y1="749.3" x2="98.3" y2="755.9" stroke="#e8141c" stroke-width="1.9" opacity="0.85"/><circle cx="124.5" cy="748.5" r="3.4" fill="url(#gRu)" opacity="0.3"/><circle cx="86.5" cy="757.5" r="2.3" fill="url(#gO)" opacity="0.3"/><circle cx="128.0" cy="727.0" r="3.6" fill="url(#gRu)" opacity="0.35"/><circle cx="127.2" cy="733.2" r="2.3" fill="url(#gO)" opacity="0.35"/><circle cx="120.5" cy="756.5" r="2.3" fill="url(#gO)" opacity="0.35"/><circle cx="84.5" cy="732.5" r="2.3" fill="url(#gO)" opacity="0.45"/><circle cx="124.5" cy="741.5" r="2.3" fill="url(#gO)" opacity="0.45"/><circle cx="79.9" cy="742.8" r="2.4" fill="url(#gO)" opacity="0.5"/><circle cx="121.5" cy="751.5" r="2.4" fill="url(#gO)" opacity="0.6"/><circle cx="102.6" cy="707.8" r="2.3" fill="url(#gH)" opacity="0.7"/><circle cx="120.0" cy="733.5" r="2.4" fill="url(#gO)" opacity="0.75"/><circle cx="90.5" cy="756.5" r="2.4" fill="url(#gO)" opacity="0.75"/><circle cx="98.3" cy="755.9" r="2.5" fill="url(#gO)" opacity="0.85"/><circle cx="97.0" cy="752.4" r="3.6" fill="url(#gRu)" opacity="0.95"/><circle cx="106.1" cy="753.8" r="4.4" fill="url(#gRu)" opacity="0.95"/><circle cx="90.8" cy="715.7" r="2.5" fill="url(#gO)" opacity="1"/><circle cx="106.1" cy="718.3" r="2.5" fill="url(#gO)" opacity="1"/><circle cx="111.0" cy="718.7" r="2.5" fill="url(#gO)" opacity="1"/><circle cx="100.5" cy="720.5" r="4.0" fill="url(#gRu)" opacity="1"/><circle cx="91.3" cy="727.9" r="2.5" fill="url(#gO)" opacity="1"/><circle cx="112.3" cy="729.2" r="2.5" fill="url(#gO)" opacity="1"/><circle cx="102.6" cy="730.5" r="4.4" fill="url(#gRu)" opacity="1"/><circle cx="93.0" cy="736.7" r="2.5" fill="url(#gO)" opacity="1"/><circle cx="98.7" cy="737.6" r="2.5" fill="url(#gO)" opacity="1"/><circle cx="113.6" cy="738.4" r="2.5" fill="url(#gO)" opacity="1"/><circle cx="103.1" cy="742.8" r="4.4" fill="url(#gRu)" opacity="1"/><circle cx="94.8" cy="742.8" r="2.5" fill="url(#gO)" opacity="1"/><circle cx="114.0" cy="743.7" r="2.5" fill="url(#gO)" opacity="1"/><circle cx="91.0" cy="747.5" r="2.5" fill="url(#gO)" opacity="1"/><circle cx="116.7" cy="747.6" r="2.5" fill="url(#gO)" opacity="1"/><circle cx="108.0" cy="748.0" r="2.5" fill="url(#gO)" opacity="1"/></g>
<rect x="20.5" y="658.9" width="36" height="48" fill="#fff"/>
<g><line x1="46.3" y1="677.6" x2="60.5" y2="677.9" stroke="#e8141c" stroke-width="2.0" opacity="0.85"/><line x1="47.6" y1="686.8" x2="59.5" y2="686.8" stroke="#e8141c" stroke-width="2.0" opacity="0.85"/><line x1="50.7" y1="696.0" x2="60.5" y2="696.0" stroke="#e8141c" stroke-width="2.0" opacity="0.85"/><line x1="15.5" y1="700.8" x2="31.0" y2="700.8" stroke="#e8141c" stroke-width="2.0" opacity="0.85"/><line x1="33.0" y1="693.9" x2="33.0" y2="704.3" stroke="#e8141c" stroke-width="2.0" opacity="0.85"/><line x1="48.0" y1="692.1" x2="61.5" y2="691.9" stroke="#e8141c" stroke-width="2.0" opacity="0.85"/><line x1="40.1" y1="702.2" x2="58.5" y2="701.9" stroke="#e8141c" stroke-width="2.0" opacity="0.85"/><line x1="25.0" y1="695.9" x2="14.5" y2="695.9" stroke="#e8141c" stroke-width="2.0" opacity="0.85"/><line x1="25.3" y1="676.3" x2="17.5" y2="676.3" stroke="#e8141c" stroke-width="2.0" opacity="0.85"/><line x1="42.0" y1="696.4" x2="50.5" y2="696.4" stroke="#e8141c" stroke-width="2.0" opacity="0.85"/><line x1="34.5" y1="668.9" x2="35.5" y2="662.5" stroke="#d6cdc4" stroke-width="1.9" opacity="0.7"/><line x1="35.5" y1="662.5" x2="36.6" y2="656.2" stroke="#f0d0d0" stroke-width="1.9" opacity="0.7"/><line x1="34.5" y1="668.9" x2="29.6" y2="666.5" stroke="#d6cdc4" stroke-width="1.9" opacity="1"/><line x1="29.6" y1="666.5" x2="24.8" y2="664.1" stroke="#e8141c" stroke-width="1.9" opacity="1"/><line x1="34.5" y1="668.9" x2="37.3" y2="667.8" stroke="#d6cdc4" stroke-width="1.9" opacity="1"/><line x1="37.3" y1="667.8" x2="40.1" y2="666.7" stroke="#e8141c" stroke-width="1.9" opacity="1"/><line x1="34.5" y1="668.9" x2="39.8" y2="668.0" stroke="#d6cdc4" stroke-width="1.9" opacity="1"/><line x1="39.8" y1="668.0" x2="45.0" y2="667.1" stroke="#e8141c" stroke-width="1.9" opacity="1"/><line x1="34.5" y1="668.9" x2="35.5" y2="673.9" stroke="#d6cdc4" stroke-width="1.9" opacity="1"/><line x1="35.5" y1="673.9" x2="36.6" y2="678.9" stroke="#d6cdc4" stroke-width="1.9" opacity="1"/><line x1="36.6" y1="678.9" x2="31.0" y2="677.6" stroke="#d6cdc4" stroke-width="1.9" opacity="1"/><line x1="31.0" y1="677.6" x2="25.3" y2="676.3" stroke="#e8141c" stroke-width="1.9" opacity="1"/><line x1="36.6" y1="678.9" x2="41.5" y2="678.2" stroke="#d6cdc4" stroke-width="1.9" opacity="1"/><line x1="41.5" y1="678.2" x2="46.3" y2="677.6" stroke="#e8141c" stroke-width="1.9" opacity="1"/><line x1="36.6" y1="678.9" x2="36.9" y2="685.0" stroke="#d6cdc4" stroke-width="1.9" opacity="1"/><line x1="36.9" y1="685.0" x2="37.1" y2="691.2" stroke="#d6cdc4" stroke-width="1.9" opacity="1"/><line x1="37.1" y1="691.2" x2="32.0" y2="688.1" stroke="#d6cdc4" stroke-width="1.9" opacity="1"/><line x1="32.0" y1="688.1" x2="27.0" y2="685.1" stroke="#e8141c" stroke-width="1.9" opacity="1"/><line x1="37.1" y1="691.2" x2="34.9" y2="688.6" stroke="#d6cdc4" stroke-width="1.9" opacity="1"/><line x1="34.9" y1="688.6" x2="32.7" y2="686.0" stroke="#e8141c" stroke-width="1.9" opacity="1"/><line x1="37.1" y1="691.2" x2="42.4" y2="689.0" stroke="#d6cdc4" stroke-width="1.9" opacity="1"/><line x1="42.4" y1="689.0" x2="47.6" y2="686.8" stroke="#e8141c" stroke-width="1.9" opacity="1"/><line x1="37.1" y1="691.2" x2="33.0" y2="691.2" stroke="#d6cdc4" stroke-width="1.9" opacity="1"/><line x1="33.0" y1="691.2" x2="28.8" y2="691.2" stroke="#e8141c" stroke-width="1.9" opacity="1"/><line x1="37.1" y1="691.2" x2="42.5" y2="691.6" stroke="#d6cdc4" stroke-width="1.9" opacity="1"/><line x1="42.5" y1="691.6" x2="48.0" y2="692.1" stroke="#e8141c" stroke-width="1.9" opacity="1"/><line x1="37.1" y1="691.2" x2="34.0" y2="696.0" stroke="#d6cdc4" stroke-width="1.9" opacity="0.95"/><line x1="34.0" y1="696.0" x2="31.0" y2="700.8" stroke="#d6cdc4" stroke-width="1.9" opacity="0.95"/><line x1="37.1" y1="691.2" x2="38.6" y2="696.7" stroke="#d6cdc4" stroke-width="1.9" opacity="0.95"/><line x1="38.6" y1="696.7" x2="40.1" y2="702.2" stroke="#d6cdc4" stroke-width="1.9" opacity="0.95"/><line x1="31.0" y1="700.8" x2="31.6" y2="702.5" stroke="#d6cdc4" stroke-width="1.9" opacity="0.85"/><line x1="31.6" y1="702.5" x2="32.3" y2="704.3" stroke="#e8141c" stroke-width="1.9" opacity="0.85"/><line x1="40.1" y1="702.2" x2="45.4" y2="699.1" stroke="#d6cdc4" stroke-width="1.9" opacity="0.95"/><line x1="45.4" y1="699.1" x2="50.7" y2="696.0" stroke="#e8141c" stroke-width="1.9" opacity="0.95"/><line x1="46.3" y1="677.6" x2="54.1" y2="676.5" stroke="#e8141c" stroke-width="1.9" opacity="0.35"/><line x1="54.1" y1="676.5" x2="62.0" y2="675.4" stroke="#d6cdc4" stroke-width="1.9" opacity="0.35"/><line x1="47.6" y1="686.8" x2="53.0" y2="691.8" stroke="#e8141c" stroke-width="1.9" opacity="0.3"/><line x1="53.0" y1="691.8" x2="58.5" y2="696.9" stroke="#d6cdc4" stroke-width="1.9" opacity="0.3"/><line x1="50.7" y1="696.0" x2="54.6" y2="696.5" stroke="#e8141c" stroke-width="1.9" opacity="0.3"/><line x1="54.6" y1="696.5" x2="58.5" y2="696.9" stroke="#d6cdc4" stroke-width="1.9" opacity="0.3"/><line x1="31.0" y1="700.8" x2="25.8" y2="703.3" stroke="#d6cdc4" stroke-width="1.9" opacity="0.3"/><line x1="25.8" y1="703.3" x2="20.5" y2="705.9" stroke="#e8141c" stroke-width="1.9" opacity="0.3"/><line x1="28.8" y1="691.2" x2="30.5" y2="697.8" stroke="#e8141c" stroke-width="1.9" opacity="0.85"/><line x1="30.5" y1="697.8" x2="32.3" y2="704.3" stroke="#e8141c" stroke-width="1.9" opacity="0.85"/><circle cx="58.5" cy="696.9" r="3.4" fill="url(#gRu)" opacity="0.3"/><circle cx="20.5" cy="705.9" r="2.3" fill="url(#gO)" opacity="0.3"/><circle cx="62.0" cy="675.4" r="3.6" fill="url(#gRu)" opacity="0.35"/><circle cx="61.2" cy="681.6" r="2.3" fill="url(#gO)" opacity="0.35"/><circle cx="54.5" cy="704.9" r="2.3" fill="url(#gO)" opacity="0.35"/><circle cx="18.5" cy="680.9" r="2.3" fill="url(#gO)" opacity="0.45"/><circle cx="58.5" cy="689.9" r="2.3" fill="url(#gO)" opacity="0.45"/><circle cx="13.9" cy="691.2" r="2.4" fill="url(#gO)" opacity="0.5"/><circle cx="55.5" cy="699.9" r="2.4" fill="url(#gO)" opacity="0.6"/><circle cx="36.6" cy="656.2" r="2.3" fill="url(#gH)" opacity="0.7"/><circle cx="54.0" cy="681.9" r="2.4" fill="url(#gO)" opacity="0.75"/><circle cx="24.5" cy="704.9" r="2.4" fill="url(#gO)" opacity="0.75"/><circle cx="32.3" cy="704.3" r="2.5" fill="url(#gO)" opacity="0.85"/><circle cx="31.0" cy="700.8" r="3.6" fill="url(#gRu)" opacity="0.95"/><circle cx="40.1" cy="702.2" r="4.4" fill="url(#gRu)" opacity="0.95"/><circle cx="24.8" cy="664.1" r="2.5" fill="url(#gO)" opacity="1"/><circle cx="40.1" cy="666.7" r="2.5" fill="url(#gO)" opacity="1"/><circle cx="45.0" cy="667.1" r="2.5" fill="url(#gO)" opacity="1"/><circle cx="34.5" cy="668.9" r="4.0" fill="url(#gRu)" opacity="1"/><circle cx="25.3" cy="676.3" r="2.5" fill="url(#gO)" opacity="1"/><circle cx="46.3" cy="677.6" r="2.5" fill="url(#gO)" opacity="1"/><circle cx="36.6" cy="678.9" r="4.4" fill="url(#gRu)" opacity="1"/><circle cx="27.0" cy="685.1" r="2.5" fill="url(#gO)" opacity="1"/><circle cx="32.7" cy="686.0" r="2.5" fill="url(#gO)" opacity="1"/><circle cx="47.6" cy="686.8" r="2.5" fill="url(#gO)" opacity="1"/><circle cx="37.1" cy="691.2" r="4.4" fill="url(#gRu)" opacity="1"/><circle cx="28.8" cy="691.2" r="2.5" fill="url(#gO)" opacity="1"/><circle cx="48.0" cy="692.1" r="2.5" fill="url(#gO)" opacity="1"/><circle cx="25.0" cy="695.9" r="2.5" fill="url(#gO)" opacity="1"/><circle cx="50.7" cy="696.0" r="2.5" fill="url(#gO)" opacity="1"/><circle cx="42.0" cy="696.4" r="2.5" fill="url(#gO)" opacity="1"/></g>
<text x="102.3" y="592.3" font-size="10.5" text-anchor="middle" stroke="#000" stroke-width="0.2" stroke-linejoin="round">RuO<tspan font-size="7.14" baseline-shift="-2.10" stroke-width="0.13">2</tspan></text>
<text x="25.8" y="652.4" font-size="10.5" text-anchor="middle" stroke="#000" stroke-width="0.2" stroke-linejoin="round">-OOH<tspan font-size="6.5" baseline-shift="5.2" dx="0.5" stroke-width="0.1">•</tspan></text>
<text x="173.6" y="653.3" font-size="10.5" text-anchor="middle" stroke="#000" stroke-width="0.2" stroke-linejoin="round">-OH<tspan font-size="6.5" baseline-shift="5.2" dx="0.5" stroke-width="0.1">•</tspan></text>
<text x="103.6" y="690.6" font-size="10.5" text-anchor="middle" stroke="#000" stroke-width="0.2" stroke-linejoin="round">LOM</text>
<text x="104.5" y="777.5" font-size="10.5" text-anchor="middle" stroke="#000" stroke-width="0.2" stroke-linejoin="round">-O<tspan font-size="6.5" baseline-shift="5.2" dx="0.5" stroke-width="0.1">•</tspan></text>
<text x="225.5" y="577.7" font-size="12.8" font-weight="bold">j</text>
<circle cx="312.5" cy="684.5" r="59" fill="none" stroke="#a8a8a8" stroke-width="1.8"/>
<path d="M357.8 646.3 L354.1 635.9 L347.3 642.6Z" fill="#a4a4a4"/>
<path d="M353.0 727.7 L363.3 723.5 L356.1 717.1Z" fill="#a4a4a4"/>
<path d="M264.1 718.6 L266.8 729.3 L274.2 723.2Z" fill="#a4a4a4"/>
<path d="M274.3 639.2 L263.9 642.9 L270.6 649.7Z" fill="#a4a4a4"/>
<rect x="288.7" y="598.2" width="50" height="44" fill="#fff"/>
<g><line x1="296.9" y1="619.3" x2="338.1" y2="619.3" stroke="#e8141c" stroke-width="1.9" opacity="0.85"/><line x1="310.7" y1="625.2" x2="331.2" y2="625.2" stroke="#e8141c" stroke-width="1.9" opacity="0.85"/><line x1="317.8" y1="630.2" x2="317.8" y2="639.9" stroke="#e8141c" stroke-width="1.9" opacity="0.6"/><line x1="325.3" y1="625.1" x2="325.3" y2="636.0" stroke="#e8141c" stroke-width="1.9" opacity="0.6"/><line x1="308.7" y1="631.1" x2="308.7" y2="638.0" stroke="#cdd48e" stroke-width="1.9" opacity="0.8"/><line x1="295.0" y1="619.3" x2="305.8" y2="619.3" stroke="#d0a030" stroke-width="1.9" opacity="0.8"/><line x1="326.3" y1="622.3" x2="335.2" y2="621.3" stroke="#3030c8" stroke-width="1.9" opacity="0.6"/><line x1="293.0" y1="631.1" x2="329.3" y2="632.1" stroke="#e8141c" stroke-width="1.9" opacity="0.6"/><line x1="313.6" y1="637.0" x2="329.3" y2="635.0" stroke="#e8141c" stroke-width="1.9" opacity="0.6"/><line x1="329.0" y1="634.7" x2="329.0" y2="641.9" stroke="#e8141c" stroke-width="1.9" opacity="0.45"/><line x1="321.9" y1="639.4" x2="321.9" y2="645.8" stroke="#e8141c" stroke-width="1.9" opacity="0.35"/><line x1="294.9" y1="613.7" x2="296.9" y2="606.5" stroke="#d0a030" stroke-width="1.9" opacity="1"/><line x1="296.9" y1="606.5" x2="298.9" y2="599.3" stroke="#e8141c" stroke-width="1.9" opacity="1"/><line x1="294.9" y1="613.7" x2="292.9" y2="609.3" stroke="#d0a030" stroke-width="1.9" opacity="0.45"/><line x1="292.9" y1="609.3" x2="291.0" y2="605.0" stroke="#e8141c" stroke-width="1.9" opacity="0.45"/><line x1="294.9" y1="613.7" x2="298.1" y2="613.4" stroke="#d0a030" stroke-width="1.9" opacity="1"/><line x1="298.1" y1="613.4" x2="301.3" y2="613.1" stroke="#e8141c" stroke-width="1.9" opacity="1"/><line x1="316.6" y1="619.3" x2="316.3" y2="611.1" stroke="#d6cdc4" stroke-width="1.9" opacity="1"/><line x1="316.3" y1="611.1" x2="316.1" y2="602.8" stroke="#e8141c" stroke-width="1.9" opacity="1"/><line x1="324.7" y1="615.9" x2="324.4" y2="608.2" stroke="#3030c8" stroke-width="1.9" opacity="1"/><line x1="324.4" y1="608.2" x2="324.1" y2="600.5" stroke="#e8141c" stroke-width="1.9" opacity="1"/><line x1="333.3" y1="611.9" x2="333.3" y2="603.6" stroke="#d6cdc4" stroke-width="1.9" opacity="1"/><line x1="333.3" y1="603.6" x2="333.3" y2="595.3" stroke="#e8141c" stroke-width="1.9" opacity="1"/><line x1="308.7" y1="626.2" x2="308.1" y2="617.1" stroke="#cdd48e" stroke-width="1.9" opacity="1"/><line x1="308.1" y1="617.1" x2="307.5" y2="608.0" stroke="#e8141c" stroke-width="1.9" opacity="1"/><line x1="308.7" y1="626.2" x2="304.1" y2="625.4" stroke="#cdd48e" stroke-width="1.9" opacity="0.6"/><line x1="304.1" y1="625.4" x2="299.5" y2="624.5" stroke="#e8141c" stroke-width="1.9" opacity="0.6"/><line x1="308.7" y1="626.2" x2="313.3" y2="628.2" stroke="#cdd48e" stroke-width="1.9" opacity="1"/><line x1="313.3" y1="628.2" x2="317.8" y2="630.2" stroke="#e8141c" stroke-width="1.9" opacity="1"/><line x1="324.7" y1="615.9" x2="325.0" y2="620.5" stroke="#3030c8" stroke-width="1.9" opacity="1"/><line x1="325.0" y1="620.5" x2="325.3" y2="625.1" stroke="#e8141c" stroke-width="1.9" opacity="1"/><line x1="333.3" y1="611.9" x2="333.8" y2="615.6" stroke="#d6cdc4" stroke-width="1.9" opacity="1"/><line x1="333.8" y1="615.6" x2="334.4" y2="619.3" stroke="#e8141c" stroke-width="1.9" opacity="1"/><line x1="294.9" y1="613.7" x2="291.0" y2="615.0" stroke="#d0a030" stroke-width="1.9" opacity="0.35"/><line x1="291.0" y1="615.0" x2="287.1" y2="616.4" stroke="#d6cdc4" stroke-width="1.9" opacity="0.35"/><line x1="325.3" y1="625.1" x2="331.2" y2="624.7" stroke="#e8141c" stroke-width="1.9" opacity="0.3"/><line x1="331.2" y1="624.7" x2="337.1" y2="624.2" stroke="#3030c8" stroke-width="1.9" opacity="0.3"/><line x1="334.4" y1="619.3" x2="335.7" y2="621.8" stroke="#e8141c" stroke-width="1.9" opacity="0.3"/><line x1="335.7" y1="621.8" x2="337.1" y2="624.2" stroke="#3030c8" stroke-width="1.9" opacity="0.3"/><line x1="325.3" y1="625.1" x2="327.1" y2="629.9" stroke="#e8141c" stroke-width="1.9" opacity="0.95"/><line x1="327.1" y1="629.9" x2="329.0" y2="634.7" stroke="#e8141c" stroke-width="1.9" opacity="0.95"/><line x1="317.8" y1="630.2" x2="319.9" y2="634.8" stroke="#e8141c" stroke-width="1.9" opacity="0.6"/><line x1="319.9" y1="634.8" x2="321.9" y2="639.4" stroke="#e8141c" stroke-width="1.9" opacity="0.6"/><line x1="299.5" y1="624.5" x2="296.0" y2="627.3" stroke="#e8141c" stroke-width="1.9" opacity="0.6"/><line x1="296.0" y1="627.3" x2="292.4" y2="630.1" stroke="#e8141c" stroke-width="1.9" opacity="0.6"/><line x1="316.6" y1="619.3" x2="315.1" y2="628.2" stroke="#d6cdc4" stroke-width="1.9" opacity="0.8"/><line x1="315.1" y1="628.2" x2="313.6" y2="637.0" stroke="#e8141c" stroke-width="1.9" opacity="0.8"/><line x1="333.3" y1="611.9" x2="336.2" y2="614.6" stroke="#d6cdc4" stroke-width="1.9" opacity="0.5"/><line x1="336.2" y1="614.6" x2="339.1" y2="617.4" stroke="#e8141c" stroke-width="1.9" opacity="0.5"/><circle cx="337.1" cy="624.2" r="4.4" fill="url(#gCo)" opacity="0.3"/><circle cx="287.1" cy="616.4" r="4.1" fill="url(#gRu)" opacity="0.35"/><circle cx="289.1" cy="618.4" r="2.5" fill="url(#gO)" opacity="0.35"/><circle cx="291.0" cy="605.0" r="2.8" fill="url(#gO)" opacity="0.45"/><circle cx="309.5" cy="642.5" r="2.5" fill="url(#gO)" opacity="0.45"/><circle cx="339.1" cy="617.4" r="2.6" fill="url(#gO)" opacity="0.5"/><circle cx="299.5" cy="624.5" r="2.8" fill="url(#gO)" opacity="0.6"/><circle cx="321.9" cy="639.4" r="2.7" fill="url(#gO)" opacity="0.6"/><circle cx="292.4" cy="630.1" r="2.7" fill="url(#gO)" opacity="0.7"/><circle cx="313.6" cy="637.0" r="2.7" fill="url(#gO)" opacity="0.8"/><circle cx="329.0" cy="634.7" r="2.8" fill="url(#gO)" opacity="0.95"/><circle cx="333.3" cy="595.3" r="2.8" fill="url(#gO)" opacity="1"/><circle cx="298.9" cy="599.3" r="2.8" fill="url(#gO)" opacity="1"/><circle cx="324.1" cy="600.5" r="2.8" fill="url(#gO)" opacity="1"/><circle cx="316.1" cy="602.8" r="2.8" fill="url(#gO)" opacity="1"/><circle cx="307.5" cy="608.0" r="2.8" fill="url(#gO)" opacity="1"/><circle cx="333.3" cy="611.9" r="4.9" fill="url(#gRu)" opacity="1"/><circle cx="301.3" cy="613.1" r="2.8" fill="url(#gO)" opacity="1"/><circle cx="294.9" cy="613.7" r="3.9" fill="url(#gFe)" opacity="1"/><circle cx="324.7" cy="615.9" r="4.4" fill="url(#gCo)" opacity="1"/><circle cx="316.6" cy="619.3" r="4.9" fill="url(#gRu)" opacity="1"/><circle cx="334.4" cy="619.3" r="2.8" fill="url(#gO)" opacity="1"/><circle cx="325.3" cy="625.1" r="2.8" fill="url(#gO)" opacity="1"/><circle cx="308.7" cy="626.2" r="4.9" fill="url(#gIr)" opacity="1"/><circle cx="317.8" cy="630.2" r="2.8" fill="url(#gO)" opacity="1"/></g>
<rect x="335.0" y="662.9" width="50" height="44" fill="#fff"/>
<g><line x1="343.2" y1="684.0" x2="384.4" y2="684.0" stroke="#e8141c" stroke-width="1.9" opacity="0.85"/><line x1="357.0" y1="689.9" x2="377.5" y2="689.9" stroke="#e8141c" stroke-width="1.9" opacity="0.85"/><line x1="364.1" y1="694.9" x2="364.1" y2="704.6" stroke="#e8141c" stroke-width="1.9" opacity="0.6"/><line x1="371.6" y1="689.8" x2="371.6" y2="700.7" stroke="#e8141c" stroke-width="1.9" opacity="0.6"/><line x1="355.0" y1="695.8" x2="355.0" y2="702.7" stroke="#cdd48e" stroke-width="1.9" opacity="0.8"/><line x1="341.3" y1="684.0" x2="352.1" y2="684.0" stroke="#d0a030" stroke-width="1.9" opacity="0.8"/><line x1="372.6" y1="687.0" x2="381.5" y2="686.0" stroke="#3030c8" stroke-width="1.9" opacity="0.6"/><line x1="339.3" y1="695.8" x2="375.6" y2="696.8" stroke="#e8141c" stroke-width="1.9" opacity="0.6"/><line x1="359.9" y1="701.7" x2="375.6" y2="699.7" stroke="#e8141c" stroke-width="1.9" opacity="0.6"/><line x1="375.3" y1="699.4" x2="375.3" y2="706.6" stroke="#e8141c" stroke-width="1.9" opacity="0.45"/><line x1="368.2" y1="704.1" x2="368.2" y2="710.5" stroke="#e8141c" stroke-width="1.9" opacity="0.35"/><line x1="341.2" y1="678.4" x2="343.2" y2="671.2" stroke="#d0a030" stroke-width="1.9" opacity="1"/><line x1="343.2" y1="671.2" x2="345.2" y2="664.0" stroke="#e8141c" stroke-width="1.9" opacity="1"/><line x1="341.2" y1="678.4" x2="339.2" y2="674.0" stroke="#d0a030" stroke-width="1.9" opacity="0.45"/><line x1="339.2" y1="674.0" x2="337.3" y2="669.7" stroke="#e8141c" stroke-width="1.9" opacity="0.45"/><line x1="341.2" y1="678.4" x2="344.4" y2="678.1" stroke="#d0a030" stroke-width="1.9" opacity="1"/><line x1="344.4" y1="678.1" x2="347.6" y2="677.8" stroke="#e8141c" stroke-width="1.9" opacity="1"/><line x1="362.9" y1="684.0" x2="362.6" y2="675.8" stroke="#d6cdc4" stroke-width="1.9" opacity="1"/><line x1="362.6" y1="675.8" x2="362.4" y2="667.5" stroke="#e8141c" stroke-width="1.9" opacity="1"/><line x1="371.0" y1="680.6" x2="370.7" y2="672.9" stroke="#3030c8" stroke-width="1.9" opacity="1"/><line x1="370.7" y1="672.9" x2="370.4" y2="665.2" stroke="#e8141c" stroke-width="1.9" opacity="1"/><line x1="379.6" y1="676.6" x2="379.6" y2="668.3" stroke="#d6cdc4" stroke-width="1.9" opacity="1"/><line x1="379.6" y1="668.3" x2="379.6" y2="660.0" stroke="#e8141c" stroke-width="1.9" opacity="1"/><line x1="355.0" y1="690.9" x2="354.4" y2="681.8" stroke="#cdd48e" stroke-width="1.9" opacity="1"/><line x1="354.4" y1="681.8" x2="353.8" y2="672.7" stroke="#e8141c" stroke-width="1.9" opacity="1"/><line x1="355.0" y1="690.9" x2="350.4" y2="690.1" stroke="#cdd48e" stroke-width="1.9" opacity="0.6"/><line x1="350.4" y1="690.1" x2="345.8" y2="689.2" stroke="#e8141c" stroke-width="1.9" opacity="0.6"/><line x1="355.0" y1="690.9" x2="359.6" y2="692.9" stroke="#cdd48e" stroke-width="1.9" opacity="1"/><line x1="359.6" y1="692.9" x2="364.1" y2="694.9" stroke="#e8141c" stroke-width="1.9" opacity="1"/><line x1="371.0" y1="680.6" x2="371.3" y2="685.2" stroke="#3030c8" stroke-width="1.9" opacity="1"/><line x1="371.3" y1="685.2" x2="371.6" y2="689.8" stroke="#e8141c" stroke-width="1.9" opacity="1"/><line x1="379.6" y1="676.6" x2="380.1" y2="680.3" stroke="#d6cdc4" stroke-width="1.9" opacity="1"/><line x1="380.1" y1="680.3" x2="380.7" y2="684.0" stroke="#e8141c" stroke-width="1.9" opacity="1"/><line x1="341.2" y1="678.4" x2="337.3" y2="679.7" stroke="#d0a030" stroke-width="1.9" opacity="0.35"/><line x1="337.3" y1="679.7" x2="333.4" y2="681.1" stroke="#d6cdc4" stroke-width="1.9" opacity="0.35"/><line x1="371.6" y1="689.8" x2="377.5" y2="689.4" stroke="#e8141c" stroke-width="1.9" opacity="0.3"/><line x1="377.5" y1="689.4" x2="383.4" y2="688.9" stroke="#3030c8" stroke-width="1.9" opacity="0.3"/><line x1="380.7" y1="684.0" x2="382.0" y2="686.5" stroke="#e8141c" stroke-width="1.9" opacity="0.3"/><line x1="382.0" y1="686.5" x2="383.4" y2="688.9" stroke="#3030c8" stroke-width="1.9" opacity="0.3"/><line x1="371.6" y1="689.8" x2="373.4" y2="694.6" stroke="#e8141c" stroke-width="1.9" opacity="0.95"/><line x1="373.4" y1="694.6" x2="375.3" y2="699.4" stroke="#e8141c" stroke-width="1.9" opacity="0.95"/><line x1="364.1" y1="694.9" x2="366.2" y2="699.5" stroke="#e8141c" stroke-width="1.9" opacity="0.6"/><line x1="366.2" y1="699.5" x2="368.2" y2="704.1" stroke="#e8141c" stroke-width="1.9" opacity="0.6"/><line x1="345.8" y1="689.2" x2="342.3" y2="692.0" stroke="#e8141c" stroke-width="1.9" opacity="0.6"/><line x1="342.3" y1="692.0" x2="338.7" y2="694.8" stroke="#e8141c" stroke-width="1.9" opacity="0.6"/><line x1="362.9" y1="684.0" x2="361.4" y2="692.9" stroke="#d6cdc4" stroke-width="1.9" opacity="0.8"/><line x1="361.4" y1="692.9" x2="359.9" y2="701.7" stroke="#e8141c" stroke-width="1.9" opacity="0.8"/><line x1="379.6" y1="676.6" x2="382.5" y2="679.3" stroke="#d6cdc4" stroke-width="1.9" opacity="0.5"/><line x1="382.5" y1="679.3" x2="385.4" y2="682.1" stroke="#e8141c" stroke-width="1.9" opacity="0.5"/><circle cx="383.4" cy="688.9" r="4.4" fill="url(#gCo)" opacity="0.3"/><circle cx="333.4" cy="681.1" r="4.1" fill="url(#gRu)" opacity="0.35"/><circle cx="335.4" cy="683.1" r="2.5" fill="url(#gO)" opacity="0.35"/><circle cx="337.3" cy="669.7" r="2.8" fill="url(#gO)" opacity="0.45"/><circle cx="355.8" cy="707.2" r="2.5" fill="url(#gO)" opacity="0.45"/><circle cx="385.4" cy="682.1" r="2.6" fill="url(#gO)" opacity="0.5"/><circle cx="345.8" cy="689.2" r="2.8" fill="url(#gO)" opacity="0.6"/><circle cx="368.2" cy="704.1" r="2.7" fill="url(#gO)" opacity="0.6"/><circle cx="338.7" cy="694.8" r="2.7" fill="url(#gO)" opacity="0.7"/><circle cx="368.7" cy="655.6" r="2.2" fill="url(#gH)" opacity="0.8"/><circle cx="359.9" cy="701.7" r="2.7" fill="url(#gO)" opacity="0.8"/><circle cx="375.3" cy="699.4" r="2.8" fill="url(#gO)" opacity="0.95"/><circle cx="379.6" cy="660.0" r="2.8" fill="url(#gO)" opacity="1"/><circle cx="374.6" cy="661.5" r="2.8" fill="url(#gO)" opacity="1"/><circle cx="345.2" cy="664.0" r="2.8" fill="url(#gO)" opacity="1"/><circle cx="370.4" cy="665.2" r="2.8" fill="url(#gO)" opacity="1"/><circle cx="362.4" cy="667.5" r="2.8" fill="url(#gO)" opacity="1"/><circle cx="353.8" cy="672.7" r="2.8" fill="url(#gO)" opacity="1"/><circle cx="379.6" cy="676.6" r="4.9" fill="url(#gRu)" opacity="1"/><circle cx="347.6" cy="677.8" r="2.8" fill="url(#gO)" opacity="1"/><circle cx="341.2" cy="678.4" r="3.9" fill="url(#gFe)" opacity="1"/><circle cx="371.0" cy="680.6" r="4.4" fill="url(#gCo)" opacity="1"/><circle cx="362.9" cy="684.0" r="4.9" fill="url(#gRu)" opacity="1"/><circle cx="380.7" cy="684.0" r="2.8" fill="url(#gO)" opacity="1"/><circle cx="371.6" cy="689.8" r="2.8" fill="url(#gO)" opacity="1"/><circle cx="355.0" cy="690.9" r="4.9" fill="url(#gIr)" opacity="1"/><circle cx="364.1" cy="694.9" r="2.8" fill="url(#gO)" opacity="1"/></g>
<rect x="229.3" y="664.8" width="50" height="44" fill="#fff"/>
<g><line x1="237.5" y1="685.9" x2="278.7" y2="685.9" stroke="#e8141c" stroke-width="1.9" opacity="0.85"/><line x1="251.3" y1="691.8" x2="271.8" y2="691.8" stroke="#e8141c" stroke-width="1.9" opacity="0.85"/><line x1="258.4" y1="696.8" x2="258.4" y2="706.5" stroke="#e8141c" stroke-width="1.9" opacity="0.6"/><line x1="265.9" y1="691.7" x2="265.9" y2="702.6" stroke="#e8141c" stroke-width="1.9" opacity="0.6"/><line x1="249.3" y1="697.7" x2="249.3" y2="704.6" stroke="#cdd48e" stroke-width="1.9" opacity="0.8"/><line x1="235.6" y1="685.9" x2="246.4" y2="685.9" stroke="#d0a030" stroke-width="1.9" opacity="0.8"/><line x1="266.9" y1="688.9" x2="275.8" y2="687.9" stroke="#3030c8" stroke-width="1.9" opacity="0.6"/><line x1="233.6" y1="697.7" x2="269.9" y2="698.7" stroke="#e8141c" stroke-width="1.9" opacity="0.6"/><line x1="254.2" y1="703.6" x2="269.9" y2="701.6" stroke="#e8141c" stroke-width="1.9" opacity="0.6"/><line x1="269.6" y1="701.3" x2="269.6" y2="708.5" stroke="#e8141c" stroke-width="1.9" opacity="0.45"/><line x1="262.5" y1="706.0" x2="262.5" y2="712.4" stroke="#e8141c" stroke-width="1.9" opacity="0.35"/><line x1="235.5" y1="680.3" x2="237.5" y2="673.1" stroke="#d0a030" stroke-width="1.9" opacity="1"/><line x1="237.5" y1="673.1" x2="239.5" y2="665.9" stroke="#e8141c" stroke-width="1.9" opacity="1"/><line x1="235.5" y1="680.3" x2="233.5" y2="675.9" stroke="#d0a030" stroke-width="1.9" opacity="0.45"/><line x1="233.5" y1="675.9" x2="231.6" y2="671.6" stroke="#e8141c" stroke-width="1.9" opacity="0.45"/><line x1="235.5" y1="680.3" x2="238.7" y2="680.0" stroke="#d0a030" stroke-width="1.9" opacity="1"/><line x1="238.7" y1="680.0" x2="241.9" y2="679.7" stroke="#e8141c" stroke-width="1.9" opacity="1"/><line x1="257.2" y1="685.9" x2="256.9" y2="677.7" stroke="#d6cdc4" stroke-width="1.9" opacity="1"/><line x1="256.9" y1="677.7" x2="256.7" y2="669.4" stroke="#e8141c" stroke-width="1.9" opacity="1"/><line x1="265.3" y1="682.5" x2="265.0" y2="674.8" stroke="#3030c8" stroke-width="1.9" opacity="1"/><line x1="265.0" y1="674.8" x2="264.7" y2="667.1" stroke="#e8141c" stroke-width="1.9" opacity="1"/><line x1="273.9" y1="678.5" x2="273.9" y2="670.2" stroke="#d6cdc4" stroke-width="1.9" opacity="1"/><line x1="273.9" y1="670.2" x2="273.9" y2="661.9" stroke="#e8141c" stroke-width="1.9" opacity="1"/><line x1="249.3" y1="692.8" x2="248.7" y2="683.7" stroke="#cdd48e" stroke-width="1.9" opacity="1"/><line x1="248.7" y1="683.7" x2="248.1" y2="674.6" stroke="#e8141c" stroke-width="1.9" opacity="1"/><line x1="249.3" y1="692.8" x2="244.7" y2="692.0" stroke="#cdd48e" stroke-width="1.9" opacity="0.6"/><line x1="244.7" y1="692.0" x2="240.1" y2="691.1" stroke="#e8141c" stroke-width="1.9" opacity="0.6"/><line x1="249.3" y1="692.8" x2="253.9" y2="694.8" stroke="#cdd48e" stroke-width="1.9" opacity="1"/><line x1="253.9" y1="694.8" x2="258.4" y2="696.8" stroke="#e8141c" stroke-width="1.9" opacity="1"/><line x1="265.3" y1="682.5" x2="265.6" y2="687.1" stroke="#3030c8" stroke-width="1.9" opacity="1"/><line x1="265.6" y1="687.1" x2="265.9" y2="691.7" stroke="#e8141c" stroke-width="1.9" opacity="1"/><line x1="273.9" y1="678.5" x2="274.4" y2="682.2" stroke="#d6cdc4" stroke-width="1.9" opacity="1"/><line x1="274.4" y1="682.2" x2="275.0" y2="685.9" stroke="#e8141c" stroke-width="1.9" opacity="1"/><line x1="235.5" y1="680.3" x2="231.6" y2="681.6" stroke="#d0a030" stroke-width="1.9" opacity="0.35"/><line x1="231.6" y1="681.6" x2="227.7" y2="683.0" stroke="#d6cdc4" stroke-width="1.9" opacity="0.35"/><line x1="265.9" y1="691.7" x2="271.8" y2="691.3" stroke="#e8141c" stroke-width="1.9" opacity="0.3"/><line x1="271.8" y1="691.3" x2="277.7" y2="690.8" stroke="#3030c8" stroke-width="1.9" opacity="0.3"/><line x1="275.0" y1="685.9" x2="276.3" y2="688.4" stroke="#e8141c" stroke-width="1.9" opacity="0.3"/><line x1="276.3" y1="688.4" x2="277.7" y2="690.8" stroke="#3030c8" stroke-width="1.9" opacity="0.3"/><line x1="265.9" y1="691.7" x2="267.7" y2="696.5" stroke="#e8141c" stroke-width="1.9" opacity="0.95"/><line x1="267.7" y1="696.5" x2="269.6" y2="701.3" stroke="#e8141c" stroke-width="1.9" opacity="0.95"/><line x1="258.4" y1="696.8" x2="260.5" y2="701.4" stroke="#e8141c" stroke-width="1.9" opacity="0.6"/><line x1="260.5" y1="701.4" x2="262.5" y2="706.0" stroke="#e8141c" stroke-width="1.9" opacity="0.6"/><line x1="240.1" y1="691.1" x2="236.6" y2="693.9" stroke="#e8141c" stroke-width="1.9" opacity="0.6"/><line x1="236.6" y1="693.9" x2="233.0" y2="696.7" stroke="#e8141c" stroke-width="1.9" opacity="0.6"/><line x1="257.2" y1="685.9" x2="255.7" y2="694.8" stroke="#d6cdc4" stroke-width="1.9" opacity="0.8"/><line x1="255.7" y1="694.8" x2="254.2" y2="703.6" stroke="#e8141c" stroke-width="1.9" opacity="0.8"/><line x1="273.9" y1="678.5" x2="276.8" y2="681.2" stroke="#d6cdc4" stroke-width="1.9" opacity="0.5"/><line x1="276.8" y1="681.2" x2="279.7" y2="684.0" stroke="#e8141c" stroke-width="1.9" opacity="0.5"/><circle cx="277.7" cy="690.8" r="4.4" fill="url(#gCo)" opacity="0.3"/><circle cx="227.7" cy="683.0" r="4.1" fill="url(#gRu)" opacity="0.35"/><circle cx="229.7" cy="685.0" r="2.5" fill="url(#gO)" opacity="0.35"/><circle cx="231.6" cy="671.6" r="2.8" fill="url(#gO)" opacity="0.45"/><circle cx="250.1" cy="709.1" r="2.5" fill="url(#gO)" opacity="0.45"/><circle cx="279.7" cy="684.0" r="2.6" fill="url(#gO)" opacity="0.5"/><circle cx="240.1" cy="691.1" r="2.8" fill="url(#gO)" opacity="0.6"/><circle cx="262.5" cy="706.0" r="2.7" fill="url(#gO)" opacity="0.6"/><circle cx="233.0" cy="696.7" r="2.7" fill="url(#gO)" opacity="0.7"/><circle cx="264.3" cy="651.6" r="2.2" fill="url(#gH)" opacity="0.8"/><circle cx="254.2" cy="703.6" r="2.7" fill="url(#gO)" opacity="0.8"/><circle cx="269.6" cy="701.3" r="2.8" fill="url(#gO)" opacity="0.95"/><circle cx="265.8" cy="660.5" r="2.8" fill="url(#gO)" opacity="1"/><circle cx="273.9" cy="661.9" r="2.8" fill="url(#gO)" opacity="1"/><circle cx="239.5" cy="665.9" r="2.8" fill="url(#gO)" opacity="1"/><circle cx="264.7" cy="667.1" r="2.8" fill="url(#gO)" opacity="1"/><circle cx="256.7" cy="669.4" r="2.8" fill="url(#gO)" opacity="1"/><circle cx="248.1" cy="674.6" r="2.8" fill="url(#gO)" opacity="1"/><circle cx="273.9" cy="678.5" r="4.9" fill="url(#gRu)" opacity="1"/><circle cx="241.9" cy="679.7" r="2.8" fill="url(#gO)" opacity="1"/><circle cx="235.5" cy="680.3" r="3.9" fill="url(#gFe)" opacity="1"/><circle cx="265.3" cy="682.5" r="4.4" fill="url(#gCo)" opacity="1"/><circle cx="257.2" cy="685.9" r="4.9" fill="url(#gRu)" opacity="1"/><circle cx="275.0" cy="685.9" r="2.8" fill="url(#gO)" opacity="1"/><circle cx="265.9" cy="691.7" r="2.8" fill="url(#gO)" opacity="1"/><circle cx="249.3" cy="692.8" r="4.9" fill="url(#gIr)" opacity="1"/><circle cx="258.4" cy="696.8" r="2.8" fill="url(#gO)" opacity="1"/></g>
<rect x="284.5" y="723.0" width="50" height="44" fill="#fff"/>
<g><line x1="292.7" y1="744.1" x2="333.9" y2="744.1" stroke="#e8141c" stroke-width="1.9" opacity="0.85"/><line x1="306.5" y1="750.0" x2="327.0" y2="750.0" stroke="#e8141c" stroke-width="1.9" opacity="0.85"/><line x1="313.6" y1="755.0" x2="313.6" y2="764.7" stroke="#e8141c" stroke-width="1.9" opacity="0.6"/><line x1="321.1" y1="749.9" x2="321.1" y2="760.8" stroke="#e8141c" stroke-width="1.9" opacity="0.6"/><line x1="304.5" y1="755.9" x2="304.5" y2="762.8" stroke="#cdd48e" stroke-width="1.9" opacity="0.8"/><line x1="290.8" y1="744.1" x2="301.6" y2="744.1" stroke="#d0a030" stroke-width="1.9" opacity="0.8"/><line x1="322.1" y1="747.1" x2="331.0" y2="746.1" stroke="#3030c8" stroke-width="1.9" opacity="0.6"/><line x1="288.8" y1="755.9" x2="325.1" y2="756.9" stroke="#e8141c" stroke-width="1.9" opacity="0.6"/><line x1="309.4" y1="761.8" x2="325.1" y2="759.8" stroke="#e8141c" stroke-width="1.9" opacity="0.6"/><line x1="324.8" y1="759.5" x2="324.8" y2="766.7" stroke="#e8141c" stroke-width="1.9" opacity="0.45"/><line x1="317.7" y1="764.2" x2="317.7" y2="770.6" stroke="#e8141c" stroke-width="1.9" opacity="0.35"/><line x1="290.7" y1="738.5" x2="292.7" y2="731.3" stroke="#d0a030" stroke-width="1.9" opacity="1"/><line x1="292.7" y1="731.3" x2="294.7" y2="724.1" stroke="#e8141c" stroke-width="1.9" opacity="1"/><line x1="290.7" y1="738.5" x2="288.7" y2="734.1" stroke="#d0a030" stroke-width="1.9" opacity="0.45"/><line x1="288.7" y1="734.1" x2="286.8" y2="729.8" stroke="#e8141c" stroke-width="1.9" opacity="0.45"/><line x1="290.7" y1="738.5" x2="293.9" y2="738.2" stroke="#d0a030" stroke-width="1.9" opacity="1"/><line x1="293.9" y1="738.2" x2="297.1" y2="737.9" stroke="#e8141c" stroke-width="1.9" opacity="1"/><line x1="312.4" y1="744.1" x2="312.1" y2="735.9" stroke="#d6cdc4" stroke-width="1.9" opacity="1"/><line x1="312.1" y1="735.9" x2="311.9" y2="727.6" stroke="#e8141c" stroke-width="1.9" opacity="1"/><line x1="320.5" y1="740.7" x2="320.2" y2="733.0" stroke="#3030c8" stroke-width="1.9" opacity="1"/><line x1="320.2" y1="733.0" x2="319.9" y2="725.3" stroke="#e8141c" stroke-width="1.9" opacity="1"/><line x1="329.1" y1="736.7" x2="329.1" y2="728.4" stroke="#d6cdc4" stroke-width="1.9" opacity="1"/><line x1="329.1" y1="728.4" x2="329.1" y2="720.1" stroke="#e8141c" stroke-width="1.9" opacity="1"/><line x1="304.5" y1="751.0" x2="303.9" y2="741.9" stroke="#cdd48e" stroke-width="1.9" opacity="1"/><line x1="303.9" y1="741.9" x2="303.3" y2="732.8" stroke="#e8141c" stroke-width="1.9" opacity="1"/><line x1="304.5" y1="751.0" x2="299.9" y2="750.2" stroke="#cdd48e" stroke-width="1.9" opacity="0.6"/><line x1="299.9" y1="750.2" x2="295.3" y2="749.3" stroke="#e8141c" stroke-width="1.9" opacity="0.6"/><line x1="304.5" y1="751.0" x2="309.1" y2="753.0" stroke="#cdd48e" stroke-width="1.9" opacity="1"/><line x1="309.1" y1="753.0" x2="313.6" y2="755.0" stroke="#e8141c" stroke-width="1.9" opacity="1"/><line x1="320.5" y1="740.7" x2="320.8" y2="745.3" stroke="#3030c8" stroke-width="1.9" opacity="1"/><line x1="320.8" y1="745.3" x2="321.1" y2="749.9" stroke="#e8141c" stroke-width="1.9" opacity="1"/><line x1="329.1" y1="736.7" x2="329.6" y2="740.4" stroke="#d6cdc4" stroke-width="1.9" opacity="1"/><line x1="329.6" y1="740.4" x2="330.2" y2="744.1" stroke="#e8141c" stroke-width="1.9" opacity="1"/><line x1="290.7" y1="738.5" x2="286.8" y2="739.8" stroke="#d0a030" stroke-width="1.9" opacity="0.35"/><line x1="286.8" y1="739.8" x2="282.9" y2="741.2" stroke="#d6cdc4" stroke-width="1.9" opacity="0.35"/><line x1="321.1" y1="749.9" x2="327.0" y2="749.5" stroke="#e8141c" stroke-width="1.9" opacity="0.3"/><line x1="327.0" y1="749.5" x2="332.9" y2="749.0" stroke="#3030c8" stroke-width="1.9" opacity="0.3"/><line x1="330.2" y1="744.1" x2="331.5" y2="746.6" stroke="#e8141c" stroke-width="1.9" opacity="0.3"/><line x1="331.5" y1="746.6" x2="332.9" y2="749.0" stroke="#3030c8" stroke-width="1.9" opacity="0.3"/><line x1="321.1" y1="749.9" x2="322.9" y2="754.7" stroke="#e8141c" stroke-width="1.9" opacity="0.95"/><line x1="322.9" y1="754.7" x2="324.8" y2="759.5" stroke="#e8141c" stroke-width="1.9" opacity="0.95"/><line x1="313.6" y1="755.0" x2="315.7" y2="759.6" stroke="#e8141c" stroke-width="1.9" opacity="0.6"/><line x1="315.7" y1="759.6" x2="317.7" y2="764.2" stroke="#e8141c" stroke-width="1.9" opacity="0.6"/><line x1="295.3" y1="749.3" x2="291.8" y2="752.1" stroke="#e8141c" stroke-width="1.9" opacity="0.6"/><line x1="291.8" y1="752.1" x2="288.2" y2="754.9" stroke="#e8141c" stroke-width="1.9" opacity="0.6"/><line x1="312.4" y1="744.1" x2="310.9" y2="753.0" stroke="#d6cdc4" stroke-width="1.9" opacity="0.8"/><line x1="310.9" y1="753.0" x2="309.4" y2="761.8" stroke="#e8141c" stroke-width="1.9" opacity="0.8"/><line x1="329.1" y1="736.7" x2="332.0" y2="739.4" stroke="#d6cdc4" stroke-width="1.9" opacity="0.5"/><line x1="332.0" y1="739.4" x2="334.9" y2="742.2" stroke="#e8141c" stroke-width="1.9" opacity="0.5"/><circle cx="332.9" cy="749.0" r="4.4" fill="url(#gCo)" opacity="0.3"/><circle cx="282.9" cy="741.2" r="4.1" fill="url(#gRu)" opacity="0.35"/><circle cx="284.9" cy="743.2" r="2.5" fill="url(#gO)" opacity="0.35"/><circle cx="286.8" cy="729.8" r="2.8" fill="url(#gO)" opacity="0.45"/><circle cx="305.3" cy="767.3" r="2.5" fill="url(#gO)" opacity="0.45"/><circle cx="334.9" cy="742.2" r="2.6" fill="url(#gO)" opacity="0.5"/><circle cx="295.3" cy="749.3" r="2.8" fill="url(#gO)" opacity="0.6"/><circle cx="317.7" cy="764.2" r="2.7" fill="url(#gO)" opacity="0.6"/><circle cx="288.2" cy="754.9" r="2.7" fill="url(#gO)" opacity="0.7"/><circle cx="309.4" cy="761.8" r="2.7" fill="url(#gO)" opacity="0.8"/><circle cx="324.8" cy="759.5" r="2.8" fill="url(#gO)" opacity="0.95"/><circle cx="329.1" cy="720.1" r="2.8" fill="url(#gO)" opacity="1"/><circle cx="294.7" cy="724.1" r="2.8" fill="url(#gO)" opacity="1"/><circle cx="319.9" cy="725.3" r="2.8" fill="url(#gO)" opacity="1"/><circle cx="311.9" cy="727.6" r="2.8" fill="url(#gO)" opacity="1"/><circle cx="303.3" cy="732.8" r="2.8" fill="url(#gO)" opacity="1"/><circle cx="329.1" cy="736.7" r="4.9" fill="url(#gRu)" opacity="1"/><circle cx="297.1" cy="737.9" r="2.8" fill="url(#gO)" opacity="1"/><circle cx="290.7" cy="738.5" r="3.9" fill="url(#gFe)" opacity="1"/><circle cx="320.5" cy="740.7" r="4.4" fill="url(#gCo)" opacity="1"/><circle cx="312.4" cy="744.1" r="4.9" fill="url(#gRu)" opacity="1"/><circle cx="330.2" cy="744.1" r="2.8" fill="url(#gO)" opacity="1"/><circle cx="321.1" cy="749.9" r="2.8" fill="url(#gO)" opacity="1"/><circle cx="304.5" cy="751.0" r="4.9" fill="url(#gIr)" opacity="1"/><circle cx="313.6" cy="755.0" r="2.8" fill="url(#gO)" opacity="1"/></g>
<text x="316.9" y="589.0" font-size="10.5" text-anchor="middle" stroke="#000" stroke-width="0.2" stroke-linejoin="round">RuIrFeCoCrO<tspan font-size="7.14" baseline-shift="-2.10" stroke-width="0.13">2</tspan></text>
<text x="233.6" y="653.4" font-size="10.5" text-anchor="middle" stroke="#000" stroke-width="0.2" stroke-linejoin="round">-OOH<tspan font-size="6.5" baseline-shift="5.2" dx="0.5" stroke-width="0.1">•</tspan></text>
<text x="379.3" y="649.3" font-size="10.5" text-anchor="middle" stroke="#000" stroke-width="0.2" stroke-linejoin="round">-OH<tspan font-size="6.5" baseline-shift="5.2" dx="0.5" stroke-width="0.1">•</tspan></text>
<text x="314.7" y="693.3" font-size="10.5" text-anchor="middle" stroke="#000" stroke-width="0.2" stroke-linejoin="round">AEM</text>
<text x="314.4" y="777.7" font-size="10.5" text-anchor="middle" stroke="#000" stroke-width="0.2" stroke-linejoin="round">-O<tspan font-size="6.5" baseline-shift="5.2" dx="0.5" stroke-width="0.1">•</tspan></text>
<circle cx="408.3" cy="610.7" r="4.5" fill="url(#gRu)"/>
<text x="420.0" y="613.7" font-size="8.0" stroke="#000" stroke-width="0.2" stroke-linejoin="round">Ru</text>
<circle cx="408.3" cy="632.4" r="4.5" fill="url(#gIr)"/>
<text x="421.5" y="635.4" font-size="8.0" stroke="#000" stroke-width="0.2" stroke-linejoin="round">Ir</text>
<circle cx="408.3" cy="654.9" r="4.2" fill="url(#gFe)"/>
<text x="420.0" y="657.9" font-size="8.0" stroke="#000" stroke-width="0.2" stroke-linejoin="round">Fe</text>
<circle cx="408.3" cy="676.8" r="4.0" fill="url(#gCo)"/>
<text x="420.0" y="679.8" font-size="8.0" stroke="#000" stroke-width="0.2" stroke-linejoin="round">Co</text>
<circle cx="408.3" cy="699.4" r="4.5" fill="url(#gCr)"/>
<text x="420.0" y="702.4" font-size="8.0" stroke="#000" stroke-width="0.2" stroke-linejoin="round">Cr</text>
<circle cx="408.3" cy="721.3" r="3.2" fill="url(#gO)"/>
<text x="420.0" y="724.3" font-size="8.0" stroke="#000" stroke-width="0.2" stroke-linejoin="round">O</text>
<circle cx="408.3" cy="742.8" r="2.2" fill="url(#gH)"/>
<text x="420.0" y="745.8" font-size="8.0" stroke="#000" stroke-width="0.2" stroke-linejoin="round">H</text>
<clipPath id="lclip"><rect x="491.9" y="582.4" width="143.5" height="172.20000000000005"/></clipPath>
<g clip-path="url(#lclip)"><path d="M501 572.6l122 0 0 195.3-84 0Z" fill="#2363d6" stroke="#2363d6" stroke-width="0" stroke-linejoin="round"/><path d="M501.8 573.2l120.4 0 0 194-82.6 0Z" fill="#286ad3" stroke="#286ad3" stroke-width="0" stroke-linejoin="round"/><path d="M502.7 573.9l118.8 0 0 192.7-81.4 0Z" fill="#2d70d0" stroke="#2d70d0" stroke-width="0" stroke-linejoin="round"/><path d="M503.5 574.5l117.3 0 0 191.4-80.1 0Z" fill="#3276cd" stroke="#3276cd" stroke-width="2.5" stroke-linejoin="round"/><path d="M504.4 575.2l115.7 0 0 190.1-78.8 0Z" fill="#377dca" stroke="#377dca" stroke-width="2.5" stroke-linejoin="round"/><path d="M505.2 575.8l114.2 0 0 188.8-77.5 0Z" fill="#3d82c7" stroke="#3d82c7" stroke-width="2.5" stroke-linejoin="round"/><path d="M506.1 576.5l112.5 0 0 187.4-76.1 0Z" fill="#4387c6" stroke="#4387c6" stroke-width="2.5" stroke-linejoin="round"/><path d="M506.9 577.2l111 0 0 186.1-74.8 0Z" fill="#498cc4" stroke="#498cc4" stroke-width="2.5" stroke-linejoin="round"/><path d="M507.7 577.8l109.5 0 0 184.8-73.5 0Z" fill="#4f91c2" stroke="#4f91c2" stroke-width="2.5" stroke-linejoin="round"/><path d="M508.6 578.5l107.9 0 0 183.5-72.2 0Z" fill="#5596c1" stroke="#5596c1" stroke-width="2.5" stroke-linejoin="round"/><path d="M509.4 579.1l106.4 0 0 182.2-70.9 0Z" fill="#5a9abf" stroke="#5a9abf" stroke-width="2.5" stroke-linejoin="round"/><path d="M510.3 579.8l104.8 0 0 180.9-69.6 0Z" fill="#5f9fbe" stroke="#5f9fbe" stroke-width="2.5" stroke-linejoin="round"/><path d="M511.1 580.4l103.2 0 0 179.6-68.3 0Z" fill="#64a4bc" stroke="#64a4bc" stroke-width="2.5" stroke-linejoin="round"/><path d="M512 581.1l101.6 0 0 178.3-67 0Z" fill="#69a9ba" stroke="#69a9ba" stroke-width="2.5" stroke-linejoin="round"/><path d="M512.8 581.7l100.1 0 0 177-65.7 0Z" fill="#6eaeb9" stroke="#6eaeb9" stroke-width="2.5" stroke-linejoin="round"/><path d="M513.7 582.4l98.5 0 0 175.6-64.4 0Z" fill="#72b2b7" stroke="#72b2b7" stroke-width="2.5" stroke-linejoin="round"/><path d="M514.5 582.9l97 0 0 174.6-63.1 0Z" fill="#77b7b6" stroke="#77b7b6" stroke-width="2.5" stroke-linejoin="round"/><path d="M515.3 583.5l95.5 0 0 173.5-61.8 0Z" fill="#7cbcb4" stroke="#7cbcb4" stroke-width="2.5" stroke-linejoin="round"/><path d="M516.1 584l93.9 0 0 172.4-60.4 0Z" fill="#81c1b2" stroke="#81c1b2" stroke-width="2.5" stroke-linejoin="round"/><path d="M517 584.6l92.3 0 0 171.3-59 0Z" fill="#86c6b1" stroke="#86c6b1" stroke-width="2.5" stroke-linejoin="round"/><path d="M517.8 585.1l90.8 0 0 170.2-57.7 0Z" fill="#8ccaae" stroke="#8ccaae" stroke-width="2.5" stroke-linejoin="round"/><path d="M518.6 585.6l89 0 0 169.2-56.1 0Z" fill="#94cfab" stroke="#94cfab" stroke-width="2.5" stroke-linejoin="round"/><path d="M519.4 586.2l87.1 0 0 168.1-54.4 0Z" fill="#9cd4a8" stroke="#9cd4a8" stroke-width="2.5" stroke-linejoin="round"/><path d="M520.2 586.7l85.2 0 0 167-52.7 0Z" fill="#a4d9a5" stroke="#a4d9a5" stroke-width="2.5" stroke-linejoin="round"/><path d="M521.1 587.3l83.3 0 0 165.9-51.1 0Z" fill="#acdea2" stroke="#acdea2" stroke-width="2.5" stroke-linejoin="round"/><path d="M521.9 587.8l81.4 0 0 164.8-49.4 0Z" fill="#b4e2a0" stroke="#b4e2a0" stroke-width="2.5" stroke-linejoin="round"/><path d="M523 589.7l79.7 0 0 161.1-48.4 0Z" fill="#bce7a0" stroke="#bce7a0" stroke-width="2.5" stroke-linejoin="round"/><path d="M524.1 591.6l77.9 0 0 157.3-47.4 0Z" fill="#c4eca0" stroke="#c4eca0" stroke-width="2.5" stroke-linejoin="round"/><path d="M525.1 593.4l76.2 0 0 153.6-46.3 0Z" fill="#ccf1a0" stroke="#ccf1a0" stroke-width="2.5" stroke-linejoin="round"/><path d="M526.2 595.3l74.5 0 0 149.9-45.3 0Z" fill="#d4f6a0" stroke="#d4f6a0" stroke-width="2.5" stroke-linejoin="round"/><path d="M527.3 597.2l72.7 0 0 146.1-44.3 0Z" fill="#d9f69f" stroke="#d9f69f" stroke-width="2.5" stroke-linejoin="round"/><path d="M530.1 598.3l66.8 0 0 143.8-38.8 0Z" fill="#daf19e" stroke="#daf19e" stroke-width="2.5" stroke-linejoin="round"/><path d="M532.9 599.5l61 0 0 141.4-33.5 0Z" fill="#dcec9d" stroke="#dcec9d" stroke-width="2.5" stroke-linejoin="round"/><path d="M535.7 600.7l55.1 0 0 139-28 0Z" fill="#dee79c" stroke="#dee79c" stroke-width="2.5" stroke-linejoin="round"/><path d="M538.5 601.9l49.3 0 0 136.7-22.7 0Z" fill="#dfe29b" stroke="#dfe29b" stroke-width="2.5" stroke-linejoin="round"/><path d="M541.4 603.1l43.3 0 0 134.3-17.2 0Z" fill="#e0dc98" stroke="#e0dc98" stroke-width="2.5" stroke-linejoin="round"/><path d="M542.1 603.9l42 0 0 132.6-16.2 0Z" fill="#e0d594" stroke="#e0d594" stroke-width="2.5" stroke-linejoin="round"/><path d="M542.9 604.8l40.6 0 0 130.8-15.1 0Z" fill="#e0ce90" stroke="#e0ce90" stroke-width="2.5" stroke-linejoin="round"/><path d="M543.7 605.7l39.3 0 0 129.1-14.2 0Z" fill="#e0c78c" stroke="#e0c78c" stroke-width="2.5" stroke-linejoin="round"/><path d="M544.5 606.5l37.9 0 0 127.4-13.1 0Z" fill="#e0c088" stroke="#e0c088" stroke-width="2.5" stroke-linejoin="round"/><path d="M545.3 607.4l36.5 0 0 125.7-12.1 0Z" fill="#e0b985" stroke="#e0b985" stroke-width="2.5" stroke-linejoin="round"/><path d="M546.1 608.3l35.1 0 0 123.9-11 0Z" fill="#e1b282" stroke="#e1b282" stroke-width="2.5" stroke-linejoin="round"/><path d="M546.9 609.1l33.8 0 0 122.2-10.1 0Z" fill="#e2ac7f" stroke="#e2ac7f" stroke-width="2.5" stroke-linejoin="round"/><path d="M547.7 610l32.4 0 0 120.5-9 0Z" fill="#e3a67c" stroke="#e3a67c" stroke-width="2.5" stroke-linejoin="round"/><path d="M548.5 610.9l31 0 0 118.7-7.9 0Z" fill="#e49f79" stroke="#e49f79" stroke-width="2.5" stroke-linejoin="round"/><path d="M549.3 611.7l29.7 0 0 117-7 0Z" fill="#e49976" stroke="#e49976" stroke-width="2.5" stroke-linejoin="round"/><path d="M550.2 612.6l28.2 0 0 115.3-5.7 0Z" fill="#e59473" stroke="#e59473" stroke-width="2.5" stroke-linejoin="round"/><path d="M551.2 613.5l26.6 0 0 113.5-4.5 0Z" fill="#e68e70" stroke="#e68e70" stroke-width="2.5" stroke-linejoin="round"/><path d="M552.2 614.3l25 0 0 111.8-3.3 0Z" fill="#e7886d" stroke="#e7886d" stroke-width="2.5" stroke-linejoin="round"/><path d="M553.2 615.3l23.4 0 0 109.9-2 0Z" fill="#e8836a" stroke="#e8836a" stroke-width="2.5" stroke-linejoin="round"/><path d="M554.2 616.2l21.7 0 0 108.1-.7 0Z" fill="#e87d66" stroke="#e87d66" stroke-width="2.5" stroke-linejoin="round"/><path d="M555.2 617.1l20.1 0 0 106.2 .5 0Z" fill="#e87661" stroke="#e87661" stroke-width="2.5" stroke-linejoin="round"/><path d="M556.2 618l18.4 0 0 104.4 1.9 0Z" fill="#e8705c" stroke="#e8705c" stroke-width="2.5" stroke-linejoin="round"/><path d="M557.2 618.9l16.8 0 0 102.6 3.1 0Z" fill="#e86a57" stroke="#e86a57" stroke-width="2.5" stroke-linejoin="round"/><path d="M558.2 619.9l15.2 0 0 100.7 4.3 0Z" fill="#e86352" stroke="#e86352" stroke-width="2.5" stroke-linejoin="round"/><path d="M559.1 620.8l13.6 0 0 98.9 5.7 0Z" fill="#e85d4e" stroke="#e85d4e" stroke-width="2.5" stroke-linejoin="round"/><path d="M560.7 622.4l11.1 0 0 95.6 7.5 0Z" fill="#e8564b" stroke="#e8564b" stroke-width="2.5" stroke-linejoin="round"/><path d="M562.3 624.1l8.5 0 0 92.2 9.4 0Z" fill="#e85048" stroke="#e85048" stroke-width="2.5" stroke-linejoin="round"/><path d="M563.9 625.8l6 0 0 88.8 11.2 0Z" fill="#e84a45" stroke="#e84a45" stroke-width="2.5" stroke-linejoin="round"/><path d="M565.4 627.5l3.5 0 0 85.5 13.1 0Z" fill="#e84342" stroke="#e84342" stroke-width="2.5" stroke-linejoin="round"/><path d="M567 629.1l.9 0 0 82.2 15.1 0Z" fill="#e84040" stroke="#e84040" stroke-width="2.5" stroke-linejoin="round"/><path d="M567 629.1l.9 0 0 82.2 15.1 0Z" fill="#e84040" stroke="#e84040" stroke-width="2.5" stroke-linejoin="round"/></g>
<g clip-path="url(#lclip)"><path d="M511.6 580.8l102.4 0 0 178.9-67.7 0Z" fill="none" stroke="#506070" stroke-opacity="0.5" stroke-width="0.6" stroke-linejoin="round"/></g>
<g clip-path="url(#lclip)"><path d="M521.9 587.8l81.4 0 0 164.8-49.4 0Z" fill="none" stroke="#506070" stroke-opacity="0.55" stroke-width="0.6" stroke-linejoin="round"/></g>
<g clip-path="url(#lclip)"><path d="M541.4 603.1l43.3 0 0 134.3-17.2 0Z" fill="none" stroke="#506070" stroke-opacity="0.2" stroke-width="0.6" stroke-linejoin="round"/></g>
<g clip-path="url(#lclip)"><path d="M559.1 620.8l13.6 0 0 98.9 5.7 0Z" fill="none" stroke="#506070" stroke-opacity="0.2" stroke-width="0.6" stroke-linejoin="round"/></g>
<rect x="491.90" y="582.40" width="143.50" height="172.20" fill="none" stroke="#222" stroke-width="1.0"/>
<line x1="489.70" y1="754.60" x2="491.90" y2="754.60" stroke="#000" stroke-width="0.8"/>
<text x="486.9" y="758.6" font-size="8.2" text-anchor="end" stroke="#000" stroke-width="0.2" stroke-linejoin="round">-1.0</text>
<line x1="489.70" y1="730.00" x2="491.90" y2="730.00" stroke="#000" stroke-width="0.8"/>
<text x="486.9" y="734.0" font-size="8.2" text-anchor="end" stroke="#000" stroke-width="0.2" stroke-linejoin="round">-0.5</text>
<line x1="489.70" y1="705.40" x2="491.90" y2="705.40" stroke="#000" stroke-width="0.8"/>
<text x="486.9" y="709.4" font-size="8.2" text-anchor="end" stroke="#000" stroke-width="0.2" stroke-linejoin="round">0.0</text>
<line x1="489.70" y1="680.80" x2="491.90" y2="680.80" stroke="#000" stroke-width="0.8"/>
<text x="486.9" y="684.8" font-size="8.2" text-anchor="end" stroke="#000" stroke-width="0.2" stroke-linejoin="round">0.5</text>
<line x1="489.70" y1="656.20" x2="491.90" y2="656.20" stroke="#000" stroke-width="0.8"/>
<text x="486.9" y="660.2" font-size="8.2" text-anchor="end" stroke="#000" stroke-width="0.2" stroke-linejoin="round">1.0</text>
<line x1="489.70" y1="631.60" x2="491.90" y2="631.60" stroke="#000" stroke-width="0.8"/>
<text x="486.9" y="635.6" font-size="8.2" text-anchor="end" stroke="#000" stroke-width="0.2" stroke-linejoin="round">1.5</text>
<line x1="489.70" y1="607.00" x2="491.90" y2="607.00" stroke="#000" stroke-width="0.8"/>
<text x="486.9" y="611.0" font-size="8.2" text-anchor="end" stroke="#000" stroke-width="0.2" stroke-linejoin="round">2.0</text>
<line x1="489.70" y1="582.40" x2="491.90" y2="582.40" stroke="#000" stroke-width="0.8"/>
<text x="486.9" y="586.4" font-size="8.2" text-anchor="end" stroke="#000" stroke-width="0.2" stroke-linejoin="round">2.5</text>
<line x1="490.60" y1="742.30" x2="491.90" y2="742.30" stroke="#000" stroke-width="0.7"/>
<line x1="490.60" y1="717.70" x2="491.90" y2="717.70" stroke="#000" stroke-width="0.7"/>
<line x1="490.60" y1="693.10" x2="491.90" y2="693.10" stroke="#000" stroke-width="0.7"/>
<line x1="490.60" y1="668.50" x2="491.90" y2="668.50" stroke="#000" stroke-width="0.7"/>
<line x1="490.60" y1="643.90" x2="491.90" y2="643.90" stroke="#000" stroke-width="0.7"/>
<line x1="490.60" y1="619.30" x2="491.90" y2="619.30" stroke="#000" stroke-width="0.7"/>
<line x1="490.60" y1="594.70" x2="491.90" y2="594.70" stroke="#000" stroke-width="0.7"/>
<line x1="491.90" y1="754.60" x2="491.90" y2="756.80" stroke="#000" stroke-width="0.8"/>
<text x="491.9" y="767.1" font-size="8.2" text-anchor="middle" stroke="#000" stroke-width="0.2" stroke-linejoin="round">0.0</text>
<line x1="515.81" y1="754.60" x2="515.81" y2="756.80" stroke="#000" stroke-width="0.8"/>
<text x="515.8" y="767.1" font-size="8.2" text-anchor="middle" stroke="#000" stroke-width="0.2" stroke-linejoin="round">0.5</text>
<line x1="539.73" y1="754.60" x2="539.73" y2="756.80" stroke="#000" stroke-width="0.8"/>
<text x="539.7" y="767.1" font-size="8.2" text-anchor="middle" stroke="#000" stroke-width="0.2" stroke-linejoin="round">1.0</text>
<line x1="563.64" y1="754.60" x2="563.64" y2="756.80" stroke="#000" stroke-width="0.8"/>
<text x="563.6" y="767.1" font-size="8.2" text-anchor="middle" stroke="#000" stroke-width="0.2" stroke-linejoin="round">1.5</text>
<line x1="587.56" y1="754.60" x2="587.56" y2="756.80" stroke="#000" stroke-width="0.8"/>
<text x="587.6" y="767.1" font-size="8.2" text-anchor="middle" stroke="#000" stroke-width="0.2" stroke-linejoin="round">2.0</text>
<line x1="611.47" y1="754.60" x2="611.47" y2="756.80" stroke="#000" stroke-width="0.8"/>
<text x="611.5" y="767.1" font-size="8.2" text-anchor="middle" stroke="#000" stroke-width="0.2" stroke-linejoin="round">2.5</text>
<line x1="635.39" y1="754.60" x2="635.39" y2="756.80" stroke="#000" stroke-width="0.8"/>
<text x="635.4" y="767.1" font-size="8.2" text-anchor="middle" stroke="#000" stroke-width="0.2" stroke-linejoin="round">3.0</text>
<line x1="503.86" y1="754.60" x2="503.86" y2="755.90" stroke="#000" stroke-width="0.7"/>
<line x1="527.77" y1="754.60" x2="527.77" y2="755.90" stroke="#000" stroke-width="0.7"/>
<line x1="551.69" y1="754.60" x2="551.69" y2="755.90" stroke="#000" stroke-width="0.7"/>
<line x1="575.60" y1="754.60" x2="575.60" y2="755.90" stroke="#000" stroke-width="0.7"/>
<line x1="599.52" y1="754.60" x2="599.52" y2="755.90" stroke="#000" stroke-width="0.7"/>
<line x1="623.43" y1="754.60" x2="623.43" y2="755.90" stroke="#000" stroke-width="0.7"/>
<text x="563.0" y="777.8" font-size="10.0" text-anchor="middle" stroke="#000" stroke-width="0.2" stroke-linejoin="round">ΔG<tspan font-size="6.80" baseline-shift="-2.00" stroke-width="0.13">O</tspan> - ΔG<tspan font-size="6.80" baseline-shift="-2.00" stroke-width="0.13">OH</tspan> (eV)</text>
<text x="471.2" y="670.3" font-size="10.0" text-anchor="middle" stroke="#000" stroke-width="0.2" stroke-linejoin="round" transform="rotate(-90 471.2 670.3)">ΔG<tspan font-size="6.80" baseline-shift="-2.00" stroke-width="0.13">OH</tspan> (eV)</text>
<text x="455.7" y="574.9" font-size="12.8" font-weight="bold">l</text>
<path d="M501.9 568.6 L506.4 573.1 L501.9 577.6 L497.4 573.1Z" fill="#e4e4e4" stroke="#9a9a9a" stroke-width="0.7"/>
<text x="510.3" y="576.6" font-size="9.3" stroke="#000" stroke-width="0.2" stroke-linejoin="round">RuO<tspan font-size="6.32" baseline-shift="-1.86" stroke-width="0.13">2</tspan></text>
<circle cx="551.5" cy="573.1" r="4.6" fill="#b4d0f4" stroke="#6aa0e8" stroke-width="0.8"/>
<text x="560.8" y="576.6" font-size="9.3" stroke="#000" stroke-width="0.2" stroke-linejoin="round">RuIrFeCoCrO<tspan font-size="6.32" baseline-shift="-1.86" stroke-width="0.13">2</tspan></text>
<circle cx="582" cy="635.2" r="2.6" fill="#b4d0f4" stroke="#d8e6fa" stroke-width="0.6"/>
<circle cx="573.7" cy="650.3" r="2.6" fill="#b4d0f4" stroke="#d8e6fa" stroke-width="0.6"/>
<circle cx="545.6" cy="654.6" r="2.6" fill="#b4d0f4" stroke="#d8e6fa" stroke-width="0.6"/>
<circle cx="567" cy="654.3" r="2.6" fill="#b4d0f4" stroke="#d8e6fa" stroke-width="0.6"/>
<circle cx="583" cy="680.4" r="2.6" fill="#b4d0f4" stroke="#d8e6fa" stroke-width="0.6"/>
<circle cx="574" cy="698.7" r="2.6" fill="#b4d0f4" stroke="#d8e6fa" stroke-width="0.6"/>
<circle cx="564" cy="711.5" r="2.6" fill="#b4d0f4" stroke="#d8e6fa" stroke-width="0.6"/>
<circle cx="565" cy="729.8" r="2.6" fill="#b4d0f4" stroke="#d8e6fa" stroke-width="0.6"/>
<path d="M556.3 678.7 L559.5999999999999 682 L556.3 685.3 L553.0 682Z" fill="#d4d4d4" stroke="#b8b8b8" stroke-width="0.6"/>
<path d="M565.3 681.4000000000001 L568.5999999999999 684.7 L565.3 688.0 L562.0 684.7Z" fill="#d4d4d4" stroke="#b8b8b8" stroke-width="0.6"/>
<text x="587.4" y="632.2" font-size="8.3" text-anchor="middle" stroke="#000" stroke-width="0.2" stroke-linejoin="round">Co_11</text>
<text x="582.4" y="655.0" font-size="8.3" text-anchor="middle" stroke="#000" stroke-width="0.2" stroke-linejoin="round">Co</text>
<text x="566.3" y="666.6" font-size="8.3" text-anchor="middle" stroke="#000" stroke-width="0.2" stroke-linejoin="round">Cr</text>
<text x="542.3" y="684.0" font-size="8.3" text-anchor="middle" stroke="#000" stroke-width="0.2" stroke-linejoin="round">AEM</text>
<text x="561.3" y="696.7" font-size="8.3" text-anchor="middle" stroke="#000" stroke-width="0.2" stroke-linejoin="round">LOM</text>
<text x="588.0" y="692.7" font-size="8.3" text-anchor="middle" stroke="#000" stroke-width="0.2" stroke-linejoin="round">Ir_5</text>
<text x="574.7" y="710.1" font-size="8.3" text-anchor="middle" stroke="#000" stroke-width="0.2" stroke-linejoin="round">Ir</text>
<text x="571.3" y="723.5" font-size="8.3" text-anchor="middle" stroke="#000" stroke-width="0.2" stroke-linejoin="round">Ir_19</text>
<rect x="648" y="588.0" width="20.75" height="1.9" fill="#2060d8"/>
<rect x="648" y="589.5" width="20.75" height="7.1" fill="#2668d4"/>
<rect x="648" y="596.2" width="20.75" height="7.1" fill="#3378cc"/>
<rect x="648" y="602.9" width="20.75" height="7.1" fill="#4186c6"/>
<rect x="648" y="609.6" width="20.75" height="7.1" fill="#5092c2"/>
<rect x="648" y="616.3" width="20.75" height="7.1" fill="#5e9ebe"/>
<rect x="648" y="623.0" width="20.75" height="7.1" fill="#6aaaba"/>
<rect x="648" y="629.7" width="20.75" height="7.1" fill="#76b6b6"/>
<rect x="648" y="636.4" width="20.75" height="7.1" fill="#82c2b2"/>
<rect x="648" y="643.1" width="20.75" height="7.1" fill="#92ceac"/>
<rect x="648" y="649.8" width="20.75" height="7.1" fill="#a6daa4"/>
<rect x="648" y="656.5" width="20.75" height="7.1" fill="#bae6a0"/>
<rect x="648" y="663.2" width="20.75" height="7.1" fill="#cef2a0"/>
<rect x="648" y="669.9" width="20.75" height="7.1" fill="#daf29e"/>
<rect x="648" y="676.6" width="20.75" height="7.1" fill="#dee69c"/>
<rect x="648" y="683.3" width="20.75" height="7.1" fill="#e0d795"/>
<rect x="648" y="690.0" width="20.75" height="7.1" fill="#e0c58b"/>
<rect x="648" y="696.7" width="20.75" height="7.1" fill="#e1b482"/>
<rect x="648" y="703.4" width="20.75" height="7.1" fill="#e3a47c"/>
<rect x="648" y="710.1" width="20.75" height="7.1" fill="#e59574"/>
<rect x="648" y="716.8" width="20.75" height="7.1" fill="#e7876c"/>
<rect x="648" y="723.5" width="20.75" height="7.1" fill="#e87862"/>
<rect x="648" y="730.2" width="20.75" height="7.1" fill="#e86856"/>
<rect x="648" y="736.9" width="20.75" height="7.1" fill="#e8584c"/>
<rect x="648" y="743.6" width="20.75" height="7.1" fill="#e84844"/>
<rect x="648" y="750.3" width="20.75" height="5.1" fill="#e84040"/>
<rect x="648" y="583" width="20.75" height="172" fill="none" stroke="#555" stroke-width="0.6"/>
<rect x="648" y="583" width="20.75" height="5" fill="#fff" stroke="#555" stroke-width="0.6"/>
<line x1="668.75" y1="589.50" x2="670.75" y2="589.50" stroke="#000" stroke-width="0.7"/>
<text x="673.3" y="592.2" font-size="8.2" stroke="#000" stroke-width="0.2" stroke-linejoin="round">1.5</text>
<line x1="668.75" y1="616.30" x2="670.75" y2="616.30" stroke="#000" stroke-width="0.7"/>
<text x="673.3" y="619.0" font-size="8.2" stroke="#000" stroke-width="0.2" stroke-linejoin="round">1.3</text>
<line x1="668.75" y1="643.10" x2="670.75" y2="643.10" stroke="#000" stroke-width="0.7"/>
<text x="673.3" y="645.8" font-size="8.2" stroke="#000" stroke-width="0.2" stroke-linejoin="round">1.1</text>
<line x1="668.75" y1="669.90" x2="670.75" y2="669.90" stroke="#000" stroke-width="0.7"/>
<text x="673.3" y="672.6" font-size="8.2" stroke="#000" stroke-width="0.2" stroke-linejoin="round">0.9</text>
<line x1="668.75" y1="696.70" x2="670.75" y2="696.70" stroke="#000" stroke-width="0.7"/>
<text x="673.3" y="699.4" font-size="8.2" stroke="#000" stroke-width="0.2" stroke-linejoin="round">0.7</text>
<line x1="668.75" y1="723.50" x2="670.75" y2="723.50" stroke="#000" stroke-width="0.7"/>
<text x="673.3" y="726.2" font-size="8.2" stroke="#000" stroke-width="0.2" stroke-linejoin="round">0.5</text>
<line x1="668.75" y1="750.30" x2="670.75" y2="750.30" stroke="#000" stroke-width="0.7"/>
<text x="673.3" y="753.0" font-size="8.2" stroke="#000" stroke-width="0.2" stroke-linejoin="round">0.3</text>
<text x="657.0" y="579.5" font-size="8" text-anchor="middle" stroke="#000" stroke-width="0.2" stroke-linejoin="round">η<tspan font-size="5.44" baseline-shift="-1.60" stroke-width="0.13">OER</tspan> (V)</text>
</svg></body></html>
